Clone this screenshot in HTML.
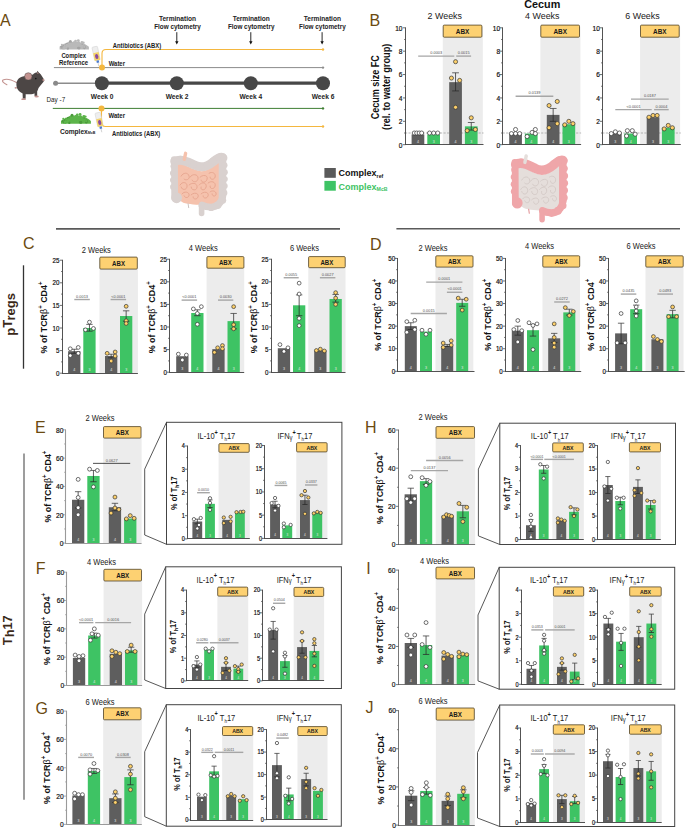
<!DOCTYPE html>
<html><head><meta charset="utf-8"><style>
html,body{margin:0;padding:0;background:#fff;}
svg{display:block;}
text{font-family:"Liberation Sans", sans-serif;}
</style></head><body>
<svg width="685" height="828" viewBox="0 0 685 828">
<rect x="442.8" y="26.8" width="40" height="117.9" fill="#ececec"/>
<line x1="405" y1="133.01" x2="483.5" y2="133.01" stroke="#9a9a9a" stroke-width="0.7" stroke-dasharray="2.2,1.3"/>
<rect x="411.6" y="134.41" width="12.7" height="10.29" fill="#5e5e5e"/>
<rect x="427.3" y="134.41" width="12.7" height="10.29" fill="#3ec364"/>
<rect x="449.2" y="82.16" width="12.7" height="62.54" fill="#5e5e5e"/>
<rect x="464.9" y="126.35" width="12.7" height="18.35" fill="#3ec364"/>
<circle cx="414.26" cy="133.01" r="2.05" fill="#fff" stroke="#333" stroke-width="0.7"/>
<circle cx="416.72" cy="133.01" r="2.05" fill="#fff" stroke="#333" stroke-width="0.7"/>
<circle cx="419.18" cy="133.01" r="2.05" fill="#fff" stroke="#333" stroke-width="0.7"/>
<circle cx="421.64" cy="133.01" r="2.05" fill="#fff" stroke="#333" stroke-width="0.7"/>
<text x="417.95" y="142.5" font-size="3.6" text-anchor="middle" fill="#e8e8e8">4</text>
<circle cx="429.55" cy="133.01" r="2.05" fill="#fff" stroke="#333" stroke-width="0.7"/>
<circle cx="433.65" cy="133.01" r="2.05" fill="#fff" stroke="#333" stroke-width="0.7"/>
<circle cx="437.75" cy="133.01" r="2.05" fill="#fff" stroke="#333" stroke-width="0.7"/>
<text x="433.65" y="142.5" font-size="3.6" text-anchor="middle" fill="#e8e8e8">3</text>
<line x1="455.55" y1="90.93" x2="455.55" y2="72.81" stroke="#2a2a2a" stroke-width="0.75"/>
<line x1="452.15" y1="72.81" x2="458.95" y2="72.81" stroke="#3a3a3a" stroke-width="0.75"/>
<line x1="452.15" y1="90.93" x2="458.95" y2="90.93" stroke="#2a2a2a" stroke-width="0.75"/>
<circle cx="455.55" cy="61.7" r="2.05" fill="#fdd06a" stroke="#333" stroke-width="0.7"/>
<circle cx="451.45" cy="78.07" r="2.05" fill="#fdd06a" stroke="#333" stroke-width="0.7"/>
<circle cx="459.65" cy="80.4" r="2.05" fill="#fdd06a" stroke="#333" stroke-width="0.7"/>
<circle cx="455.55" cy="107.29" r="2.05" fill="#fdd06a" stroke="#333" stroke-width="0.7"/>
<text x="455.55" y="142.5" font-size="3.6" text-anchor="middle" fill="#e8e8e8">4</text>
<line x1="471.25" y1="130.09" x2="471.25" y2="122.49" stroke="#2a2a2a" stroke-width="0.75"/>
<line x1="467.85" y1="122.49" x2="474.65" y2="122.49" stroke="#3a3a3a" stroke-width="0.75"/>
<line x1="467.85" y1="130.09" x2="474.65" y2="130.09" stroke="#2a2a2a" stroke-width="0.75"/>
<circle cx="471.25" cy="117.81" r="2.05" fill="#fdd06a" stroke="#333" stroke-width="0.7"/>
<circle cx="467.15" cy="130.67" r="2.05" fill="#fdd06a" stroke="#333" stroke-width="0.7"/>
<circle cx="475.35" cy="129.5" r="2.05" fill="#fdd06a" stroke="#333" stroke-width="0.7"/>
<text x="471.25" y="142.5" font-size="3.6" text-anchor="middle" fill="#e8e8e8">3</text>
<rect x="443.2" y="25.1" width="38.7" height="12.1" rx="1" fill="#fdd172" stroke="#45391f" stroke-width="0.75"/>
<text transform="translate(462.55 33.9) scale(1 1.1)" font-size="6.4" text-anchor="middle" font-weight="bold" fill="#1a1a1a">ABX</text>
<line x1="405.5" y1="27.4" x2="405.5" y2="145" stroke="#4a4a4a" stroke-width="0.95"/>
<line x1="405" y1="144.5" x2="483.5" y2="144.5" stroke="#4a4a4a" stroke-width="0.95"/>
<line x1="402.9" y1="144.7" x2="405.5" y2="144.7" stroke="#4a4a4a" stroke-width="0.8"/>
<text transform="translate(402.5 147.5) scale(1 1.18)" font-size="6.6" text-anchor="end" fill="#111" stroke="#111" stroke-width="0.18">0</text>
<line x1="404" y1="133.01" x2="405.5" y2="133.01" stroke="#4a4a4a" stroke-width="0.7"/>
<line x1="402.9" y1="121.32" x2="405.5" y2="121.32" stroke="#4a4a4a" stroke-width="0.8"/>
<text transform="translate(402.5 124.12) scale(1 1.18)" font-size="6.6" text-anchor="end" fill="#111" stroke="#111" stroke-width="0.18">2</text>
<line x1="404" y1="109.63" x2="405.5" y2="109.63" stroke="#4a4a4a" stroke-width="0.7"/>
<line x1="402.9" y1="97.94" x2="405.5" y2="97.94" stroke="#4a4a4a" stroke-width="0.8"/>
<text transform="translate(402.5 100.74) scale(1 1.18)" font-size="6.6" text-anchor="end" fill="#111" stroke="#111" stroke-width="0.18">4</text>
<line x1="404" y1="86.25" x2="405.5" y2="86.25" stroke="#4a4a4a" stroke-width="0.7"/>
<line x1="402.9" y1="74.56" x2="405.5" y2="74.56" stroke="#4a4a4a" stroke-width="0.8"/>
<text transform="translate(402.5 77.36) scale(1 1.18)" font-size="6.6" text-anchor="end" fill="#111" stroke="#111" stroke-width="0.18">6</text>
<line x1="404" y1="62.87" x2="405.5" y2="62.87" stroke="#4a4a4a" stroke-width="0.7"/>
<line x1="402.9" y1="51.18" x2="405.5" y2="51.18" stroke="#4a4a4a" stroke-width="0.8"/>
<text transform="translate(402.5 53.98) scale(1 1.18)" font-size="6.6" text-anchor="end" fill="#111" stroke="#111" stroke-width="0.18">8</text>
<line x1="404" y1="39.49" x2="405.5" y2="39.49" stroke="#4a4a4a" stroke-width="0.7"/>
<line x1="402.9" y1="27.8" x2="405.5" y2="27.8" stroke="#4a4a4a" stroke-width="0.8"/>
<text transform="translate(402.5 30.6) scale(1 1.18)" font-size="6.6" text-anchor="end" fill="#111" stroke="#111" stroke-width="0.18">10</text>
<line x1="418.2" y1="56.09" x2="454.3" y2="56.09" stroke="#a6a6a6" stroke-width="1.4"/>
<text x="436.25" y="54.29" font-size="3.9" text-anchor="middle" fill="#505050">0.0003</text>
<line x1="456.2" y1="56.09" x2="471.1" y2="56.09" stroke="#a6a6a6" stroke-width="1.4"/>
<text x="463.65" y="54.29" font-size="3.9" text-anchor="middle" fill="#505050">0.0015</text>
<rect x="540.4" y="26.8" width="40" height="117.9" fill="#ececec"/>
<line x1="502.6" y1="133.01" x2="581.1" y2="133.01" stroke="#9a9a9a" stroke-width="0.7" stroke-dasharray="2.2,1.3"/>
<rect x="509.2" y="133.01" width="12.7" height="11.69" fill="#5e5e5e"/>
<rect x="524.9" y="133.59" width="12.7" height="11.11" fill="#3ec364"/>
<rect x="546.8" y="114.89" width="12.7" height="29.81" fill="#5e5e5e"/>
<rect x="562.5" y="124.24" width="12.7" height="20.46" fill="#3ec364"/>
<circle cx="515.55" cy="129.5" r="2.05" fill="#fff" stroke="#333" stroke-width="0.7"/>
<circle cx="511.45" cy="133.59" r="2.05" fill="#fff" stroke="#333" stroke-width="0.7"/>
<circle cx="515.55" cy="133.59" r="2.05" fill="#fff" stroke="#333" stroke-width="0.7"/>
<circle cx="519.65" cy="133.59" r="2.05" fill="#fff" stroke="#333" stroke-width="0.7"/>
<text x="515.55" y="142.5" font-size="3.6" text-anchor="middle" fill="#e8e8e8">4</text>
<circle cx="535.35" cy="129.5" r="2.05" fill="#fff" stroke="#333" stroke-width="0.7"/>
<circle cx="532.07" cy="132.43" r="2.05" fill="#fff" stroke="#333" stroke-width="0.7"/>
<circle cx="527.15" cy="136.52" r="2.05" fill="#fff" stroke="#333" stroke-width="0.7"/>
<circle cx="535.35" cy="133.59" r="2.05" fill="#fff" stroke="#333" stroke-width="0.7"/>
<text x="531.25" y="142.5" font-size="3.6" text-anchor="middle" fill="#e8e8e8">4</text>
<line x1="553.15" y1="121.32" x2="553.15" y2="108.46" stroke="#2a2a2a" stroke-width="0.75"/>
<line x1="549.75" y1="108.46" x2="556.55" y2="108.46" stroke="#3a3a3a" stroke-width="0.75"/>
<line x1="549.75" y1="121.32" x2="556.55" y2="121.32" stroke="#2a2a2a" stroke-width="0.75"/>
<circle cx="557.25" cy="101.45" r="2.05" fill="#fdd06a" stroke="#333" stroke-width="0.7"/>
<circle cx="549.05" cy="105.54" r="2.05" fill="#fdd06a" stroke="#333" stroke-width="0.7"/>
<circle cx="557.25" cy="123.66" r="2.05" fill="#fdd06a" stroke="#333" stroke-width="0.7"/>
<circle cx="549.05" cy="127.75" r="2.05" fill="#fdd06a" stroke="#333" stroke-width="0.7"/>
<text x="553.15" y="142.5" font-size="3.6" text-anchor="middle" fill="#e8e8e8">4</text>
<circle cx="568.85" cy="121.32" r="2.05" fill="#fdd06a" stroke="#333" stroke-width="0.7"/>
<circle cx="572.95" cy="123.66" r="2.05" fill="#fdd06a" stroke="#333" stroke-width="0.7"/>
<circle cx="564.75" cy="124.83" r="2.05" fill="#fdd06a" stroke="#333" stroke-width="0.7"/>
<text x="568.85" y="142.5" font-size="3.6" text-anchor="middle" fill="#e8e8e8">3</text>
<rect x="540.8" y="25.1" width="38.7" height="12.1" rx="1" fill="#fdd172" stroke="#45391f" stroke-width="0.75"/>
<text transform="translate(560.15 33.9) scale(1 1.1)" font-size="6.4" text-anchor="middle" font-weight="bold" fill="#1a1a1a">ABX</text>
<line x1="502.5" y1="27.4" x2="502.5" y2="145" stroke="#4a4a4a" stroke-width="0.95"/>
<line x1="502" y1="144.5" x2="581.1" y2="144.5" stroke="#4a4a4a" stroke-width="0.95"/>
<line x1="499.9" y1="144.7" x2="502.5" y2="144.7" stroke="#4a4a4a" stroke-width="0.8"/>
<text transform="translate(500.1 147.5) scale(1 1.18)" font-size="6.6" text-anchor="end" fill="#111" stroke="#111" stroke-width="0.18">0</text>
<line x1="501" y1="133.01" x2="502.5" y2="133.01" stroke="#4a4a4a" stroke-width="0.7"/>
<line x1="499.9" y1="121.32" x2="502.5" y2="121.32" stroke="#4a4a4a" stroke-width="0.8"/>
<text transform="translate(500.1 124.12) scale(1 1.18)" font-size="6.6" text-anchor="end" fill="#111" stroke="#111" stroke-width="0.18">2</text>
<line x1="501" y1="109.63" x2="502.5" y2="109.63" stroke="#4a4a4a" stroke-width="0.7"/>
<line x1="499.9" y1="97.94" x2="502.5" y2="97.94" stroke="#4a4a4a" stroke-width="0.8"/>
<text transform="translate(500.1 100.74) scale(1 1.18)" font-size="6.6" text-anchor="end" fill="#111" stroke="#111" stroke-width="0.18">4</text>
<line x1="501" y1="86.25" x2="502.5" y2="86.25" stroke="#4a4a4a" stroke-width="0.7"/>
<line x1="499.9" y1="74.56" x2="502.5" y2="74.56" stroke="#4a4a4a" stroke-width="0.8"/>
<text transform="translate(500.1 77.36) scale(1 1.18)" font-size="6.6" text-anchor="end" fill="#111" stroke="#111" stroke-width="0.18">6</text>
<line x1="501" y1="62.87" x2="502.5" y2="62.87" stroke="#4a4a4a" stroke-width="0.7"/>
<line x1="499.9" y1="51.18" x2="502.5" y2="51.18" stroke="#4a4a4a" stroke-width="0.8"/>
<text transform="translate(500.1 53.98) scale(1 1.18)" font-size="6.6" text-anchor="end" fill="#111" stroke="#111" stroke-width="0.18">8</text>
<line x1="501" y1="39.49" x2="502.5" y2="39.49" stroke="#4a4a4a" stroke-width="0.7"/>
<line x1="499.9" y1="27.8" x2="502.5" y2="27.8" stroke="#4a4a4a" stroke-width="0.8"/>
<text transform="translate(500.1 30.6) scale(1 1.18)" font-size="6.6" text-anchor="end" fill="#111" stroke="#111" stroke-width="0.18">10</text>
<line x1="515.6" y1="96.19" x2="553.3" y2="96.19" stroke="#a6a6a6" stroke-width="1.4"/>
<text x="534.45" y="94.39" font-size="3.9" text-anchor="middle" fill="#505050">0.0139</text>
<rect x="640.1" y="26.8" width="40" height="117.9" fill="#ececec"/>
<line x1="602.3" y1="133.01" x2="680.8" y2="133.01" stroke="#9a9a9a" stroke-width="0.7" stroke-dasharray="2.2,1.3"/>
<rect x="609" y="133.59" width="12.7" height="11.11" fill="#5e5e5e"/>
<rect x="624.3" y="133.59" width="12.7" height="11.11" fill="#3ec364"/>
<rect x="646.7" y="117.23" width="12.7" height="27.47" fill="#5e5e5e"/>
<rect x="661.9" y="127.75" width="12.7" height="16.95" fill="#3ec364"/>
<circle cx="615.35" cy="131.84" r="2.05" fill="#fff" stroke="#333" stroke-width="0.7"/>
<circle cx="611.25" cy="133.59" r="2.05" fill="#fff" stroke="#333" stroke-width="0.7"/>
<circle cx="619.45" cy="133.01" r="2.05" fill="#fff" stroke="#333" stroke-width="0.7"/>
<text x="615.35" y="142.5" font-size="3.6" text-anchor="middle" fill="#e8e8e8">3</text>
<circle cx="627.37" cy="130.67" r="2.05" fill="#fff" stroke="#333" stroke-width="0.7"/>
<circle cx="632.29" cy="130.67" r="2.05" fill="#fff" stroke="#333" stroke-width="0.7"/>
<circle cx="626.55" cy="135.93" r="2.05" fill="#fff" stroke="#333" stroke-width="0.7"/>
<circle cx="635.16" cy="134.18" r="2.05" fill="#fff" stroke="#333" stroke-width="0.7"/>
<text x="630.65" y="142.5" font-size="3.6" text-anchor="middle" fill="#e8e8e8">4</text>
<circle cx="653.05" cy="115.47" r="2.05" fill="#fdd06a" stroke="#333" stroke-width="0.7"/>
<circle cx="657.15" cy="115.47" r="2.05" fill="#fdd06a" stroke="#333" stroke-width="0.7"/>
<circle cx="648.95" cy="117.23" r="2.05" fill="#fdd06a" stroke="#333" stroke-width="0.7"/>
<text x="653.05" y="142.5" font-size="3.6" text-anchor="middle" fill="#e8e8e8">3</text>
<circle cx="668.25" cy="125.41" r="2.05" fill="#fdd06a" stroke="#333" stroke-width="0.7"/>
<circle cx="672.35" cy="127.75" r="2.05" fill="#fdd06a" stroke="#333" stroke-width="0.7"/>
<circle cx="664.15" cy="128.92" r="2.05" fill="#fdd06a" stroke="#333" stroke-width="0.7"/>
<text x="668.25" y="142.5" font-size="3.6" text-anchor="middle" fill="#e8e8e8">3</text>
<rect x="640.5" y="25.1" width="38.7" height="12.1" rx="1" fill="#fdd172" stroke="#45391f" stroke-width="0.75"/>
<text transform="translate(659.85 33.9) scale(1 1.1)" font-size="6.4" text-anchor="middle" font-weight="bold" fill="#1a1a1a">ABX</text>
<line x1="602.5" y1="27.4" x2="602.5" y2="145" stroke="#4a4a4a" stroke-width="0.95"/>
<line x1="602" y1="144.5" x2="680.8" y2="144.5" stroke="#4a4a4a" stroke-width="0.95"/>
<line x1="599.9" y1="144.7" x2="602.5" y2="144.7" stroke="#4a4a4a" stroke-width="0.8"/>
<text transform="translate(599.8 147.5) scale(1 1.18)" font-size="6.6" text-anchor="end" fill="#111" stroke="#111" stroke-width="0.18">0</text>
<line x1="601" y1="133.01" x2="602.5" y2="133.01" stroke="#4a4a4a" stroke-width="0.7"/>
<line x1="599.9" y1="121.32" x2="602.5" y2="121.32" stroke="#4a4a4a" stroke-width="0.8"/>
<text transform="translate(599.8 124.12) scale(1 1.18)" font-size="6.6" text-anchor="end" fill="#111" stroke="#111" stroke-width="0.18">2</text>
<line x1="601" y1="109.63" x2="602.5" y2="109.63" stroke="#4a4a4a" stroke-width="0.7"/>
<line x1="599.9" y1="97.94" x2="602.5" y2="97.94" stroke="#4a4a4a" stroke-width="0.8"/>
<text transform="translate(599.8 100.74) scale(1 1.18)" font-size="6.6" text-anchor="end" fill="#111" stroke="#111" stroke-width="0.18">4</text>
<line x1="601" y1="86.25" x2="602.5" y2="86.25" stroke="#4a4a4a" stroke-width="0.7"/>
<line x1="599.9" y1="74.56" x2="602.5" y2="74.56" stroke="#4a4a4a" stroke-width="0.8"/>
<text transform="translate(599.8 77.36) scale(1 1.18)" font-size="6.6" text-anchor="end" fill="#111" stroke="#111" stroke-width="0.18">6</text>
<line x1="601" y1="62.87" x2="602.5" y2="62.87" stroke="#4a4a4a" stroke-width="0.7"/>
<line x1="599.9" y1="51.18" x2="602.5" y2="51.18" stroke="#4a4a4a" stroke-width="0.8"/>
<text transform="translate(599.8 53.98) scale(1 1.18)" font-size="6.6" text-anchor="end" fill="#111" stroke="#111" stroke-width="0.18">8</text>
<line x1="601" y1="39.49" x2="602.5" y2="39.49" stroke="#4a4a4a" stroke-width="0.7"/>
<line x1="599.9" y1="27.8" x2="602.5" y2="27.8" stroke="#4a4a4a" stroke-width="0.8"/>
<text transform="translate(599.8 30.6) scale(1 1.18)" font-size="6.6" text-anchor="end" fill="#111" stroke="#111" stroke-width="0.18">10</text>
<line x1="615.3" y1="109.63" x2="651.7" y2="109.63" stroke="#a6a6a6" stroke-width="1.4"/>
<text x="633.5" y="107.83" font-size="3.9" text-anchor="middle" fill="#505050">&lt;0.0001</text>
<line x1="654.1" y1="109.63" x2="668.7" y2="109.63" stroke="#a6a6a6" stroke-width="1.4"/>
<text x="661.4" y="107.83" font-size="3.9" text-anchor="middle" fill="#505050">0.0004</text>
<line x1="631" y1="99.11" x2="668.7" y2="99.11" stroke="#a6a6a6" stroke-width="1.4"/>
<text x="649.85" y="97.31" font-size="3.9" text-anchor="middle" fill="#505050">0.0187</text>
<rect x="99.5" y="258.8" width="38.4" height="114.4" fill="#ececec"/>
<rect x="68.1" y="351.19" width="12.3" height="22.01" fill="#5e5e5e"/>
<rect x="83.3" y="328" width="12.3" height="45.2" fill="#3ec364"/>
<rect x="105" y="356.02" width="12.3" height="17.18" fill="#5e5e5e"/>
<rect x="120" y="316.02" width="12.3" height="57.18" fill="#3ec364"/>
<line x1="74.25" y1="353.31" x2="74.25" y2="349.24" stroke="#2a2a2a" stroke-width="0.75"/>
<line x1="71.05" y1="349.24" x2="77.45" y2="349.24" stroke="#3a3a3a" stroke-width="0.75"/>
<line x1="71.05" y1="353.31" x2="77.45" y2="353.31" stroke="#2a2a2a" stroke-width="0.75"/>
<circle cx="70.25" cy="348.79" r="1.9" fill="#fff" stroke="#333" stroke-width="0.7"/>
<circle cx="78.25" cy="347.44" r="1.9" fill="#fff" stroke="#333" stroke-width="0.7"/>
<circle cx="70.25" cy="355.57" r="1.9" fill="#fff" stroke="#333" stroke-width="0.7"/>
<circle cx="78.25" cy="353.31" r="1.9" fill="#fff" stroke="#333" stroke-width="0.7"/>
<text x="74.25" y="371" font-size="3.6" text-anchor="middle" fill="#e8e8e8">4</text>
<line x1="89.45" y1="331.16" x2="89.45" y2="324.38" stroke="#2a2a2a" stroke-width="0.75"/>
<line x1="86.25" y1="324.38" x2="92.65" y2="324.38" stroke="#3a3a3a" stroke-width="0.75"/>
<line x1="86.25" y1="331.16" x2="92.65" y2="331.16" stroke="#2a2a2a" stroke-width="0.75"/>
<circle cx="89.45" cy="322.12" r="1.9" fill="#fff" stroke="#333" stroke-width="0.7"/>
<circle cx="85.45" cy="329.81" r="1.9" fill="#fff" stroke="#333" stroke-width="0.7"/>
<circle cx="93.45" cy="328.45" r="1.9" fill="#fff" stroke="#333" stroke-width="0.7"/>
<text x="89.45" y="371" font-size="3.6" text-anchor="middle" fill="#e8e8e8">3</text>
<line x1="111.15" y1="357.83" x2="111.15" y2="354.22" stroke="#2a2a2a" stroke-width="0.75"/>
<line x1="107.95" y1="354.22" x2="114.35" y2="354.22" stroke="#3a3a3a" stroke-width="0.75"/>
<line x1="107.95" y1="357.83" x2="114.35" y2="357.83" stroke="#2a2a2a" stroke-width="0.75"/>
<circle cx="107.15" cy="353.31" r="1.9" fill="#fdd06a" stroke="#333" stroke-width="0.7"/>
<circle cx="115.15" cy="351.96" r="1.9" fill="#fdd06a" stroke="#333" stroke-width="0.7"/>
<circle cx="115.15" cy="356.02" r="1.9" fill="#fdd06a" stroke="#333" stroke-width="0.7"/>
<circle cx="111.15" cy="361" r="1.9" fill="#fdd06a" stroke="#333" stroke-width="0.7"/>
<text x="111.15" y="371" font-size="3.6" text-anchor="middle" fill="#e8e8e8">4</text>
<line x1="126.15" y1="321.22" x2="126.15" y2="310.82" stroke="#2a2a2a" stroke-width="0.75"/>
<line x1="122.95" y1="310.82" x2="129.35" y2="310.82" stroke="#3a3a3a" stroke-width="0.75"/>
<line x1="122.95" y1="321.22" x2="129.35" y2="321.22" stroke="#2a2a2a" stroke-width="0.75"/>
<circle cx="126.15" cy="306.3" r="1.9" fill="#fdd06a" stroke="#333" stroke-width="0.7"/>
<circle cx="126.15" cy="320.77" r="1.9" fill="#fdd06a" stroke="#333" stroke-width="0.7"/>
<circle cx="126.15" cy="323.48" r="1.9" fill="#fdd06a" stroke="#333" stroke-width="0.7"/>
<text x="126.15" y="371" font-size="3.6" text-anchor="middle" fill="#e8e8e8">3</text>
<rect x="99.8" y="257.1" width="37.5" height="12" rx="1" fill="#fdd172" stroke="#45391f" stroke-width="0.75"/>
<text transform="translate(118.55 265.72) scale(1 1.1)" font-size="6.1" text-anchor="middle" font-weight="bold" fill="#1a1a1a">ABX</text>
<line x1="62.5" y1="259.8" x2="62.5" y2="374" stroke="#4a4a4a" stroke-width="0.95"/>
<line x1="62" y1="373.5" x2="137.9" y2="373.5" stroke="#4a4a4a" stroke-width="0.95"/>
<line x1="59.9" y1="373.2" x2="62.5" y2="373.2" stroke="#4a4a4a" stroke-width="0.8"/>
<text transform="translate(59.5 375.83) scale(1 1.18)" font-size="6.2" text-anchor="end" fill="#111" stroke="#111" stroke-width="0.18">0</text>
<line x1="61" y1="361.9" x2="62.5" y2="361.9" stroke="#4a4a4a" stroke-width="0.7"/>
<line x1="59.9" y1="350.6" x2="62.5" y2="350.6" stroke="#4a4a4a" stroke-width="0.8"/>
<text transform="translate(59.5 353.23) scale(1 1.18)" font-size="6.2" text-anchor="end" fill="#111" stroke="#111" stroke-width="0.18">5</text>
<line x1="61" y1="339.3" x2="62.5" y2="339.3" stroke="#4a4a4a" stroke-width="0.7"/>
<line x1="59.9" y1="328" x2="62.5" y2="328" stroke="#4a4a4a" stroke-width="0.8"/>
<text transform="translate(59.5 330.63) scale(1 1.18)" font-size="6.2" text-anchor="end" fill="#111" stroke="#111" stroke-width="0.18">10</text>
<line x1="61" y1="316.7" x2="62.5" y2="316.7" stroke="#4a4a4a" stroke-width="0.7"/>
<line x1="59.9" y1="305.4" x2="62.5" y2="305.4" stroke="#4a4a4a" stroke-width="0.8"/>
<text transform="translate(59.5 308.03) scale(1 1.18)" font-size="6.2" text-anchor="end" fill="#111" stroke="#111" stroke-width="0.18">15</text>
<line x1="61" y1="294.1" x2="62.5" y2="294.1" stroke="#4a4a4a" stroke-width="0.7"/>
<line x1="59.9" y1="282.8" x2="62.5" y2="282.8" stroke="#4a4a4a" stroke-width="0.8"/>
<text transform="translate(59.5 285.43) scale(1 1.18)" font-size="6.2" text-anchor="end" fill="#111" stroke="#111" stroke-width="0.18">20</text>
<line x1="61" y1="271.5" x2="62.5" y2="271.5" stroke="#4a4a4a" stroke-width="0.7"/>
<line x1="59.9" y1="260.2" x2="62.5" y2="260.2" stroke="#4a4a4a" stroke-width="0.8"/>
<text transform="translate(59.5 262.83) scale(1 1.18)" font-size="6.2" text-anchor="end" fill="#111" stroke="#111" stroke-width="0.18">25</text>
<line x1="74.3" y1="299.52" x2="89.8" y2="299.52" stroke="#a6a6a6" stroke-width="1.4"/>
<text x="82.05" y="297.72" font-size="3.9" text-anchor="middle" fill="#505050">0.0013</text>
<line x1="110.6" y1="299.52" x2="126.1" y2="299.52" stroke="#a6a6a6" stroke-width="1.4"/>
<text x="118.35" y="297.72" font-size="3.9" text-anchor="middle" fill="#505050">&lt;0.0001</text>
<rect x="206.6" y="258.3" width="37.6" height="113.9" fill="#ececec"/>
<rect x="176.2" y="356.24" width="12.3" height="15.96" fill="#5e5e5e"/>
<rect x="191.2" y="312.99" width="12.3" height="59.21" fill="#3ec364"/>
<rect x="212.3" y="349.15" width="12.3" height="23.05" fill="#5e5e5e"/>
<rect x="227.5" y="321.12" width="12.3" height="51.08" fill="#3ec364"/>
<circle cx="178.35" cy="354.12" r="1.9" fill="#fff" stroke="#333" stroke-width="0.7"/>
<circle cx="186.35" cy="355.02" r="1.9" fill="#fff" stroke="#333" stroke-width="0.7"/>
<circle cx="182.35" cy="360" r="1.9" fill="#fff" stroke="#333" stroke-width="0.7"/>
<text x="182.35" y="370" font-size="3.6" text-anchor="middle" fill="#e8e8e8">3</text>
<line x1="197.35" y1="315.7" x2="197.35" y2="309.82" stroke="#2a2a2a" stroke-width="0.75"/>
<line x1="194.15" y1="309.82" x2="200.55" y2="309.82" stroke="#3a3a3a" stroke-width="0.75"/>
<line x1="194.15" y1="315.7" x2="200.55" y2="315.7" stroke="#2a2a2a" stroke-width="0.75"/>
<circle cx="193.35" cy="308.92" r="1.9" fill="#fff" stroke="#333" stroke-width="0.7"/>
<circle cx="201.35" cy="306.66" r="1.9" fill="#fff" stroke="#333" stroke-width="0.7"/>
<circle cx="197.35" cy="313.44" r="1.9" fill="#fff" stroke="#333" stroke-width="0.7"/>
<circle cx="197.35" cy="324.29" r="1.9" fill="#fff" stroke="#333" stroke-width="0.7"/>
<text x="197.35" y="370" font-size="3.6" text-anchor="middle" fill="#e8e8e8">4</text>
<circle cx="214.45" cy="352.31" r="1.9" fill="#fdd06a" stroke="#333" stroke-width="0.7"/>
<circle cx="217.65" cy="347.79" r="1.9" fill="#fdd06a" stroke="#333" stroke-width="0.7"/>
<circle cx="222.45" cy="345.53" r="1.9" fill="#fdd06a" stroke="#333" stroke-width="0.7"/>
<circle cx="222.45" cy="348.7" r="1.9" fill="#fdd06a" stroke="#333" stroke-width="0.7"/>
<text x="218.45" y="370" font-size="3.6" text-anchor="middle" fill="#e8e8e8">4</text>
<line x1="233.65" y1="328.81" x2="233.65" y2="313.44" stroke="#2a2a2a" stroke-width="0.75"/>
<line x1="230.45" y1="313.44" x2="236.85" y2="313.44" stroke="#3a3a3a" stroke-width="0.75"/>
<line x1="230.45" y1="328.81" x2="236.85" y2="328.81" stroke="#2a2a2a" stroke-width="0.75"/>
<circle cx="233.65" cy="306.66" r="1.9" fill="#fdd06a" stroke="#333" stroke-width="0.7"/>
<circle cx="233.65" cy="324.74" r="1.9" fill="#fdd06a" stroke="#333" stroke-width="0.7"/>
<circle cx="233.65" cy="328.81" r="1.9" fill="#fdd06a" stroke="#333" stroke-width="0.7"/>
<text x="233.65" y="370" font-size="3.6" text-anchor="middle" fill="#e8e8e8">3</text>
<rect x="206.9" y="256.6" width="37" height="11.6" rx="1" fill="#fdd172" stroke="#45391f" stroke-width="0.75"/>
<text transform="translate(225.4 265.02) scale(1 1.1)" font-size="6.1" text-anchor="middle" font-weight="bold" fill="#1a1a1a">ABX</text>
<line x1="169.5" y1="258.8" x2="169.5" y2="373" stroke="#4a4a4a" stroke-width="0.95"/>
<line x1="169" y1="372.5" x2="244.2" y2="372.5" stroke="#4a4a4a" stroke-width="0.95"/>
<line x1="166.9" y1="372.2" x2="169.5" y2="372.2" stroke="#4a4a4a" stroke-width="0.8"/>
<text transform="translate(166.9 374.83) scale(1 1.18)" font-size="6.2" text-anchor="end" fill="#111" stroke="#111" stroke-width="0.18">0</text>
<line x1="168" y1="360.9" x2="169.5" y2="360.9" stroke="#4a4a4a" stroke-width="0.7"/>
<line x1="166.9" y1="349.6" x2="169.5" y2="349.6" stroke="#4a4a4a" stroke-width="0.8"/>
<text transform="translate(166.9 352.23) scale(1 1.18)" font-size="6.2" text-anchor="end" fill="#111" stroke="#111" stroke-width="0.18">5</text>
<line x1="168" y1="338.3" x2="169.5" y2="338.3" stroke="#4a4a4a" stroke-width="0.7"/>
<line x1="166.9" y1="327" x2="169.5" y2="327" stroke="#4a4a4a" stroke-width="0.8"/>
<text transform="translate(166.9 329.63) scale(1 1.18)" font-size="6.2" text-anchor="end" fill="#111" stroke="#111" stroke-width="0.18">10</text>
<line x1="168" y1="315.7" x2="169.5" y2="315.7" stroke="#4a4a4a" stroke-width="0.7"/>
<line x1="166.9" y1="304.4" x2="169.5" y2="304.4" stroke="#4a4a4a" stroke-width="0.8"/>
<text transform="translate(166.9 307.03) scale(1 1.18)" font-size="6.2" text-anchor="end" fill="#111" stroke="#111" stroke-width="0.18">15</text>
<line x1="168" y1="293.1" x2="169.5" y2="293.1" stroke="#4a4a4a" stroke-width="0.7"/>
<line x1="166.9" y1="281.8" x2="169.5" y2="281.8" stroke="#4a4a4a" stroke-width="0.8"/>
<text transform="translate(166.9 284.43) scale(1 1.18)" font-size="6.2" text-anchor="end" fill="#111" stroke="#111" stroke-width="0.18">20</text>
<line x1="168" y1="270.5" x2="169.5" y2="270.5" stroke="#4a4a4a" stroke-width="0.7"/>
<line x1="166.9" y1="259.2" x2="169.5" y2="259.2" stroke="#4a4a4a" stroke-width="0.8"/>
<text transform="translate(166.9 261.83) scale(1 1.18)" font-size="6.2" text-anchor="end" fill="#111" stroke="#111" stroke-width="0.18">25</text>
<line x1="181.6" y1="300.11" x2="197.1" y2="300.11" stroke="#a6a6a6" stroke-width="1.4"/>
<text x="189.35" y="298.31" font-size="3.9" text-anchor="middle" fill="#505050">&lt;0.0001</text>
<line x1="218" y1="300.11" x2="233.3" y2="300.11" stroke="#a6a6a6" stroke-width="1.4"/>
<text x="225.65" y="298.31" font-size="3.9" text-anchor="middle" fill="#505050">0.0030</text>
<rect x="308.3" y="258.3" width="37.2" height="113.9" fill="#ececec"/>
<rect x="277.8" y="348.24" width="12.3" height="23.96" fill="#5e5e5e"/>
<rect x="293" y="305.3" width="12.3" height="66.9" fill="#3ec364"/>
<rect x="314.2" y="350.5" width="12.3" height="21.7" fill="#5e5e5e"/>
<rect x="329.5" y="298.98" width="12.3" height="73.22" fill="#3ec364"/>
<circle cx="279.95" cy="344.63" r="1.9" fill="#fff" stroke="#333" stroke-width="0.7"/>
<circle cx="287.95" cy="347.79" r="1.9" fill="#fff" stroke="#333" stroke-width="0.7"/>
<circle cx="283.95" cy="351.41" r="1.9" fill="#fff" stroke="#333" stroke-width="0.7"/>
<text x="283.95" y="370" font-size="3.6" text-anchor="middle" fill="#e8e8e8">3</text>
<line x1="299.15" y1="315.7" x2="299.15" y2="294.91" stroke="#2a2a2a" stroke-width="0.75"/>
<line x1="295.95" y1="294.91" x2="302.35" y2="294.91" stroke="#3a3a3a" stroke-width="0.75"/>
<line x1="295.95" y1="315.7" x2="302.35" y2="315.7" stroke="#2a2a2a" stroke-width="0.75"/>
<circle cx="299.15" cy="283.16" r="1.9" fill="#fff" stroke="#333" stroke-width="0.7"/>
<circle cx="299.15" cy="294" r="1.9" fill="#fff" stroke="#333" stroke-width="0.7"/>
<circle cx="299.15" cy="318.41" r="1.9" fill="#fff" stroke="#333" stroke-width="0.7"/>
<circle cx="299.15" cy="325.64" r="1.9" fill="#fff" stroke="#333" stroke-width="0.7"/>
<text x="299.15" y="370" font-size="3.6" text-anchor="middle" fill="#e8e8e8">4</text>
<circle cx="316.35" cy="350.5" r="1.9" fill="#fdd06a" stroke="#333" stroke-width="0.7"/>
<circle cx="320.35" cy="349.15" r="1.9" fill="#fdd06a" stroke="#333" stroke-width="0.7"/>
<circle cx="324.35" cy="350.96" r="1.9" fill="#fdd06a" stroke="#333" stroke-width="0.7"/>
<text x="320.35" y="370" font-size="3.6" text-anchor="middle" fill="#e8e8e8">3</text>
<line x1="335.65" y1="302.14" x2="335.65" y2="294.46" stroke="#2a2a2a" stroke-width="0.75"/>
<line x1="332.45" y1="294.46" x2="338.85" y2="294.46" stroke="#3a3a3a" stroke-width="0.75"/>
<line x1="332.45" y1="302.14" x2="338.85" y2="302.14" stroke="#2a2a2a" stroke-width="0.75"/>
<circle cx="335.65" cy="292.65" r="1.9" fill="#fdd06a" stroke="#333" stroke-width="0.7"/>
<circle cx="335.65" cy="298.07" r="1.9" fill="#fdd06a" stroke="#333" stroke-width="0.7"/>
<circle cx="335.65" cy="304.4" r="1.9" fill="#fdd06a" stroke="#333" stroke-width="0.7"/>
<text x="335.65" y="370" font-size="3.6" text-anchor="middle" fill="#e8e8e8">3</text>
<rect x="308.6" y="256.6" width="36.6" height="11.1" rx="1" fill="#fdd172" stroke="#45391f" stroke-width="0.75"/>
<text transform="translate(326.9 264.77) scale(1 1.1)" font-size="6.1" text-anchor="middle" font-weight="bold" fill="#1a1a1a">ABX</text>
<line x1="271.5" y1="258.8" x2="271.5" y2="373" stroke="#4a4a4a" stroke-width="0.95"/>
<line x1="271" y1="372.5" x2="345.5" y2="372.5" stroke="#4a4a4a" stroke-width="0.95"/>
<line x1="268.9" y1="372.2" x2="271.5" y2="372.2" stroke="#4a4a4a" stroke-width="0.8"/>
<text transform="translate(268.5 374.83) scale(1 1.18)" font-size="6.2" text-anchor="end" fill="#111" stroke="#111" stroke-width="0.18">0</text>
<line x1="270" y1="360.9" x2="271.5" y2="360.9" stroke="#4a4a4a" stroke-width="0.7"/>
<line x1="268.9" y1="349.6" x2="271.5" y2="349.6" stroke="#4a4a4a" stroke-width="0.8"/>
<text transform="translate(268.5 352.23) scale(1 1.18)" font-size="6.2" text-anchor="end" fill="#111" stroke="#111" stroke-width="0.18">5</text>
<line x1="270" y1="338.3" x2="271.5" y2="338.3" stroke="#4a4a4a" stroke-width="0.7"/>
<line x1="268.9" y1="327" x2="271.5" y2="327" stroke="#4a4a4a" stroke-width="0.8"/>
<text transform="translate(268.5 329.63) scale(1 1.18)" font-size="6.2" text-anchor="end" fill="#111" stroke="#111" stroke-width="0.18">10</text>
<line x1="270" y1="315.7" x2="271.5" y2="315.7" stroke="#4a4a4a" stroke-width="0.7"/>
<line x1="268.9" y1="304.4" x2="271.5" y2="304.4" stroke="#4a4a4a" stroke-width="0.8"/>
<text transform="translate(268.5 307.03) scale(1 1.18)" font-size="6.2" text-anchor="end" fill="#111" stroke="#111" stroke-width="0.18">15</text>
<line x1="270" y1="293.1" x2="271.5" y2="293.1" stroke="#4a4a4a" stroke-width="0.7"/>
<line x1="268.9" y1="281.8" x2="271.5" y2="281.8" stroke="#4a4a4a" stroke-width="0.8"/>
<text transform="translate(268.5 284.43) scale(1 1.18)" font-size="6.2" text-anchor="end" fill="#111" stroke="#111" stroke-width="0.18">20</text>
<line x1="270" y1="270.5" x2="271.5" y2="270.5" stroke="#4a4a4a" stroke-width="0.7"/>
<line x1="268.9" y1="259.2" x2="271.5" y2="259.2" stroke="#4a4a4a" stroke-width="0.8"/>
<text transform="translate(268.5 261.83) scale(1 1.18)" font-size="6.2" text-anchor="end" fill="#111" stroke="#111" stroke-width="0.18">25</text>
<line x1="283.7" y1="277.73" x2="298.7" y2="277.73" stroke="#a6a6a6" stroke-width="1.4"/>
<text x="291.2" y="275.93" font-size="3.9" text-anchor="middle" fill="#505050">0.0055</text>
<line x1="319.9" y1="277.73" x2="335.4" y2="277.73" stroke="#a6a6a6" stroke-width="1.4"/>
<text x="327.65" y="275.93" font-size="3.9" text-anchor="middle" fill="#505050">0.0027</text>
<rect x="435.5" y="257.5" width="37.8" height="113.8" fill="#ececec"/>
<rect x="404.8" y="326.14" width="12" height="45.16" fill="#5e5e5e"/>
<rect x="420" y="331.56" width="12" height="39.74" fill="#3ec364"/>
<rect x="441.2" y="345.78" width="12" height="25.52" fill="#5e5e5e"/>
<rect x="456.2" y="302.88" width="12" height="68.42" fill="#3ec364"/>
<line x1="410.8" y1="329.53" x2="410.8" y2="322.75" stroke="#2a2a2a" stroke-width="0.75"/>
<line x1="407.6" y1="322.75" x2="414" y2="322.75" stroke="#3a3a3a" stroke-width="0.75"/>
<line x1="407.6" y1="329.53" x2="414" y2="329.53" stroke="#2a2a2a" stroke-width="0.75"/>
<circle cx="406.8" cy="321.62" r="1.9" fill="#fff" stroke="#333" stroke-width="0.7"/>
<circle cx="414.8" cy="320.27" r="1.9" fill="#fff" stroke="#333" stroke-width="0.7"/>
<circle cx="414.8" cy="329.53" r="1.9" fill="#fff" stroke="#333" stroke-width="0.7"/>
<circle cx="406.8" cy="332.24" r="1.9" fill="#fff" stroke="#333" stroke-width="0.7"/>
<text x="410.8" y="369.1" font-size="3.6" text-anchor="middle" fill="#e8e8e8">4</text>
<circle cx="422" cy="330.2" r="1.9" fill="#fff" stroke="#333" stroke-width="0.7"/>
<circle cx="430" cy="330.2" r="1.9" fill="#fff" stroke="#333" stroke-width="0.7"/>
<circle cx="426" cy="334.27" r="1.9" fill="#fff" stroke="#333" stroke-width="0.7"/>
<text x="426" y="369.1" font-size="3.6" text-anchor="middle" fill="#e8e8e8">3</text>
<line x1="447.2" y1="346.46" x2="447.2" y2="344.43" stroke="#2a2a2a" stroke-width="0.75"/>
<line x1="444" y1="344.43" x2="450.4" y2="344.43" stroke="#3a3a3a" stroke-width="0.75"/>
<line x1="444" y1="346.46" x2="450.4" y2="346.46" stroke="#2a2a2a" stroke-width="0.75"/>
<circle cx="443.2" cy="343.07" r="1.9" fill="#fdd06a" stroke="#333" stroke-width="0.7"/>
<circle cx="451.2" cy="340.82" r="1.9" fill="#fdd06a" stroke="#333" stroke-width="0.7"/>
<circle cx="451.2" cy="345.11" r="1.9" fill="#fdd06a" stroke="#333" stroke-width="0.7"/>
<circle cx="443.2" cy="347.37" r="1.9" fill="#fdd06a" stroke="#333" stroke-width="0.7"/>
<text x="447.2" y="369.1" font-size="3.6" text-anchor="middle" fill="#e8e8e8">4</text>
<line x1="462.2" y1="306.27" x2="462.2" y2="299.27" stroke="#2a2a2a" stroke-width="0.75"/>
<line x1="459" y1="299.27" x2="465.4" y2="299.27" stroke="#3a3a3a" stroke-width="0.75"/>
<line x1="459" y1="306.27" x2="465.4" y2="306.27" stroke="#2a2a2a" stroke-width="0.75"/>
<circle cx="458.2" cy="298.14" r="1.9" fill="#fdd06a" stroke="#333" stroke-width="0.7"/>
<circle cx="466.2" cy="299.27" r="1.9" fill="#fdd06a" stroke="#333" stroke-width="0.7"/>
<circle cx="462.2" cy="310.11" r="1.9" fill="#fdd06a" stroke="#333" stroke-width="0.7"/>
<text x="462.2" y="369.1" font-size="3.6" text-anchor="middle" fill="#e8e8e8">3</text>
<rect x="435.8" y="255.8" width="37.2" height="11.3" rx="1" fill="#fdd172" stroke="#45391f" stroke-width="0.75"/>
<text transform="translate(454.4 264.07) scale(1 1.1)" font-size="6.1" text-anchor="middle" font-weight="bold" fill="#1a1a1a">ABX</text>
<line x1="397.5" y1="258" x2="397.5" y2="372" stroke="#4a4a4a" stroke-width="0.95"/>
<line x1="397" y1="371.5" x2="474.5" y2="371.5" stroke="#4a4a4a" stroke-width="0.95"/>
<line x1="394.9" y1="371.3" x2="397.5" y2="371.3" stroke="#4a4a4a" stroke-width="0.8"/>
<text transform="translate(395.1 373.93) scale(1 1.18)" font-size="6.2" text-anchor="end" fill="#111" stroke="#111" stroke-width="0.18">0</text>
<line x1="396" y1="360.01" x2="397.5" y2="360.01" stroke="#4a4a4a" stroke-width="0.7"/>
<line x1="394.9" y1="348.72" x2="397.5" y2="348.72" stroke="#4a4a4a" stroke-width="0.8"/>
<text transform="translate(395.1 351.35) scale(1 1.18)" font-size="6.2" text-anchor="end" fill="#111" stroke="#111" stroke-width="0.18">10</text>
<line x1="396" y1="337.43" x2="397.5" y2="337.43" stroke="#4a4a4a" stroke-width="0.7"/>
<line x1="394.9" y1="326.14" x2="397.5" y2="326.14" stroke="#4a4a4a" stroke-width="0.8"/>
<text transform="translate(395.1 328.77) scale(1 1.18)" font-size="6.2" text-anchor="end" fill="#111" stroke="#111" stroke-width="0.18">20</text>
<line x1="396" y1="314.85" x2="397.5" y2="314.85" stroke="#4a4a4a" stroke-width="0.7"/>
<line x1="394.9" y1="303.56" x2="397.5" y2="303.56" stroke="#4a4a4a" stroke-width="0.8"/>
<text transform="translate(395.1 306.19) scale(1 1.18)" font-size="6.2" text-anchor="end" fill="#111" stroke="#111" stroke-width="0.18">30</text>
<line x1="396" y1="292.27" x2="397.5" y2="292.27" stroke="#4a4a4a" stroke-width="0.7"/>
<line x1="394.9" y1="280.98" x2="397.5" y2="280.98" stroke="#4a4a4a" stroke-width="0.8"/>
<text transform="translate(395.1 283.61) scale(1 1.18)" font-size="6.2" text-anchor="end" fill="#111" stroke="#111" stroke-width="0.18">40</text>
<line x1="396" y1="269.69" x2="397.5" y2="269.69" stroke="#4a4a4a" stroke-width="0.7"/>
<line x1="394.9" y1="258.4" x2="397.5" y2="258.4" stroke="#4a4a4a" stroke-width="0.8"/>
<text transform="translate(395.1 261.03) scale(1 1.18)" font-size="6.2" text-anchor="end" fill="#111" stroke="#111" stroke-width="0.18">50</text>
<line x1="426.2" y1="282.11" x2="462.4" y2="282.11" stroke="#a6a6a6" stroke-width="1.4"/>
<text x="444.3" y="280.31" font-size="3.9" text-anchor="middle" fill="#505050">0.0001</text>
<line x1="446.9" y1="292.27" x2="462.4" y2="292.27" stroke="#a6a6a6" stroke-width="1.4"/>
<text x="454.65" y="290.47" font-size="3.9" text-anchor="middle" fill="#505050">&lt;0.0001</text>
<line x1="410.7" y1="313.5" x2="446.9" y2="313.5" stroke="#a6a6a6" stroke-width="1.4"/>
<text x="428.8" y="311.7" font-size="3.9" text-anchor="middle" fill="#505050">0.0015</text>
<rect x="542.5" y="257.5" width="37.5" height="113.8" fill="#ececec"/>
<rect x="511.8" y="330.66" width="12" height="40.64" fill="#5e5e5e"/>
<rect x="527" y="330.2" width="12" height="41.1" fill="#3ec364"/>
<rect x="548.2" y="338.33" width="12" height="32.97" fill="#5e5e5e"/>
<rect x="563.3" y="312.37" width="12" height="58.93" fill="#3ec364"/>
<line x1="517.8" y1="335.17" x2="517.8" y2="326.14" stroke="#2a2a2a" stroke-width="0.75"/>
<line x1="514.6" y1="326.14" x2="521" y2="326.14" stroke="#3a3a3a" stroke-width="0.75"/>
<line x1="514.6" y1="335.17" x2="521" y2="335.17" stroke="#2a2a2a" stroke-width="0.75"/>
<circle cx="517.8" cy="320.5" r="1.9" fill="#fff" stroke="#333" stroke-width="0.7"/>
<circle cx="513.8" cy="329.53" r="1.9" fill="#fff" stroke="#333" stroke-width="0.7"/>
<circle cx="521.8" cy="330.66" r="1.9" fill="#fff" stroke="#333" stroke-width="0.7"/>
<circle cx="517.8" cy="341.95" r="1.9" fill="#fff" stroke="#333" stroke-width="0.7"/>
<text x="517.8" y="369.1" font-size="3.6" text-anchor="middle" fill="#e8e8e8">4</text>
<line x1="533" y1="336.08" x2="533" y2="324.33" stroke="#2a2a2a" stroke-width="0.75"/>
<line x1="529.8" y1="324.33" x2="536.2" y2="324.33" stroke="#3a3a3a" stroke-width="0.75"/>
<line x1="529.8" y1="336.08" x2="536.2" y2="336.08" stroke="#2a2a2a" stroke-width="0.75"/>
<circle cx="529" cy="322.75" r="1.9" fill="#fff" stroke="#333" stroke-width="0.7"/>
<circle cx="533" cy="325.46" r="1.9" fill="#fff" stroke="#333" stroke-width="0.7"/>
<circle cx="537" cy="323.88" r="1.9" fill="#fff" stroke="#333" stroke-width="0.7"/>
<circle cx="533" cy="349.62" r="1.9" fill="#fff" stroke="#333" stroke-width="0.7"/>
<text x="533" y="369.1" font-size="3.6" text-anchor="middle" fill="#e8e8e8">4</text>
<line x1="554.2" y1="342.4" x2="554.2" y2="333.37" stroke="#2a2a2a" stroke-width="0.75"/>
<line x1="551" y1="333.37" x2="557.4" y2="333.37" stroke="#3a3a3a" stroke-width="0.75"/>
<line x1="551" y1="342.4" x2="557.4" y2="342.4" stroke="#2a2a2a" stroke-width="0.75"/>
<circle cx="554.2" cy="323.88" r="1.9" fill="#fdd06a" stroke="#333" stroke-width="0.7"/>
<circle cx="554.2" cy="337.43" r="1.9" fill="#fdd06a" stroke="#333" stroke-width="0.7"/>
<circle cx="554.2" cy="343.07" r="1.9" fill="#fdd06a" stroke="#333" stroke-width="0.7"/>
<circle cx="554.2" cy="347.14" r="1.9" fill="#fdd06a" stroke="#333" stroke-width="0.7"/>
<text x="554.2" y="369.1" font-size="3.6" text-anchor="middle" fill="#e8e8e8">4</text>
<line x1="569.3" y1="315.08" x2="569.3" y2="309.2" stroke="#2a2a2a" stroke-width="0.75"/>
<line x1="566.1" y1="309.2" x2="572.5" y2="309.2" stroke="#3a3a3a" stroke-width="0.75"/>
<line x1="566.1" y1="315.08" x2="572.5" y2="315.08" stroke="#2a2a2a" stroke-width="0.75"/>
<circle cx="565.3" cy="307.62" r="1.9" fill="#fdd06a" stroke="#333" stroke-width="0.7"/>
<circle cx="573.3" cy="311.46" r="1.9" fill="#fdd06a" stroke="#333" stroke-width="0.7"/>
<circle cx="569.3" cy="315.53" r="1.9" fill="#fdd06a" stroke="#333" stroke-width="0.7"/>
<text x="569.3" y="369.1" font-size="3.6" text-anchor="middle" fill="#e8e8e8">3</text>
<rect x="542.8" y="255.8" width="36.9" height="11.3" rx="1" fill="#fdd172" stroke="#45391f" stroke-width="0.75"/>
<text transform="translate(561.25 264.07) scale(1 1.1)" font-size="6.1" text-anchor="middle" font-weight="bold" fill="#1a1a1a">ABX</text>
<line x1="505.5" y1="258" x2="505.5" y2="372" stroke="#4a4a4a" stroke-width="0.95"/>
<line x1="505" y1="371.5" x2="581.2" y2="371.5" stroke="#4a4a4a" stroke-width="0.95"/>
<line x1="502.9" y1="371.3" x2="505.5" y2="371.3" stroke="#4a4a4a" stroke-width="0.8"/>
<text transform="translate(502.8 373.93) scale(1 1.18)" font-size="6.2" text-anchor="end" fill="#111" stroke="#111" stroke-width="0.18">0</text>
<line x1="504" y1="360.01" x2="505.5" y2="360.01" stroke="#4a4a4a" stroke-width="0.7"/>
<line x1="502.9" y1="348.72" x2="505.5" y2="348.72" stroke="#4a4a4a" stroke-width="0.8"/>
<text transform="translate(502.8 351.35) scale(1 1.18)" font-size="6.2" text-anchor="end" fill="#111" stroke="#111" stroke-width="0.18">10</text>
<line x1="504" y1="337.43" x2="505.5" y2="337.43" stroke="#4a4a4a" stroke-width="0.7"/>
<line x1="502.9" y1="326.14" x2="505.5" y2="326.14" stroke="#4a4a4a" stroke-width="0.8"/>
<text transform="translate(502.8 328.77) scale(1 1.18)" font-size="6.2" text-anchor="end" fill="#111" stroke="#111" stroke-width="0.18">20</text>
<line x1="504" y1="314.85" x2="505.5" y2="314.85" stroke="#4a4a4a" stroke-width="0.7"/>
<line x1="502.9" y1="303.56" x2="505.5" y2="303.56" stroke="#4a4a4a" stroke-width="0.8"/>
<text transform="translate(502.8 306.19) scale(1 1.18)" font-size="6.2" text-anchor="end" fill="#111" stroke="#111" stroke-width="0.18">30</text>
<line x1="504" y1="292.27" x2="505.5" y2="292.27" stroke="#4a4a4a" stroke-width="0.7"/>
<line x1="502.9" y1="280.98" x2="505.5" y2="280.98" stroke="#4a4a4a" stroke-width="0.8"/>
<text transform="translate(502.8 283.61) scale(1 1.18)" font-size="6.2" text-anchor="end" fill="#111" stroke="#111" stroke-width="0.18">40</text>
<line x1="504" y1="269.69" x2="505.5" y2="269.69" stroke="#4a4a4a" stroke-width="0.7"/>
<line x1="502.9" y1="258.4" x2="505.5" y2="258.4" stroke="#4a4a4a" stroke-width="0.8"/>
<text transform="translate(502.8 261.03) scale(1 1.18)" font-size="6.2" text-anchor="end" fill="#111" stroke="#111" stroke-width="0.18">50</text>
<line x1="554.2" y1="301.98" x2="569.7" y2="301.98" stroke="#a6a6a6" stroke-width="1.4"/>
<text x="561.95" y="300.18" font-size="3.9" text-anchor="middle" fill="#505050">0.0272</text>
<rect x="645.5" y="257.5" width="38" height="113.8" fill="#ececec"/>
<rect x="615.1" y="333.37" width="12" height="37.93" fill="#5e5e5e"/>
<rect x="630.2" y="309.2" width="12" height="62.1" fill="#3ec364"/>
<rect x="651.4" y="339.24" width="12" height="32.06" fill="#5e5e5e"/>
<rect x="666.6" y="314.17" width="12" height="57.13" fill="#3ec364"/>
<line x1="621.1" y1="343.75" x2="621.1" y2="323.2" stroke="#2a2a2a" stroke-width="0.75"/>
<line x1="617.9" y1="323.2" x2="624.3" y2="323.2" stroke="#3a3a3a" stroke-width="0.75"/>
<line x1="617.9" y1="343.75" x2="624.3" y2="343.75" stroke="#2a2a2a" stroke-width="0.75"/>
<circle cx="621.1" cy="313.5" r="1.9" fill="#fff" stroke="#333" stroke-width="0.7"/>
<circle cx="617.1" cy="342.85" r="1.9" fill="#fff" stroke="#333" stroke-width="0.7"/>
<circle cx="625.1" cy="342.85" r="1.9" fill="#fff" stroke="#333" stroke-width="0.7"/>
<text x="621.1" y="369.1" font-size="3.6" text-anchor="middle" fill="#e8e8e8">3</text>
<line x1="636.2" y1="313.72" x2="636.2" y2="305.14" stroke="#2a2a2a" stroke-width="0.75"/>
<line x1="633" y1="305.14" x2="639.4" y2="305.14" stroke="#3a3a3a" stroke-width="0.75"/>
<line x1="633" y1="313.72" x2="639.4" y2="313.72" stroke="#2a2a2a" stroke-width="0.75"/>
<circle cx="636.2" cy="300.85" r="1.9" fill="#fff" stroke="#333" stroke-width="0.7"/>
<circle cx="636.2" cy="306.95" r="1.9" fill="#fff" stroke="#333" stroke-width="0.7"/>
<circle cx="636.2" cy="311.01" r="1.9" fill="#fff" stroke="#333" stroke-width="0.7"/>
<circle cx="636.2" cy="315.98" r="1.9" fill="#fff" stroke="#333" stroke-width="0.7"/>
<text x="636.2" y="369.1" font-size="3.6" text-anchor="middle" fill="#e8e8e8">4</text>
<circle cx="653.4" cy="336.53" r="1.9" fill="#fdd06a" stroke="#333" stroke-width="0.7"/>
<circle cx="657.4" cy="339.46" r="1.9" fill="#fdd06a" stroke="#333" stroke-width="0.7"/>
<circle cx="661.4" cy="341.49" r="1.9" fill="#fdd06a" stroke="#333" stroke-width="0.7"/>
<text x="657.4" y="369.1" font-size="3.6" text-anchor="middle" fill="#e8e8e8">3</text>
<line x1="672.6" y1="317.79" x2="672.6" y2="310.33" stroke="#2a2a2a" stroke-width="0.75"/>
<line x1="669.4" y1="310.33" x2="675.8" y2="310.33" stroke="#3a3a3a" stroke-width="0.75"/>
<line x1="669.4" y1="317.79" x2="675.8" y2="317.79" stroke="#2a2a2a" stroke-width="0.75"/>
<circle cx="672.6" cy="306.95" r="1.9" fill="#fdd06a" stroke="#333" stroke-width="0.7"/>
<circle cx="668.6" cy="316.66" r="1.9" fill="#fdd06a" stroke="#333" stroke-width="0.7"/>
<circle cx="676.6" cy="316.66" r="1.9" fill="#fdd06a" stroke="#333" stroke-width="0.7"/>
<text x="672.6" y="369.1" font-size="3.6" text-anchor="middle" fill="#e8e8e8">3</text>
<rect x="645.8" y="255.8" width="37.4" height="11.3" rx="1" fill="#fdd172" stroke="#45391f" stroke-width="0.75"/>
<text transform="translate(664.5 264.07) scale(1 1.1)" font-size="6.1" text-anchor="middle" font-weight="bold" fill="#1a1a1a">ABX</text>
<line x1="608.5" y1="258" x2="608.5" y2="372" stroke="#4a4a4a" stroke-width="0.95"/>
<line x1="608" y1="371.5" x2="684.7" y2="371.5" stroke="#4a4a4a" stroke-width="0.95"/>
<line x1="605.9" y1="371.3" x2="608.5" y2="371.3" stroke="#4a4a4a" stroke-width="0.8"/>
<text transform="translate(606 373.93) scale(1 1.18)" font-size="6.2" text-anchor="end" fill="#111" stroke="#111" stroke-width="0.18">0</text>
<line x1="607" y1="360.01" x2="608.5" y2="360.01" stroke="#4a4a4a" stroke-width="0.7"/>
<line x1="605.9" y1="348.72" x2="608.5" y2="348.72" stroke="#4a4a4a" stroke-width="0.8"/>
<text transform="translate(606 351.35) scale(1 1.18)" font-size="6.2" text-anchor="end" fill="#111" stroke="#111" stroke-width="0.18">10</text>
<line x1="607" y1="337.43" x2="608.5" y2="337.43" stroke="#4a4a4a" stroke-width="0.7"/>
<line x1="605.9" y1="326.14" x2="608.5" y2="326.14" stroke="#4a4a4a" stroke-width="0.8"/>
<text transform="translate(606 328.77) scale(1 1.18)" font-size="6.2" text-anchor="end" fill="#111" stroke="#111" stroke-width="0.18">20</text>
<line x1="607" y1="314.85" x2="608.5" y2="314.85" stroke="#4a4a4a" stroke-width="0.7"/>
<line x1="605.9" y1="303.56" x2="608.5" y2="303.56" stroke="#4a4a4a" stroke-width="0.8"/>
<text transform="translate(606 306.19) scale(1 1.18)" font-size="6.2" text-anchor="end" fill="#111" stroke="#111" stroke-width="0.18">30</text>
<line x1="607" y1="292.27" x2="608.5" y2="292.27" stroke="#4a4a4a" stroke-width="0.7"/>
<line x1="605.9" y1="280.98" x2="608.5" y2="280.98" stroke="#4a4a4a" stroke-width="0.8"/>
<text transform="translate(606 283.61) scale(1 1.18)" font-size="6.2" text-anchor="end" fill="#111" stroke="#111" stroke-width="0.18">40</text>
<line x1="607" y1="269.69" x2="608.5" y2="269.69" stroke="#4a4a4a" stroke-width="0.7"/>
<line x1="605.9" y1="258.4" x2="608.5" y2="258.4" stroke="#4a4a4a" stroke-width="0.8"/>
<text transform="translate(606 261.03) scale(1 1.18)" font-size="6.2" text-anchor="end" fill="#111" stroke="#111" stroke-width="0.18">50</text>
<line x1="620.8" y1="294.08" x2="636.3" y2="294.08" stroke="#a6a6a6" stroke-width="1.4"/>
<text x="628.55" y="292.28" font-size="3.9" text-anchor="middle" fill="#505050">0.0435</text>
<line x1="657.4" y1="294.08" x2="673" y2="294.08" stroke="#a6a6a6" stroke-width="1.4"/>
<text x="665.2" y="292.28" font-size="3.9" text-anchor="middle" fill="#505050">0.0493</text>
<rect x="103.2" y="428.3" width="38.4" height="114.8" fill="#ececec"/>
<rect x="72" y="499.76" width="12.3" height="43.34" fill="#5e5e5e"/>
<rect x="87.3" y="475.97" width="12.3" height="67.13" fill="#3ec364"/>
<rect x="108.8" y="507.27" width="12.3" height="35.83" fill="#5e5e5e"/>
<rect x="124.1" y="518.6" width="12.3" height="24.5" fill="#3ec364"/>
<line x1="78.15" y1="507.98" x2="78.15" y2="491.69" stroke="#2a2a2a" stroke-width="0.75"/>
<line x1="74.95" y1="491.69" x2="81.35" y2="491.69" stroke="#3a3a3a" stroke-width="0.75"/>
<line x1="74.95" y1="507.98" x2="81.35" y2="507.98" stroke="#2a2a2a" stroke-width="0.75"/>
<circle cx="78.15" cy="479.37" r="1.95" fill="#fff" stroke="#333" stroke-width="0.7"/>
<circle cx="78.15" cy="497.5" r="1.95" fill="#fff" stroke="#333" stroke-width="0.7"/>
<circle cx="78.15" cy="507.69" r="1.95" fill="#fff" stroke="#333" stroke-width="0.7"/>
<circle cx="78.15" cy="514.77" r="1.95" fill="#fff" stroke="#333" stroke-width="0.7"/>
<text x="78.15" y="540.9" font-size="3.6" text-anchor="middle" fill="#e8e8e8">4</text>
<line x1="93.45" y1="481.78" x2="93.45" y2="470.45" stroke="#2a2a2a" stroke-width="0.75"/>
<line x1="90.25" y1="470.45" x2="96.65" y2="470.45" stroke="#3a3a3a" stroke-width="0.75"/>
<line x1="90.25" y1="481.78" x2="96.65" y2="481.78" stroke="#2a2a2a" stroke-width="0.75"/>
<circle cx="89.55" cy="469.17" r="1.95" fill="#fff" stroke="#333" stroke-width="0.7"/>
<circle cx="97.35" cy="470.45" r="1.95" fill="#fff" stroke="#333" stroke-width="0.7"/>
<circle cx="93.45" cy="486.87" r="1.95" fill="#fff" stroke="#333" stroke-width="0.7"/>
<text x="93.45" y="540.9" font-size="3.6" text-anchor="middle" fill="#e8e8e8">3</text>
<line x1="114.95" y1="510.81" x2="114.95" y2="503.3" stroke="#2a2a2a" stroke-width="0.75"/>
<line x1="111.75" y1="503.3" x2="118.15" y2="503.3" stroke="#3a3a3a" stroke-width="0.75"/>
<line x1="111.75" y1="510.81" x2="118.15" y2="510.81" stroke="#2a2a2a" stroke-width="0.75"/>
<circle cx="114.95" cy="497.07" r="1.95" fill="#fdd06a" stroke="#333" stroke-width="0.7"/>
<circle cx="114.95" cy="507.98" r="1.95" fill="#fdd06a" stroke="#333" stroke-width="0.7"/>
<circle cx="118.85" cy="509.53" r="1.95" fill="#fdd06a" stroke="#333" stroke-width="0.7"/>
<circle cx="111.05" cy="513.08" r="1.95" fill="#fdd06a" stroke="#333" stroke-width="0.7"/>
<text x="114.95" y="540.9" font-size="3.6" text-anchor="middle" fill="#e8e8e8">4</text>
<circle cx="130.25" cy="515.62" r="1.95" fill="#fdd06a" stroke="#333" stroke-width="0.7"/>
<circle cx="134.15" cy="518.32" r="1.95" fill="#fdd06a" stroke="#333" stroke-width="0.7"/>
<circle cx="126.35" cy="518.88" r="1.95" fill="#fdd06a" stroke="#333" stroke-width="0.7"/>
<text x="130.25" y="540.9" font-size="3.6" text-anchor="middle" fill="#e8e8e8">3</text>
<rect x="103.5" y="426.6" width="37.5" height="11.5" rx="1" fill="#fdd172" stroke="#45391f" stroke-width="0.75"/>
<text transform="translate(122.25 435.02) scale(1 1.1)" font-size="6.2" text-anchor="middle" font-weight="bold" fill="#1a1a1a">ABX</text>
<line x1="65.5" y1="429.4" x2="65.5" y2="544" stroke="#9a9a9a" stroke-width="1.1"/>
<line x1="65" y1="543.5" x2="141.6" y2="543.5" stroke="#9a9a9a" stroke-width="1.1"/>
<line x1="62.9" y1="543.1" x2="65.5" y2="543.1" stroke="#9a9a9a" stroke-width="0.8"/>
<text transform="translate(63.4 545.95) scale(1 1.18)" font-size="6.7" text-anchor="end" fill="#111" stroke="#111" stroke-width="0.18">0</text>
<line x1="64" y1="528.94" x2="65.5" y2="528.94" stroke="#9a9a9a" stroke-width="0.7"/>
<line x1="62.9" y1="514.77" x2="65.5" y2="514.77" stroke="#9a9a9a" stroke-width="0.8"/>
<text transform="translate(63.4 517.62) scale(1 1.18)" font-size="6.7" text-anchor="end" fill="#111" stroke="#111" stroke-width="0.18">20</text>
<line x1="64" y1="500.61" x2="65.5" y2="500.61" stroke="#9a9a9a" stroke-width="0.7"/>
<line x1="62.9" y1="486.45" x2="65.5" y2="486.45" stroke="#9a9a9a" stroke-width="0.8"/>
<text transform="translate(63.4 489.3) scale(1 1.18)" font-size="6.7" text-anchor="end" fill="#111" stroke="#111" stroke-width="0.18">40</text>
<line x1="64" y1="472.29" x2="65.5" y2="472.29" stroke="#9a9a9a" stroke-width="0.7"/>
<line x1="62.9" y1="458.12" x2="65.5" y2="458.12" stroke="#9a9a9a" stroke-width="0.8"/>
<text transform="translate(63.4 460.97) scale(1 1.18)" font-size="6.7" text-anchor="end" fill="#111" stroke="#111" stroke-width="0.18">60</text>
<line x1="64" y1="443.96" x2="65.5" y2="443.96" stroke="#9a9a9a" stroke-width="0.7"/>
<line x1="62.9" y1="429.8" x2="65.5" y2="429.8" stroke="#9a9a9a" stroke-width="0.8"/>
<text transform="translate(63.4 432.65) scale(1 1.18)" font-size="6.7" text-anchor="end" fill="#111" stroke="#111" stroke-width="0.18">80</text>
<line x1="93" y1="463.37" x2="130.2" y2="463.37" stroke="#222" stroke-width="0.8"/>
<text x="111.6" y="461.57" font-size="3.9" text-anchor="middle" fill="#505050">0.0627</text>
<rect x="103.6" y="571" width="38.5" height="114.5" fill="#ececec"/>
<rect x="72.9" y="657.88" width="12.3" height="27.62" fill="#5e5e5e"/>
<rect x="88.2" y="635.51" width="12.3" height="49.99" fill="#3ec364"/>
<rect x="109.7" y="653.78" width="12.3" height="31.72" fill="#5e5e5e"/>
<rect x="125" y="650.38" width="12.3" height="35.12" fill="#3ec364"/>
<circle cx="75.15" cy="655.05" r="1.95" fill="#fff" stroke="#333" stroke-width="0.7"/>
<circle cx="82.95" cy="655.76" r="1.95" fill="#fff" stroke="#333" stroke-width="0.7"/>
<circle cx="79.05" cy="656.47" r="1.95" fill="#fff" stroke="#333" stroke-width="0.7"/>
<circle cx="79.05" cy="660.72" r="1.95" fill="#fff" stroke="#333" stroke-width="0.7"/>
<text x="79.05" y="683.3" font-size="3.6" text-anchor="middle" fill="#e8e8e8">3</text>
<line x1="94.35" y1="638.06" x2="94.35" y2="633.1" stroke="#2a2a2a" stroke-width="0.75"/>
<line x1="91.15" y1="633.1" x2="97.55" y2="633.1" stroke="#3a3a3a" stroke-width="0.75"/>
<line x1="91.15" y1="638.06" x2="97.55" y2="638.06" stroke="#2a2a2a" stroke-width="0.75"/>
<circle cx="94.35" cy="628.85" r="1.95" fill="#fff" stroke="#333" stroke-width="0.7"/>
<circle cx="92.01" cy="633.81" r="1.95" fill="#fff" stroke="#333" stroke-width="0.7"/>
<circle cx="98.25" cy="635.22" r="1.95" fill="#fff" stroke="#333" stroke-width="0.7"/>
<circle cx="90.45" cy="640.18" r="1.95" fill="#fff" stroke="#333" stroke-width="0.7"/>
<text x="94.35" y="683.3" font-size="3.6" text-anchor="middle" fill="#e8e8e8">4</text>
<circle cx="111.95" cy="650.8" r="1.95" fill="#fdd06a" stroke="#333" stroke-width="0.7"/>
<circle cx="115.85" cy="652.22" r="1.95" fill="#fdd06a" stroke="#333" stroke-width="0.7"/>
<circle cx="119.75" cy="653.63" r="1.95" fill="#fdd06a" stroke="#333" stroke-width="0.7"/>
<circle cx="111.95" cy="656.47" r="1.95" fill="#fdd06a" stroke="#333" stroke-width="0.7"/>
<text x="115.85" y="683.3" font-size="3.6" text-anchor="middle" fill="#e8e8e8">4</text>
<line x1="131.15" y1="652.22" x2="131.15" y2="647.26" stroke="#2a2a2a" stroke-width="0.75"/>
<line x1="127.95" y1="647.26" x2="134.35" y2="647.26" stroke="#3a3a3a" stroke-width="0.75"/>
<line x1="127.95" y1="652.22" x2="134.35" y2="652.22" stroke="#2a2a2a" stroke-width="0.75"/>
<circle cx="131.15" cy="645.14" r="1.95" fill="#fdd06a" stroke="#333" stroke-width="0.7"/>
<circle cx="127.25" cy="651.51" r="1.95" fill="#fdd06a" stroke="#333" stroke-width="0.7"/>
<circle cx="135.05" cy="651.51" r="1.95" fill="#fdd06a" stroke="#333" stroke-width="0.7"/>
<text x="131.15" y="683.3" font-size="3.6" text-anchor="middle" fill="#e8e8e8">3</text>
<rect x="103.9" y="569.3" width="37.6" height="11.7" rx="1" fill="#fdd172" stroke="#45391f" stroke-width="0.75"/>
<text transform="translate(122.7 577.82) scale(1 1.1)" font-size="6.2" text-anchor="middle" font-weight="bold" fill="#1a1a1a">ABX</text>
<line x1="66.5" y1="571.8" x2="66.5" y2="686" stroke="#9a9a9a" stroke-width="1.1"/>
<line x1="66" y1="685.5" x2="142.1" y2="685.5" stroke="#9a9a9a" stroke-width="1.1"/>
<line x1="63.9" y1="685.5" x2="66.5" y2="685.5" stroke="#9a9a9a" stroke-width="0.8"/>
<text transform="translate(64.3 688.35) scale(1 1.18)" font-size="6.7" text-anchor="end" fill="#111" stroke="#111" stroke-width="0.18">0</text>
<line x1="65" y1="671.34" x2="66.5" y2="671.34" stroke="#9a9a9a" stroke-width="0.7"/>
<line x1="63.9" y1="657.17" x2="66.5" y2="657.17" stroke="#9a9a9a" stroke-width="0.8"/>
<text transform="translate(64.3 660.02) scale(1 1.18)" font-size="6.7" text-anchor="end" fill="#111" stroke="#111" stroke-width="0.18">20</text>
<line x1="65" y1="643.01" x2="66.5" y2="643.01" stroke="#9a9a9a" stroke-width="0.7"/>
<line x1="63.9" y1="628.85" x2="66.5" y2="628.85" stroke="#9a9a9a" stroke-width="0.8"/>
<text transform="translate(64.3 631.7) scale(1 1.18)" font-size="6.7" text-anchor="end" fill="#111" stroke="#111" stroke-width="0.18">40</text>
<line x1="65" y1="614.69" x2="66.5" y2="614.69" stroke="#9a9a9a" stroke-width="0.7"/>
<line x1="63.9" y1="600.53" x2="66.5" y2="600.53" stroke="#9a9a9a" stroke-width="0.8"/>
<text transform="translate(64.3 603.37) scale(1 1.18)" font-size="6.7" text-anchor="end" fill="#111" stroke="#111" stroke-width="0.18">60</text>
<line x1="65" y1="586.36" x2="66.5" y2="586.36" stroke="#9a9a9a" stroke-width="0.7"/>
<line x1="63.9" y1="572.2" x2="66.5" y2="572.2" stroke="#9a9a9a" stroke-width="0.8"/>
<text transform="translate(64.3 575.05) scale(1 1.18)" font-size="6.7" text-anchor="end" fill="#111" stroke="#111" stroke-width="0.18">80</text>
<line x1="79" y1="622.62" x2="93.4" y2="622.62" stroke="#a6a6a6" stroke-width="1.4"/>
<text x="86.2" y="620.82" font-size="3.9" text-anchor="middle" fill="#505050">&lt;0.0001</text>
<line x1="95.2" y1="622.62" x2="131.1" y2="622.62" stroke="#a6a6a6" stroke-width="1.4"/>
<text x="113.15" y="620.82" font-size="3.9" text-anchor="middle" fill="#505050">0.0016</text>
<rect x="103.2" y="709.5" width="38.6" height="114.9" fill="#ececec"/>
<rect x="72.4" y="795.51" width="12.3" height="28.89" fill="#5e5e5e"/>
<rect x="87.8" y="771.01" width="12.3" height="53.39" fill="#3ec364"/>
<rect x="109.2" y="798.2" width="12.3" height="26.2" fill="#5e5e5e"/>
<rect x="124.3" y="777.1" width="12.3" height="47.3" fill="#3ec364"/>
<circle cx="74.65" cy="793.24" r="1.95" fill="#fff" stroke="#333" stroke-width="0.7"/>
<circle cx="82.45" cy="794.66" r="1.95" fill="#fff" stroke="#333" stroke-width="0.7"/>
<circle cx="78.55" cy="794.66" r="1.95" fill="#fff" stroke="#333" stroke-width="0.7"/>
<circle cx="74.65" cy="798.91" r="1.95" fill="#fff" stroke="#333" stroke-width="0.7"/>
<text x="78.55" y="822.2" font-size="3.6" text-anchor="middle" fill="#e8e8e8">3</text>
<line x1="93.95" y1="773.41" x2="93.95" y2="768.46" stroke="#2a2a2a" stroke-width="0.75"/>
<line x1="90.75" y1="768.46" x2="97.15" y2="768.46" stroke="#3a3a3a" stroke-width="0.75"/>
<line x1="90.75" y1="773.41" x2="97.15" y2="773.41" stroke="#2a2a2a" stroke-width="0.75"/>
<circle cx="93.95" cy="763.5" r="1.95" fill="#fff" stroke="#333" stroke-width="0.7"/>
<circle cx="90.05" cy="769.87" r="1.95" fill="#fff" stroke="#333" stroke-width="0.7"/>
<circle cx="97.85" cy="770.58" r="1.95" fill="#fff" stroke="#333" stroke-width="0.7"/>
<circle cx="90.05" cy="774.12" r="1.95" fill="#fff" stroke="#333" stroke-width="0.7"/>
<text x="93.95" y="822.2" font-size="3.6" text-anchor="middle" fill="#e8e8e8">4</text>
<line x1="115.35" y1="802.45" x2="115.35" y2="793.95" stroke="#2a2a2a" stroke-width="0.75"/>
<line x1="112.15" y1="793.95" x2="118.55" y2="793.95" stroke="#3a3a3a" stroke-width="0.75"/>
<line x1="112.15" y1="802.45" x2="118.55" y2="802.45" stroke="#2a2a2a" stroke-width="0.75"/>
<circle cx="115.35" cy="791.83" r="1.95" fill="#fdd06a" stroke="#333" stroke-width="0.7"/>
<circle cx="115.35" cy="798.2" r="1.95" fill="#fdd06a" stroke="#333" stroke-width="0.7"/>
<circle cx="115.35" cy="802.45" r="1.95" fill="#fdd06a" stroke="#333" stroke-width="0.7"/>
<text x="115.35" y="822.2" font-size="3.6" text-anchor="middle" fill="#e8e8e8">3</text>
<line x1="130.45" y1="784.75" x2="130.45" y2="769.87" stroke="#2a2a2a" stroke-width="0.75"/>
<line x1="127.25" y1="769.87" x2="133.65" y2="769.87" stroke="#3a3a3a" stroke-width="0.75"/>
<line x1="127.25" y1="784.75" x2="133.65" y2="784.75" stroke="#2a2a2a" stroke-width="0.75"/>
<circle cx="130.45" cy="766.33" r="1.95" fill="#fdd06a" stroke="#333" stroke-width="0.7"/>
<circle cx="130.45" cy="774.12" r="1.95" fill="#fdd06a" stroke="#333" stroke-width="0.7"/>
<circle cx="130.45" cy="789.7" r="1.95" fill="#fdd06a" stroke="#333" stroke-width="0.7"/>
<text x="130.45" y="822.2" font-size="3.6" text-anchor="middle" fill="#e8e8e8">3</text>
<rect x="103.5" y="707.8" width="37.5" height="12" rx="1" fill="#fdd172" stroke="#45391f" stroke-width="0.75"/>
<text transform="translate(122.25 716.47) scale(1 1.1)" font-size="6.2" text-anchor="middle" font-weight="bold" fill="#1a1a1a">ABX</text>
<line x1="66.5" y1="710.7" x2="66.5" y2="825" stroke="#9a9a9a" stroke-width="1.1"/>
<line x1="66" y1="824.5" x2="141.8" y2="824.5" stroke="#9a9a9a" stroke-width="1.1"/>
<line x1="63.9" y1="824.4" x2="66.5" y2="824.4" stroke="#9a9a9a" stroke-width="0.8"/>
<text transform="translate(63.8 827.25) scale(1 1.18)" font-size="6.7" text-anchor="end" fill="#111" stroke="#111" stroke-width="0.18">0</text>
<line x1="65" y1="810.24" x2="66.5" y2="810.24" stroke="#9a9a9a" stroke-width="0.7"/>
<line x1="63.9" y1="796.08" x2="66.5" y2="796.08" stroke="#9a9a9a" stroke-width="0.8"/>
<text transform="translate(63.8 798.92) scale(1 1.18)" font-size="6.7" text-anchor="end" fill="#111" stroke="#111" stroke-width="0.18">20</text>
<line x1="65" y1="781.91" x2="66.5" y2="781.91" stroke="#9a9a9a" stroke-width="0.7"/>
<line x1="63.9" y1="767.75" x2="66.5" y2="767.75" stroke="#9a9a9a" stroke-width="0.8"/>
<text transform="translate(63.8 770.6) scale(1 1.18)" font-size="6.7" text-anchor="end" fill="#111" stroke="#111" stroke-width="0.18">40</text>
<line x1="65" y1="753.59" x2="66.5" y2="753.59" stroke="#9a9a9a" stroke-width="0.7"/>
<line x1="63.9" y1="739.42" x2="66.5" y2="739.42" stroke="#9a9a9a" stroke-width="0.8"/>
<text transform="translate(63.8 742.27) scale(1 1.18)" font-size="6.7" text-anchor="end" fill="#111" stroke="#111" stroke-width="0.18">60</text>
<line x1="65" y1="725.26" x2="66.5" y2="725.26" stroke="#9a9a9a" stroke-width="0.7"/>
<line x1="63.9" y1="711.1" x2="66.5" y2="711.1" stroke="#9a9a9a" stroke-width="0.8"/>
<text transform="translate(63.8 713.95) scale(1 1.18)" font-size="6.7" text-anchor="end" fill="#111" stroke="#111" stroke-width="0.18">80</text>
<line x1="78.2" y1="757.41" x2="94" y2="757.41" stroke="#a6a6a6" stroke-width="1.4"/>
<text x="86.1" y="755.61" font-size="3.9" text-anchor="middle" fill="#505050">0.0070</text>
<line x1="115.3" y1="757.41" x2="130.7" y2="757.41" stroke="#a6a6a6" stroke-width="1.4"/>
<text x="123" y="755.61" font-size="3.9" text-anchor="middle" fill="#505050">0.0308</text>
<rect x="435.7" y="428.3" width="39.4" height="116.2" fill="#ececec"/>
<rect x="404.6" y="494.31" width="12.3" height="50.19" fill="#5e5e5e"/>
<rect x="419.9" y="481.14" width="12.3" height="63.36" fill="#3ec364"/>
<rect x="441.5" y="515.68" width="12.3" height="28.82" fill="#5e5e5e"/>
<rect x="456.7" y="511.3" width="12.3" height="33.2" fill="#3ec364"/>
<line x1="410.75" y1="500.61" x2="410.75" y2="488.2" stroke="#2a2a2a" stroke-width="0.75"/>
<line x1="407.55" y1="488.2" x2="413.95" y2="488.2" stroke="#3a3a3a" stroke-width="0.75"/>
<line x1="407.55" y1="500.61" x2="413.95" y2="500.61" stroke="#2a2a2a" stroke-width="0.75"/>
<circle cx="410.75" cy="476.75" r="1.95" fill="#fff" stroke="#333" stroke-width="0.7"/>
<circle cx="406.85" cy="498.7" r="1.95" fill="#fff" stroke="#333" stroke-width="0.7"/>
<circle cx="414.65" cy="498.7" r="1.95" fill="#fff" stroke="#333" stroke-width="0.7"/>
<circle cx="410.75" cy="502.52" r="1.95" fill="#fff" stroke="#333" stroke-width="0.7"/>
<text x="410.75" y="542.3" font-size="3.6" text-anchor="middle" fill="#e8e8e8">4</text>
<line x1="426.05" y1="484.39" x2="426.05" y2="478.66" stroke="#2a2a2a" stroke-width="0.75"/>
<line x1="422.85" y1="478.66" x2="429.25" y2="478.66" stroke="#3a3a3a" stroke-width="0.75"/>
<line x1="422.85" y1="484.39" x2="429.25" y2="484.39" stroke="#2a2a2a" stroke-width="0.75"/>
<circle cx="422.15" cy="477.71" r="1.95" fill="#fff" stroke="#333" stroke-width="0.7"/>
<circle cx="429.95" cy="481.52" r="1.95" fill="#fff" stroke="#333" stroke-width="0.7"/>
<circle cx="426.05" cy="485.34" r="1.95" fill="#fff" stroke="#333" stroke-width="0.7"/>
<text x="426.05" y="542.3" font-size="3.6" text-anchor="middle" fill="#e8e8e8">3</text>
<circle cx="443.75" cy="517.02" r="1.95" fill="#fdd06a" stroke="#333" stroke-width="0.7"/>
<circle cx="446.48" cy="514.73" r="1.95" fill="#fdd06a" stroke="#333" stroke-width="0.7"/>
<circle cx="449.21" cy="515.49" r="1.95" fill="#fdd06a" stroke="#333" stroke-width="0.7"/>
<circle cx="451.55" cy="516.26" r="1.95" fill="#fdd06a" stroke="#333" stroke-width="0.7"/>
<text x="447.65" y="542.3" font-size="3.6" text-anchor="middle" fill="#e8e8e8">4</text>
<line x1="462.85" y1="517.78" x2="462.85" y2="505.38" stroke="#2a2a2a" stroke-width="0.75"/>
<line x1="459.65" y1="505.38" x2="466.05" y2="505.38" stroke="#3a3a3a" stroke-width="0.75"/>
<line x1="459.65" y1="517.78" x2="466.05" y2="517.78" stroke="#2a2a2a" stroke-width="0.75"/>
<circle cx="458.95" cy="503.47" r="1.95" fill="#fdd06a" stroke="#333" stroke-width="0.7"/>
<circle cx="466.75" cy="507.29" r="1.95" fill="#fdd06a" stroke="#333" stroke-width="0.7"/>
<circle cx="462.85" cy="521.6" r="1.95" fill="#fdd06a" stroke="#333" stroke-width="0.7"/>
<text x="462.85" y="542.3" font-size="3.6" text-anchor="middle" fill="#e8e8e8">3</text>
<rect x="436" y="426.6" width="38.5" height="11.7" rx="1" fill="#fdd172" stroke="#45391f" stroke-width="0.75"/>
<text transform="translate(455.25 435.12) scale(1 1.1)" font-size="6.2" text-anchor="middle" font-weight="bold" fill="#1a1a1a">ABX</text>
<line x1="398.5" y1="429.6" x2="398.5" y2="545" stroke="#555" stroke-width="0.8"/>
<line x1="398" y1="544.5" x2="475.1" y2="544.5" stroke="#555" stroke-width="0.8"/>
<line x1="395.9" y1="544.5" x2="398.5" y2="544.5" stroke="#555" stroke-width="0.8"/>
<text transform="translate(395.5 547.35) scale(1 1.18)" font-size="6.7" text-anchor="end" fill="#111" stroke="#111" stroke-width="0.18">0</text>
<line x1="397" y1="525.42" x2="398.5" y2="525.42" stroke="#555" stroke-width="0.7"/>
<line x1="395.9" y1="506.33" x2="398.5" y2="506.33" stroke="#555" stroke-width="0.8"/>
<text transform="translate(395.5 509.18) scale(1 1.18)" font-size="6.7" text-anchor="end" fill="#111" stroke="#111" stroke-width="0.18">20</text>
<line x1="397" y1="487.25" x2="398.5" y2="487.25" stroke="#555" stroke-width="0.7"/>
<line x1="395.9" y1="468.17" x2="398.5" y2="468.17" stroke="#555" stroke-width="0.8"/>
<text transform="translate(395.5 471.01) scale(1 1.18)" font-size="6.7" text-anchor="end" fill="#111" stroke="#111" stroke-width="0.18">40</text>
<line x1="397" y1="449.08" x2="398.5" y2="449.08" stroke="#555" stroke-width="0.7"/>
<line x1="395.9" y1="430" x2="398.5" y2="430" stroke="#555" stroke-width="0.8"/>
<text transform="translate(395.5 432.85) scale(1 1.18)" font-size="6.7" text-anchor="end" fill="#111" stroke="#111" stroke-width="0.18">60</text>
<line x1="410.8" y1="470.65" x2="448" y2="470.65" stroke="#a6a6a6" stroke-width="1.4"/>
<text x="429.4" y="468.85" font-size="3.9" text-anchor="middle" fill="#505050">0.0137</text>
<line x1="426.1" y1="460.53" x2="463.2" y2="460.53" stroke="#a6a6a6" stroke-width="1.4"/>
<text x="444.65" y="458.73" font-size="3.9" text-anchor="middle" fill="#505050">0.0056</text>
<rect x="435.7" y="568.9" width="39.4" height="115.7" fill="#ececec"/>
<rect x="404.7" y="643" width="12.3" height="41.6" fill="#5e5e5e"/>
<rect x="419.9" y="645.1" width="12.3" height="39.5" fill="#3ec364"/>
<rect x="441.5" y="655.59" width="12.3" height="29.01" fill="#5e5e5e"/>
<rect x="456.7" y="654.83" width="12.3" height="29.77" fill="#3ec364"/>
<line x1="410.85" y1="647.39" x2="410.85" y2="638.42" stroke="#2a2a2a" stroke-width="0.75"/>
<line x1="407.65" y1="638.42" x2="414.05" y2="638.42" stroke="#3a3a3a" stroke-width="0.75"/>
<line x1="407.65" y1="647.39" x2="414.05" y2="647.39" stroke="#2a2a2a" stroke-width="0.75"/>
<circle cx="406.95" cy="634.98" r="1.95" fill="#fff" stroke="#333" stroke-width="0.7"/>
<circle cx="414.75" cy="634.98" r="1.95" fill="#fff" stroke="#333" stroke-width="0.7"/>
<circle cx="410.85" cy="647.39" r="1.95" fill="#fff" stroke="#333" stroke-width="0.7"/>
<circle cx="410.85" cy="655.02" r="1.95" fill="#fff" stroke="#333" stroke-width="0.7"/>
<text x="410.85" y="682.4" font-size="3.6" text-anchor="middle" fill="#e8e8e8">4</text>
<line x1="426.05" y1="654.45" x2="426.05" y2="635.94" stroke="#2a2a2a" stroke-width="0.75"/>
<line x1="422.85" y1="635.94" x2="429.25" y2="635.94" stroke="#3a3a3a" stroke-width="0.75"/>
<line x1="422.85" y1="654.45" x2="429.25" y2="654.45" stroke="#2a2a2a" stroke-width="0.75"/>
<circle cx="426.05" cy="622.58" r="1.95" fill="#fff" stroke="#333" stroke-width="0.7"/>
<circle cx="422.15" cy="644.52" r="1.95" fill="#fff" stroke="#333" stroke-width="0.7"/>
<circle cx="429.95" cy="647.39" r="1.95" fill="#fff" stroke="#333" stroke-width="0.7"/>
<circle cx="426.05" cy="666.47" r="1.95" fill="#fff" stroke="#333" stroke-width="0.7"/>
<text x="426.05" y="682.4" font-size="3.6" text-anchor="middle" fill="#e8e8e8">4</text>
<circle cx="443.75" cy="652.54" r="1.95" fill="#fdd06a" stroke="#333" stroke-width="0.7"/>
<circle cx="447.65" cy="654.45" r="1.95" fill="#fdd06a" stroke="#333" stroke-width="0.7"/>
<circle cx="451.55" cy="656.36" r="1.95" fill="#fdd06a" stroke="#333" stroke-width="0.7"/>
<circle cx="443.75" cy="659.03" r="1.95" fill="#fdd06a" stroke="#333" stroke-width="0.7"/>
<text x="447.65" y="682.4" font-size="3.6" text-anchor="middle" fill="#e8e8e8">4</text>
<circle cx="458.95" cy="652.16" r="1.95" fill="#fdd06a" stroke="#333" stroke-width="0.7"/>
<circle cx="462.85" cy="654.07" r="1.95" fill="#fdd06a" stroke="#333" stroke-width="0.7"/>
<circle cx="466.75" cy="654.64" r="1.95" fill="#fdd06a" stroke="#333" stroke-width="0.7"/>
<circle cx="458.95" cy="656.74" r="1.95" fill="#fdd06a" stroke="#333" stroke-width="0.7"/>
<text x="462.85" y="682.4" font-size="3.6" text-anchor="middle" fill="#e8e8e8">3</text>
<rect x="436" y="567.2" width="38.5" height="11.7" rx="1" fill="#fdd172" stroke="#45391f" stroke-width="0.75"/>
<text transform="translate(455.25 575.72) scale(1 1.1)" font-size="6.2" text-anchor="middle" font-weight="bold" fill="#1a1a1a">ABX</text>
<line x1="398.5" y1="569.7" x2="398.5" y2="685" stroke="#555" stroke-width="0.8"/>
<line x1="398" y1="684.5" x2="475.1" y2="684.5" stroke="#555" stroke-width="0.8"/>
<line x1="395.9" y1="684.6" x2="398.5" y2="684.6" stroke="#555" stroke-width="0.8"/>
<text transform="translate(395.5 687.45) scale(1 1.18)" font-size="6.7" text-anchor="end" fill="#111" stroke="#111" stroke-width="0.18">0</text>
<line x1="397" y1="665.52" x2="398.5" y2="665.52" stroke="#555" stroke-width="0.7"/>
<line x1="395.9" y1="646.43" x2="398.5" y2="646.43" stroke="#555" stroke-width="0.8"/>
<text transform="translate(395.5 649.28) scale(1 1.18)" font-size="6.7" text-anchor="end" fill="#111" stroke="#111" stroke-width="0.18">20</text>
<line x1="397" y1="627.35" x2="398.5" y2="627.35" stroke="#555" stroke-width="0.7"/>
<line x1="395.9" y1="608.27" x2="398.5" y2="608.27" stroke="#555" stroke-width="0.8"/>
<text transform="translate(395.5 611.11) scale(1 1.18)" font-size="6.7" text-anchor="end" fill="#111" stroke="#111" stroke-width="0.18">40</text>
<line x1="397" y1="589.18" x2="398.5" y2="589.18" stroke="#555" stroke-width="0.7"/>
<line x1="395.9" y1="570.1" x2="398.5" y2="570.1" stroke="#555" stroke-width="0.8"/>
<text transform="translate(395.5 572.95) scale(1 1.18)" font-size="6.7" text-anchor="end" fill="#111" stroke="#111" stroke-width="0.18">60</text>
<rect x="435.9" y="709.7" width="38.9" height="115.4" fill="#ececec"/>
<rect x="405" y="795.71" width="12.3" height="29.39" fill="#5e5e5e"/>
<rect x="420.2" y="790.94" width="12.3" height="34.16" fill="#3ec364"/>
<rect x="441.6" y="800.86" width="12.3" height="24.24" fill="#5e5e5e"/>
<rect x="457.2" y="793.8" width="12.3" height="31.3" fill="#3ec364"/>
<line x1="411.15" y1="800.67" x2="411.15" y2="790.75" stroke="#2a2a2a" stroke-width="0.75"/>
<line x1="407.95" y1="790.75" x2="414.35" y2="790.75" stroke="#3a3a3a" stroke-width="0.75"/>
<line x1="407.95" y1="800.67" x2="414.35" y2="800.67" stroke="#2a2a2a" stroke-width="0.75"/>
<circle cx="411.15" cy="788.46" r="1.95" fill="#fff" stroke="#333" stroke-width="0.7"/>
<circle cx="411.15" cy="792.28" r="1.95" fill="#fff" stroke="#333" stroke-width="0.7"/>
<circle cx="411.15" cy="805.06" r="1.95" fill="#fff" stroke="#333" stroke-width="0.7"/>
<text x="411.15" y="822.9" font-size="3.6" text-anchor="middle" fill="#e8e8e8">3</text>
<line x1="426.35" y1="794.19" x2="426.35" y2="787.51" stroke="#2a2a2a" stroke-width="0.75"/>
<line x1="423.15" y1="787.51" x2="429.55" y2="787.51" stroke="#3a3a3a" stroke-width="0.75"/>
<line x1="423.15" y1="794.19" x2="429.55" y2="794.19" stroke="#2a2a2a" stroke-width="0.75"/>
<circle cx="426.35" cy="782.74" r="1.95" fill="#fff" stroke="#333" stroke-width="0.7"/>
<circle cx="426.35" cy="787.32" r="1.95" fill="#fff" stroke="#333" stroke-width="0.7"/>
<circle cx="422.45" cy="794.57" r="1.95" fill="#fff" stroke="#333" stroke-width="0.7"/>
<circle cx="430.25" cy="795.33" r="1.95" fill="#fff" stroke="#333" stroke-width="0.7"/>
<text x="426.35" y="822.9" font-size="3.6" text-anchor="middle" fill="#e8e8e8">4</text>
<line x1="447.75" y1="805.44" x2="447.75" y2="796.09" stroke="#2a2a2a" stroke-width="0.75"/>
<line x1="444.55" y1="796.09" x2="450.95" y2="796.09" stroke="#3a3a3a" stroke-width="0.75"/>
<line x1="444.55" y1="805.44" x2="450.95" y2="805.44" stroke="#2a2a2a" stroke-width="0.75"/>
<circle cx="447.75" cy="794.19" r="1.95" fill="#fdd06a" stroke="#333" stroke-width="0.7"/>
<circle cx="447.75" cy="798.76" r="1.95" fill="#fdd06a" stroke="#333" stroke-width="0.7"/>
<circle cx="447.75" cy="807.54" r="1.95" fill="#fdd06a" stroke="#333" stroke-width="0.7"/>
<text x="447.75" y="822.9" font-size="3.6" text-anchor="middle" fill="#e8e8e8">3</text>
<line x1="463.35" y1="797.81" x2="463.35" y2="789.8" stroke="#2a2a2a" stroke-width="0.75"/>
<line x1="460.15" y1="789.8" x2="466.55" y2="789.8" stroke="#3a3a3a" stroke-width="0.75"/>
<line x1="460.15" y1="797.81" x2="466.55" y2="797.81" stroke="#2a2a2a" stroke-width="0.75"/>
<circle cx="463.35" cy="787.7" r="1.95" fill="#fdd06a" stroke="#333" stroke-width="0.7"/>
<circle cx="463.35" cy="791.7" r="1.95" fill="#fdd06a" stroke="#333" stroke-width="0.7"/>
<circle cx="463.35" cy="798.76" r="1.95" fill="#fdd06a" stroke="#333" stroke-width="0.7"/>
<text x="463.35" y="822.9" font-size="3.6" text-anchor="middle" fill="#e8e8e8">3</text>
<rect x="436.2" y="708" width="38.1" height="12.1" rx="1" fill="#fdd172" stroke="#45391f" stroke-width="0.75"/>
<text transform="translate(455.25 716.72) scale(1 1.1)" font-size="6.2" text-anchor="middle" font-weight="bold" fill="#1a1a1a">ABX</text>
<line x1="398.5" y1="710.2" x2="398.5" y2="826" stroke="#555" stroke-width="0.8"/>
<line x1="398" y1="825.5" x2="474.8" y2="825.5" stroke="#555" stroke-width="0.8"/>
<line x1="395.9" y1="825.1" x2="398.5" y2="825.1" stroke="#555" stroke-width="0.8"/>
<text transform="translate(396 827.95) scale(1 1.18)" font-size="6.7" text-anchor="end" fill="#111" stroke="#111" stroke-width="0.18">0</text>
<line x1="397" y1="806.02" x2="398.5" y2="806.02" stroke="#555" stroke-width="0.7"/>
<line x1="395.9" y1="786.93" x2="398.5" y2="786.93" stroke="#555" stroke-width="0.8"/>
<text transform="translate(396 789.78) scale(1 1.18)" font-size="6.7" text-anchor="end" fill="#111" stroke="#111" stroke-width="0.18">20</text>
<line x1="397" y1="767.85" x2="398.5" y2="767.85" stroke="#555" stroke-width="0.7"/>
<line x1="395.9" y1="748.77" x2="398.5" y2="748.77" stroke="#555" stroke-width="0.8"/>
<text transform="translate(396 751.61) scale(1 1.18)" font-size="6.7" text-anchor="end" fill="#111" stroke="#111" stroke-width="0.18">40</text>
<line x1="397" y1="729.68" x2="398.5" y2="729.68" stroke="#555" stroke-width="0.7"/>
<line x1="395.9" y1="710.6" x2="398.5" y2="710.6" stroke="#555" stroke-width="0.8"/>
<text transform="translate(396 713.45) scale(1 1.18)" font-size="6.7" text-anchor="end" fill="#111" stroke="#111" stroke-width="0.18">60</text>
<rect x="218.6" y="445.3" width="31.2" height="93.6" fill="#ececec"/>
<rect x="192.4" y="521.48" width="9.8" height="17.42" fill="#5e5e5e"/>
<rect x="205.1" y="503.83" width="9.8" height="35.07" fill="#3ec364"/>
<rect x="222.3" y="519.86" width="9.8" height="19.04" fill="#5e5e5e"/>
<rect x="235" y="512.19" width="9.8" height="26.71" fill="#3ec364"/>
<line x1="197.3" y1="523.8" x2="197.3" y2="519.16" stroke="#2a2a2a" stroke-width="0.75"/>
<line x1="194.7" y1="519.16" x2="199.9" y2="519.16" stroke="#3a3a3a" stroke-width="0.75"/>
<line x1="194.7" y1="523.8" x2="199.9" y2="523.8" stroke="#2a2a2a" stroke-width="0.75"/>
<circle cx="193.9" cy="519.16" r="1.65" fill="#fff" stroke="#333" stroke-width="0.7"/>
<circle cx="200.7" cy="518" r="1.65" fill="#fff" stroke="#333" stroke-width="0.7"/>
<circle cx="199" cy="524.97" r="1.65" fill="#fff" stroke="#333" stroke-width="0.7"/>
<circle cx="197.3" cy="528.45" r="1.65" fill="#fff" stroke="#333" stroke-width="0.7"/>
<text x="197.3" y="536.7" font-size="3" text-anchor="middle" fill="#e8e8e8">4</text>
<line x1="210" y1="507.55" x2="210" y2="499.88" stroke="#2a2a2a" stroke-width="0.75"/>
<line x1="207.4" y1="499.88" x2="212.6" y2="499.88" stroke="#3a3a3a" stroke-width="0.75"/>
<line x1="207.4" y1="507.55" x2="212.6" y2="507.55" stroke="#2a2a2a" stroke-width="0.75"/>
<circle cx="210" cy="498.26" r="1.65" fill="#fff" stroke="#333" stroke-width="0.7"/>
<circle cx="210" cy="502.9" r="1.65" fill="#fff" stroke="#333" stroke-width="0.7"/>
<circle cx="210" cy="509.87" r="1.65" fill="#fff" stroke="#333" stroke-width="0.7"/>
<text x="210" y="536.7" font-size="3" text-anchor="middle" fill="#e8e8e8">3</text>
<circle cx="223.8" cy="517.53" r="1.65" fill="#fdd06a" stroke="#333" stroke-width="0.7"/>
<circle cx="230.6" cy="516.84" r="1.65" fill="#fdd06a" stroke="#333" stroke-width="0.7"/>
<circle cx="230.6" cy="521.48" r="1.65" fill="#fdd06a" stroke="#333" stroke-width="0.7"/>
<circle cx="223.8" cy="523.11" r="1.65" fill="#fdd06a" stroke="#333" stroke-width="0.7"/>
<text x="227.2" y="536.7" font-size="3" text-anchor="middle" fill="#e8e8e8">4</text>
<circle cx="236.5" cy="512.19" r="1.65" fill="#fdd06a" stroke="#333" stroke-width="0.7"/>
<circle cx="240.58" cy="511.96" r="1.65" fill="#fdd06a" stroke="#333" stroke-width="0.7"/>
<circle cx="243.3" cy="511.73" r="1.65" fill="#fdd06a" stroke="#333" stroke-width="0.7"/>
<text x="239.9" y="536.7" font-size="3" text-anchor="middle" fill="#e8e8e8">3</text>
<rect x="218.9" y="443.6" width="30.3" height="8.7" rx="1" fill="#fdd172" stroke="#45391f" stroke-width="0.75"/>
<text transform="translate(234.05 450.19) scale(1 1.1)" font-size="5.2" text-anchor="middle" font-weight="bold" fill="#1a1a1a">ABX</text>
<line x1="187.5" y1="445.6" x2="187.5" y2="539" stroke="#4a4a4a" stroke-width="0.95"/>
<line x1="187" y1="538.5" x2="249.8" y2="538.5" stroke="#4a4a4a" stroke-width="0.95"/>
<line x1="184.9" y1="538.9" x2="187.5" y2="538.9" stroke="#4a4a4a" stroke-width="0.8"/>
<text transform="translate(184.8 541.28) scale(1 1.18)" font-size="5.6" text-anchor="end" fill="#111" stroke="#111" stroke-width="0.18">0</text>
<line x1="186" y1="527.29" x2="187.5" y2="527.29" stroke="#4a4a4a" stroke-width="0.7"/>
<line x1="184.9" y1="515.67" x2="187.5" y2="515.67" stroke="#4a4a4a" stroke-width="0.8"/>
<text transform="translate(184.8 518.05) scale(1 1.18)" font-size="5.6" text-anchor="end" fill="#111" stroke="#111" stroke-width="0.18">1</text>
<line x1="186" y1="504.06" x2="187.5" y2="504.06" stroke="#4a4a4a" stroke-width="0.7"/>
<line x1="184.9" y1="492.45" x2="187.5" y2="492.45" stroke="#4a4a4a" stroke-width="0.8"/>
<text transform="translate(184.8 494.83) scale(1 1.18)" font-size="5.6" text-anchor="end" fill="#111" stroke="#111" stroke-width="0.18">2</text>
<line x1="186" y1="480.84" x2="187.5" y2="480.84" stroke="#4a4a4a" stroke-width="0.7"/>
<line x1="184.9" y1="469.23" x2="187.5" y2="469.23" stroke="#4a4a4a" stroke-width="0.8"/>
<text transform="translate(184.8 471.6) scale(1 1.18)" font-size="5.6" text-anchor="end" fill="#111" stroke="#111" stroke-width="0.18">3</text>
<line x1="186" y1="457.61" x2="187.5" y2="457.61" stroke="#4a4a4a" stroke-width="0.7"/>
<line x1="184.9" y1="446" x2="187.5" y2="446" stroke="#4a4a4a" stroke-width="0.8"/>
<text transform="translate(184.8 448.38) scale(1 1.18)" font-size="5.6" text-anchor="end" fill="#111" stroke="#111" stroke-width="0.18">4</text>
<line x1="197.1" y1="492.68" x2="209.8" y2="492.68" stroke="#a6a6a6" stroke-width="1.4"/>
<text x="203.45" y="490.88" font-size="3.6" text-anchor="middle" fill="#505050">0.0010</text>
<rect x="296.3" y="444.4" width="31.1" height="94" fill="#ececec"/>
<rect x="270.1" y="504.49" width="9.9" height="33.91" fill="#5e5e5e"/>
<rect x="282.3" y="525.39" width="9.9" height="13.01" fill="#3ec364"/>
<rect x="300" y="500.08" width="9.9" height="38.32" fill="#5e5e5e"/>
<rect x="312.3" y="512.62" width="9.9" height="25.78" fill="#3ec364"/>
<line x1="275.05" y1="507.74" x2="275.05" y2="501.24" stroke="#2a2a2a" stroke-width="0.75"/>
<line x1="272.45" y1="501.24" x2="277.65" y2="501.24" stroke="#3a3a3a" stroke-width="0.75"/>
<line x1="272.45" y1="507.74" x2="277.65" y2="507.74" stroke="#2a2a2a" stroke-width="0.75"/>
<circle cx="275.05" cy="497.99" r="1.65" fill="#fff" stroke="#333" stroke-width="0.7"/>
<circle cx="271.65" cy="503.1" r="1.65" fill="#fff" stroke="#333" stroke-width="0.7"/>
<circle cx="278.45" cy="505.88" r="1.65" fill="#fff" stroke="#333" stroke-width="0.7"/>
<circle cx="275.05" cy="510.53" r="1.65" fill="#fff" stroke="#333" stroke-width="0.7"/>
<text x="275.05" y="536.2" font-size="3" text-anchor="middle" fill="#e8e8e8">4</text>
<circle cx="283.85" cy="523.54" r="1.65" fill="#fff" stroke="#333" stroke-width="0.7"/>
<circle cx="290.65" cy="524.93" r="1.65" fill="#fff" stroke="#333" stroke-width="0.7"/>
<circle cx="283.85" cy="527.25" r="1.65" fill="#fff" stroke="#333" stroke-width="0.7"/>
<text x="287.25" y="536.2" font-size="3" text-anchor="middle" fill="#e8e8e8">3</text>
<line x1="304.95" y1="504.49" x2="304.95" y2="495.2" stroke="#2a2a2a" stroke-width="0.75"/>
<line x1="302.35" y1="495.2" x2="307.55" y2="495.2" stroke="#3a3a3a" stroke-width="0.75"/>
<line x1="302.35" y1="504.49" x2="307.55" y2="504.49" stroke="#2a2a2a" stroke-width="0.75"/>
<circle cx="304.95" cy="491.02" r="1.65" fill="#fdd06a" stroke="#333" stroke-width="0.7"/>
<circle cx="301.55" cy="495.2" r="1.65" fill="#fdd06a" stroke="#333" stroke-width="0.7"/>
<circle cx="308.35" cy="497.52" r="1.65" fill="#fdd06a" stroke="#333" stroke-width="0.7"/>
<circle cx="304.95" cy="513.78" r="1.65" fill="#fdd06a" stroke="#333" stroke-width="0.7"/>
<text x="304.95" y="536.2" font-size="3" text-anchor="middle" fill="#e8e8e8">4</text>
<circle cx="313.85" cy="513.32" r="1.65" fill="#fdd06a" stroke="#333" stroke-width="0.7"/>
<circle cx="317.25" cy="511.92" r="1.65" fill="#fdd06a" stroke="#333" stroke-width="0.7"/>
<circle cx="320.65" cy="512.85" r="1.65" fill="#fdd06a" stroke="#333" stroke-width="0.7"/>
<text x="317.25" y="536.2" font-size="3" text-anchor="middle" fill="#e8e8e8">3</text>
<rect x="296.6" y="442.7" width="30.5" height="9.2" rx="1" fill="#fdd172" stroke="#45391f" stroke-width="0.75"/>
<text transform="translate(311.85 449.54) scale(1 1.1)" font-size="5.2" text-anchor="middle" font-weight="bold" fill="#1a1a1a">ABX</text>
<line x1="264.5" y1="445.1" x2="264.5" y2="539" stroke="#4a4a4a" stroke-width="0.95"/>
<line x1="264" y1="538.5" x2="327.4" y2="538.5" stroke="#4a4a4a" stroke-width="0.95"/>
<line x1="261.9" y1="538.4" x2="264.5" y2="538.4" stroke="#4a4a4a" stroke-width="0.8"/>
<text transform="translate(262 540.78) scale(1 1.18)" font-size="5.6" text-anchor="end" fill="#111" stroke="#111" stroke-width="0.18">0</text>
<line x1="263" y1="526.79" x2="264.5" y2="526.79" stroke="#4a4a4a" stroke-width="0.7"/>
<line x1="261.9" y1="515.17" x2="264.5" y2="515.17" stroke="#4a4a4a" stroke-width="0.8"/>
<text transform="translate(262 517.55) scale(1 1.18)" font-size="5.6" text-anchor="end" fill="#111" stroke="#111" stroke-width="0.18">5</text>
<line x1="263" y1="503.56" x2="264.5" y2="503.56" stroke="#4a4a4a" stroke-width="0.7"/>
<line x1="261.9" y1="491.95" x2="264.5" y2="491.95" stroke="#4a4a4a" stroke-width="0.8"/>
<text transform="translate(262 494.33) scale(1 1.18)" font-size="5.6" text-anchor="end" fill="#111" stroke="#111" stroke-width="0.18">10</text>
<line x1="263" y1="480.34" x2="264.5" y2="480.34" stroke="#4a4a4a" stroke-width="0.7"/>
<line x1="261.9" y1="468.73" x2="264.5" y2="468.73" stroke="#4a4a4a" stroke-width="0.8"/>
<text transform="translate(262 471.1) scale(1 1.18)" font-size="5.6" text-anchor="end" fill="#111" stroke="#111" stroke-width="0.18">15</text>
<line x1="263" y1="457.11" x2="264.5" y2="457.11" stroke="#4a4a4a" stroke-width="0.7"/>
<line x1="261.9" y1="445.5" x2="264.5" y2="445.5" stroke="#4a4a4a" stroke-width="0.8"/>
<text transform="translate(262 447.88) scale(1 1.18)" font-size="5.6" text-anchor="end" fill="#111" stroke="#111" stroke-width="0.18">20</text>
<line x1="274.6" y1="485.45" x2="287.3" y2="485.45" stroke="#a6a6a6" stroke-width="1.4"/>
<text x="280.95" y="483.65" font-size="3.6" text-anchor="middle" fill="#505050">0.0065</text>
<line x1="305" y1="484.98" x2="317.4" y2="484.98" stroke="#a6a6a6" stroke-width="1.4"/>
<text x="311.2" y="483.18" font-size="3.6" text-anchor="middle" fill="#505050">0.0337</text>
<rect x="217.4" y="588.8" width="30.8" height="92.1" fill="#ececec"/>
<rect x="192" y="664.56" width="9.8" height="16.34" fill="#5e5e5e"/>
<rect x="204.2" y="649.57" width="9.8" height="31.33" fill="#3ec364"/>
<rect x="221.1" y="666.83" width="9.8" height="14.07" fill="#5e5e5e"/>
<rect x="233.4" y="668.64" width="9.8" height="12.26" fill="#3ec364"/>
<line x1="196.9" y1="667.28" x2="196.9" y2="660.92" stroke="#2a2a2a" stroke-width="0.75"/>
<line x1="194.3" y1="660.92" x2="199.5" y2="660.92" stroke="#3a3a3a" stroke-width="0.75"/>
<line x1="194.3" y1="667.28" x2="199.5" y2="667.28" stroke="#2a2a2a" stroke-width="0.75"/>
<circle cx="196.9" cy="657.06" r="1.65" fill="#fff" stroke="#333" stroke-width="0.7"/>
<circle cx="200.3" cy="664.56" r="1.65" fill="#fff" stroke="#333" stroke-width="0.7"/>
<circle cx="193.5" cy="666.14" r="1.65" fill="#fff" stroke="#333" stroke-width="0.7"/>
<circle cx="196.9" cy="669.55" r="1.65" fill="#fff" stroke="#333" stroke-width="0.7"/>
<text x="196.9" y="678.7" font-size="3" text-anchor="middle" fill="#e8e8e8">4</text>
<circle cx="205.7" cy="648.67" r="1.65" fill="#fff" stroke="#333" stroke-width="0.7"/>
<circle cx="212.5" cy="648.67" r="1.65" fill="#fff" stroke="#333" stroke-width="0.7"/>
<circle cx="209.1" cy="651.39" r="1.65" fill="#fff" stroke="#333" stroke-width="0.7"/>
<text x="209.1" y="678.7" font-size="3" text-anchor="middle" fill="#e8e8e8">3</text>
<line x1="226" y1="670.68" x2="226" y2="662.74" stroke="#2a2a2a" stroke-width="0.75"/>
<line x1="223.4" y1="662.74" x2="228.6" y2="662.74" stroke="#3a3a3a" stroke-width="0.75"/>
<line x1="223.4" y1="670.68" x2="228.6" y2="670.68" stroke="#2a2a2a" stroke-width="0.75"/>
<circle cx="226" cy="658.2" r="1.65" fill="#fdd06a" stroke="#333" stroke-width="0.7"/>
<circle cx="226" cy="662.74" r="1.65" fill="#fdd06a" stroke="#333" stroke-width="0.7"/>
<circle cx="229.4" cy="670.68" r="1.65" fill="#fdd06a" stroke="#333" stroke-width="0.7"/>
<circle cx="222.6" cy="672.95" r="1.65" fill="#fdd06a" stroke="#333" stroke-width="0.7"/>
<text x="226" y="678.7" font-size="3" text-anchor="middle" fill="#e8e8e8">4</text>
<line x1="238.3" y1="671.82" x2="238.3" y2="666.14" stroke="#2a2a2a" stroke-width="0.75"/>
<line x1="235.7" y1="666.14" x2="240.9" y2="666.14" stroke="#3a3a3a" stroke-width="0.75"/>
<line x1="235.7" y1="671.82" x2="240.9" y2="671.82" stroke="#2a2a2a" stroke-width="0.75"/>
<circle cx="241.7" cy="664.56" r="1.65" fill="#fdd06a" stroke="#333" stroke-width="0.7"/>
<circle cx="234.9" cy="666.14" r="1.65" fill="#fdd06a" stroke="#333" stroke-width="0.7"/>
<circle cx="238.3" cy="669.1" r="1.65" fill="#fdd06a" stroke="#333" stroke-width="0.7"/>
<circle cx="238.3" cy="671.82" r="1.65" fill="#fdd06a" stroke="#333" stroke-width="0.7"/>
<text x="238.3" y="678.7" font-size="3" text-anchor="middle" fill="#e8e8e8">4</text>
<rect x="217.7" y="587.1" width="30" height="9" rx="1" fill="#fdd172" stroke="#45391f" stroke-width="0.75"/>
<text transform="translate(232.7 593.84) scale(1 1.1)" font-size="5.2" text-anchor="middle" font-weight="bold" fill="#1a1a1a">ABX</text>
<line x1="186.5" y1="589.7" x2="186.5" y2="681" stroke="#4a4a4a" stroke-width="0.95"/>
<line x1="186" y1="680.5" x2="248.2" y2="680.5" stroke="#4a4a4a" stroke-width="0.95"/>
<line x1="183.9" y1="680.9" x2="186.5" y2="680.9" stroke="#4a4a4a" stroke-width="0.8"/>
<text transform="translate(184 683.28) scale(1 1.18)" font-size="5.6" text-anchor="end" fill="#111" stroke="#111" stroke-width="0.18">0</text>
<line x1="185" y1="669.55" x2="186.5" y2="669.55" stroke="#4a4a4a" stroke-width="0.7"/>
<line x1="183.9" y1="658.2" x2="186.5" y2="658.2" stroke="#4a4a4a" stroke-width="0.8"/>
<text transform="translate(184 660.58) scale(1 1.18)" font-size="5.6" text-anchor="end" fill="#111" stroke="#111" stroke-width="0.18">1</text>
<line x1="185" y1="646.85" x2="186.5" y2="646.85" stroke="#4a4a4a" stroke-width="0.7"/>
<line x1="183.9" y1="635.5" x2="186.5" y2="635.5" stroke="#4a4a4a" stroke-width="0.8"/>
<text transform="translate(184 637.88) scale(1 1.18)" font-size="5.6" text-anchor="end" fill="#111" stroke="#111" stroke-width="0.18">2</text>
<line x1="185" y1="624.15" x2="186.5" y2="624.15" stroke="#4a4a4a" stroke-width="0.7"/>
<line x1="183.9" y1="612.8" x2="186.5" y2="612.8" stroke="#4a4a4a" stroke-width="0.8"/>
<text transform="translate(184 615.18) scale(1 1.18)" font-size="5.6" text-anchor="end" fill="#111" stroke="#111" stroke-width="0.18">3</text>
<line x1="185" y1="601.45" x2="186.5" y2="601.45" stroke="#4a4a4a" stroke-width="0.7"/>
<line x1="183.9" y1="590.1" x2="186.5" y2="590.1" stroke="#4a4a4a" stroke-width="0.8"/>
<text transform="translate(184 592.48) scale(1 1.18)" font-size="5.6" text-anchor="end" fill="#111" stroke="#111" stroke-width="0.18">4</text>
<line x1="196.1" y1="642.76" x2="208.4" y2="642.76" stroke="#a6a6a6" stroke-width="1.4"/>
<text x="202.25" y="640.96" font-size="3.6" text-anchor="middle" fill="#505050">0.0280</text>
<line x1="209.8" y1="642.76" x2="238.5" y2="642.76" stroke="#a6a6a6" stroke-width="1.4"/>
<text x="224.15" y="640.96" font-size="3.6" text-anchor="middle" fill="#505050">0.0037</text>
<rect x="293.7" y="589.1" width="30.4" height="91.8" fill="#ececec"/>
<rect x="268.2" y="630.05" width="9.9" height="50.85" fill="#5e5e5e"/>
<rect x="280" y="661.11" width="9.9" height="19.79" fill="#3ec364"/>
<rect x="297.1" y="647.08" width="9.9" height="33.82" fill="#5e5e5e"/>
<rect x="309.4" y="650.94" width="9.9" height="29.96" fill="#3ec364"/>
<line x1="273.15" y1="639.13" x2="273.15" y2="621.43" stroke="#2a2a2a" stroke-width="0.75"/>
<line x1="270.55" y1="621.43" x2="275.75" y2="621.43" stroke="#3a3a3a" stroke-width="0.75"/>
<line x1="270.55" y1="639.13" x2="275.75" y2="639.13" stroke="#2a2a2a" stroke-width="0.75"/>
<circle cx="273.15" cy="608.26" r="1.65" fill="#fff" stroke="#333" stroke-width="0.7"/>
<circle cx="269.75" cy="629.6" r="1.65" fill="#fff" stroke="#333" stroke-width="0.7"/>
<circle cx="276.55" cy="629.6" r="1.65" fill="#fff" stroke="#333" stroke-width="0.7"/>
<circle cx="273.15" cy="651.39" r="1.65" fill="#fff" stroke="#333" stroke-width="0.7"/>
<text x="273.15" y="678.7" font-size="3" text-anchor="middle" fill="#e8e8e8">4</text>
<line x1="284.95" y1="667.28" x2="284.95" y2="655.48" stroke="#2a2a2a" stroke-width="0.75"/>
<line x1="282.35" y1="655.48" x2="287.55" y2="655.48" stroke="#3a3a3a" stroke-width="0.75"/>
<line x1="282.35" y1="667.28" x2="287.55" y2="667.28" stroke="#2a2a2a" stroke-width="0.75"/>
<circle cx="284.95" cy="652.75" r="1.65" fill="#fff" stroke="#333" stroke-width="0.7"/>
<circle cx="284.95" cy="656.38" r="1.65" fill="#fff" stroke="#333" stroke-width="0.7"/>
<circle cx="284.95" cy="673.64" r="1.65" fill="#fff" stroke="#333" stroke-width="0.7"/>
<text x="284.95" y="678.7" font-size="3" text-anchor="middle" fill="#e8e8e8">3</text>
<line x1="302.05" y1="653.21" x2="302.05" y2="640.95" stroke="#2a2a2a" stroke-width="0.75"/>
<line x1="299.45" y1="640.95" x2="304.65" y2="640.95" stroke="#3a3a3a" stroke-width="0.75"/>
<line x1="299.45" y1="653.21" x2="304.65" y2="653.21" stroke="#2a2a2a" stroke-width="0.75"/>
<circle cx="302.05" cy="632.32" r="1.65" fill="#fdd06a" stroke="#333" stroke-width="0.7"/>
<circle cx="302.05" cy="640.95" r="1.65" fill="#fdd06a" stroke="#333" stroke-width="0.7"/>
<circle cx="298.65" cy="657.29" r="1.65" fill="#fdd06a" stroke="#333" stroke-width="0.7"/>
<circle cx="305.45" cy="657.29" r="1.65" fill="#fdd06a" stroke="#333" stroke-width="0.7"/>
<text x="302.05" y="678.7" font-size="3" text-anchor="middle" fill="#e8e8e8">4</text>
<line x1="314.35" y1="656.84" x2="314.35" y2="645.49" stroke="#2a2a2a" stroke-width="0.75"/>
<line x1="311.75" y1="645.49" x2="316.95" y2="645.49" stroke="#3a3a3a" stroke-width="0.75"/>
<line x1="311.75" y1="656.84" x2="316.95" y2="656.84" stroke="#2a2a2a" stroke-width="0.75"/>
<circle cx="314.35" cy="639.13" r="1.65" fill="#fdd06a" stroke="#333" stroke-width="0.7"/>
<circle cx="314.35" cy="643.22" r="1.65" fill="#fdd06a" stroke="#333" stroke-width="0.7"/>
<circle cx="314.35" cy="653.66" r="1.65" fill="#fdd06a" stroke="#333" stroke-width="0.7"/>
<circle cx="314.35" cy="665.92" r="1.65" fill="#fdd06a" stroke="#333" stroke-width="0.7"/>
<text x="314.35" y="678.7" font-size="3" text-anchor="middle" fill="#e8e8e8">4</text>
<rect x="294" y="587.4" width="29.7" height="9" rx="1" fill="#fdd172" stroke="#45391f" stroke-width="0.75"/>
<text transform="translate(308.85 594.14) scale(1 1.1)" font-size="5.2" text-anchor="middle" font-weight="bold" fill="#1a1a1a">ABX</text>
<line x1="262.5" y1="589.7" x2="262.5" y2="681" stroke="#4a4a4a" stroke-width="0.95"/>
<line x1="262" y1="680.5" x2="324.1" y2="680.5" stroke="#4a4a4a" stroke-width="0.95"/>
<line x1="259.9" y1="680.9" x2="262.5" y2="680.9" stroke="#4a4a4a" stroke-width="0.8"/>
<text transform="translate(260 683.28) scale(1 1.18)" font-size="5.6" text-anchor="end" fill="#111" stroke="#111" stroke-width="0.18">0</text>
<line x1="261" y1="669.55" x2="262.5" y2="669.55" stroke="#4a4a4a" stroke-width="0.7"/>
<line x1="259.9" y1="658.2" x2="262.5" y2="658.2" stroke="#4a4a4a" stroke-width="0.8"/>
<text transform="translate(260 660.58) scale(1 1.18)" font-size="5.6" text-anchor="end" fill="#111" stroke="#111" stroke-width="0.18">5</text>
<line x1="261" y1="646.85" x2="262.5" y2="646.85" stroke="#4a4a4a" stroke-width="0.7"/>
<line x1="259.9" y1="635.5" x2="262.5" y2="635.5" stroke="#4a4a4a" stroke-width="0.8"/>
<text transform="translate(260 637.88) scale(1 1.18)" font-size="5.6" text-anchor="end" fill="#111" stroke="#111" stroke-width="0.18">10</text>
<line x1="261" y1="624.15" x2="262.5" y2="624.15" stroke="#4a4a4a" stroke-width="0.7"/>
<line x1="259.9" y1="612.8" x2="262.5" y2="612.8" stroke="#4a4a4a" stroke-width="0.8"/>
<text transform="translate(260 615.18) scale(1 1.18)" font-size="5.6" text-anchor="end" fill="#111" stroke="#111" stroke-width="0.18">15</text>
<line x1="261" y1="601.45" x2="262.5" y2="601.45" stroke="#4a4a4a" stroke-width="0.7"/>
<line x1="259.9" y1="590.1" x2="262.5" y2="590.1" stroke="#4a4a4a" stroke-width="0.8"/>
<text transform="translate(260 592.48) scale(1 1.18)" font-size="5.6" text-anchor="end" fill="#111" stroke="#111" stroke-width="0.18">20</text>
<line x1="273" y1="603.27" x2="285.3" y2="603.27" stroke="#a6a6a6" stroke-width="1.4"/>
<text x="279.15" y="601.47" font-size="3.6" text-anchor="middle" fill="#505050">0.0504</text>
<rect x="222.2" y="728.3" width="31" height="91.7" fill="#ececec"/>
<rect x="197" y="796.7" width="9.8" height="23.3" fill="#5e5e5e"/>
<rect x="209.2" y="771.36" width="9.8" height="48.64" fill="#3ec364"/>
<rect x="226.3" y="795.79" width="9.8" height="24.21" fill="#5e5e5e"/>
<rect x="238.3" y="799.18" width="9.8" height="20.82" fill="#3ec364"/>
<circle cx="198.5" cy="794.66" r="1.65" fill="#fff" stroke="#333" stroke-width="0.7"/>
<circle cx="205.3" cy="795.11" r="1.65" fill="#fff" stroke="#333" stroke-width="0.7"/>
<circle cx="201.9" cy="800.09" r="1.65" fill="#fff" stroke="#333" stroke-width="0.7"/>
<text x="201.9" y="817.8" font-size="3" text-anchor="middle" fill="#e8e8e8">3</text>
<line x1="214.1" y1="777.01" x2="214.1" y2="766.15" stroke="#2a2a2a" stroke-width="0.75"/>
<line x1="211.5" y1="766.15" x2="216.7" y2="766.15" stroke="#3a3a3a" stroke-width="0.75"/>
<line x1="211.5" y1="777.01" x2="216.7" y2="777.01" stroke="#2a2a2a" stroke-width="0.75"/>
<circle cx="214.1" cy="756.2" r="1.65" fill="#fff" stroke="#333" stroke-width="0.7"/>
<circle cx="210.7" cy="775.2" r="1.65" fill="#fff" stroke="#333" stroke-width="0.7"/>
<circle cx="217.5" cy="775.88" r="1.65" fill="#fff" stroke="#333" stroke-width="0.7"/>
<circle cx="214.1" cy="776.56" r="1.65" fill="#fff" stroke="#333" stroke-width="0.7"/>
<text x="214.1" y="817.8" font-size="3" text-anchor="middle" fill="#e8e8e8">4</text>
<circle cx="231.2" cy="793.98" r="1.65" fill="#fdd06a" stroke="#333" stroke-width="0.7"/>
<circle cx="227.8" cy="796.24" r="1.65" fill="#fdd06a" stroke="#333" stroke-width="0.7"/>
<circle cx="234.6" cy="796.24" r="1.65" fill="#fdd06a" stroke="#333" stroke-width="0.7"/>
<text x="231.2" y="817.8" font-size="3" text-anchor="middle" fill="#e8e8e8">3</text>
<circle cx="243.2" cy="796.24" r="1.65" fill="#fdd06a" stroke="#333" stroke-width="0.7"/>
<circle cx="246.6" cy="800.09" r="1.65" fill="#fdd06a" stroke="#333" stroke-width="0.7"/>
<circle cx="239.8" cy="800.77" r="1.65" fill="#fdd06a" stroke="#333" stroke-width="0.7"/>
<text x="243.2" y="817.8" font-size="3" text-anchor="middle" fill="#e8e8e8">3</text>
<rect x="222.5" y="726.6" width="30.2" height="8.9" rx="1" fill="#fdd172" stroke="#45391f" stroke-width="0.75"/>
<text transform="translate(237.6 733.29) scale(1 1.1)" font-size="5.2" text-anchor="middle" font-weight="bold" fill="#1a1a1a">ABX</text>
<line x1="190.5" y1="729.1" x2="190.5" y2="821" stroke="#4a4a4a" stroke-width="0.95"/>
<line x1="190" y1="820.5" x2="253.2" y2="820.5" stroke="#4a4a4a" stroke-width="0.95"/>
<line x1="187.9" y1="820" x2="190.5" y2="820" stroke="#4a4a4a" stroke-width="0.8"/>
<text transform="translate(188.3 822.38) scale(1 1.18)" font-size="5.6" text-anchor="end" fill="#111" stroke="#111" stroke-width="0.18">0</text>
<line x1="189" y1="808.69" x2="190.5" y2="808.69" stroke="#4a4a4a" stroke-width="0.7"/>
<line x1="187.9" y1="797.38" x2="190.5" y2="797.38" stroke="#4a4a4a" stroke-width="0.8"/>
<text transform="translate(188.3 799.75) scale(1 1.18)" font-size="5.6" text-anchor="end" fill="#111" stroke="#111" stroke-width="0.18">1</text>
<line x1="189" y1="786.06" x2="190.5" y2="786.06" stroke="#4a4a4a" stroke-width="0.7"/>
<line x1="187.9" y1="774.75" x2="190.5" y2="774.75" stroke="#4a4a4a" stroke-width="0.8"/>
<text transform="translate(188.3 777.13) scale(1 1.18)" font-size="5.6" text-anchor="end" fill="#111" stroke="#111" stroke-width="0.18">2</text>
<line x1="189" y1="763.44" x2="190.5" y2="763.44" stroke="#4a4a4a" stroke-width="0.7"/>
<line x1="187.9" y1="752.12" x2="190.5" y2="752.12" stroke="#4a4a4a" stroke-width="0.8"/>
<text transform="translate(188.3 754.5) scale(1 1.18)" font-size="5.6" text-anchor="end" fill="#111" stroke="#111" stroke-width="0.18">3</text>
<line x1="189" y1="740.81" x2="190.5" y2="740.81" stroke="#4a4a4a" stroke-width="0.7"/>
<line x1="187.9" y1="729.5" x2="190.5" y2="729.5" stroke="#4a4a4a" stroke-width="0.8"/>
<text transform="translate(188.3 731.88) scale(1 1.18)" font-size="5.6" text-anchor="end" fill="#111" stroke="#111" stroke-width="0.18">4</text>
<line x1="201.3" y1="752.35" x2="213.3" y2="752.35" stroke="#a6a6a6" stroke-width="1.4"/>
<text x="207.3" y="750.55" font-size="3.6" text-anchor="middle" fill="#505050">0.0322</text>
<line x1="214.7" y1="752.35" x2="243.3" y2="752.35" stroke="#a6a6a6" stroke-width="1.4"/>
<text x="229" y="750.55" font-size="3.6" text-anchor="middle" fill="#505050">0.0011</text>
<rect x="297.5" y="728.3" width="30" height="91.4" fill="#ececec"/>
<rect x="272" y="765.13" width="9.9" height="54.57" fill="#5e5e5e"/>
<rect x="283.8" y="794.44" width="9.9" height="25.26" fill="#3ec364"/>
<rect x="301.2" y="779.11" width="9.9" height="40.59" fill="#5e5e5e"/>
<rect x="313" y="790.84" width="9.9" height="28.86" fill="#3ec364"/>
<line x1="276.95" y1="776.86" x2="276.95" y2="753.4" stroke="#2a2a2a" stroke-width="0.75"/>
<line x1="274.35" y1="753.4" x2="279.55" y2="753.4" stroke="#3a3a3a" stroke-width="0.75"/>
<line x1="274.35" y1="776.86" x2="279.55" y2="776.86" stroke="#2a2a2a" stroke-width="0.75"/>
<circle cx="276.95" cy="743.03" r="1.65" fill="#fff" stroke="#333" stroke-width="0.7"/>
<circle cx="276.95" cy="773.25" r="1.65" fill="#fff" stroke="#333" stroke-width="0.7"/>
<circle cx="276.95" cy="778.21" r="1.65" fill="#fff" stroke="#333" stroke-width="0.7"/>
<text x="276.95" y="817.5" font-size="3" text-anchor="middle" fill="#e8e8e8">3</text>
<line x1="288.75" y1="800.76" x2="288.75" y2="788.13" stroke="#2a2a2a" stroke-width="0.75"/>
<line x1="286.15" y1="788.13" x2="291.35" y2="788.13" stroke="#3a3a3a" stroke-width="0.75"/>
<line x1="286.15" y1="800.76" x2="291.35" y2="800.76" stroke="#2a2a2a" stroke-width="0.75"/>
<circle cx="288.75" cy="777.31" r="1.65" fill="#fff" stroke="#333" stroke-width="0.7"/>
<circle cx="285.35" cy="795.8" r="1.65" fill="#fff" stroke="#333" stroke-width="0.7"/>
<circle cx="292.15" cy="798.95" r="1.65" fill="#fff" stroke="#333" stroke-width="0.7"/>
<circle cx="288.75" cy="803.46" r="1.65" fill="#fff" stroke="#333" stroke-width="0.7"/>
<text x="288.75" y="817.5" font-size="3" text-anchor="middle" fill="#e8e8e8">4</text>
<line x1="306.15" y1="785.88" x2="306.15" y2="773.25" stroke="#2a2a2a" stroke-width="0.75"/>
<line x1="303.55" y1="773.25" x2="308.75" y2="773.25" stroke="#3a3a3a" stroke-width="0.75"/>
<line x1="303.55" y1="785.88" x2="308.75" y2="785.88" stroke="#2a2a2a" stroke-width="0.75"/>
<circle cx="306.15" cy="767.84" r="1.65" fill="#fdd06a" stroke="#333" stroke-width="0.7"/>
<circle cx="306.15" cy="781.82" r="1.65" fill="#fdd06a" stroke="#333" stroke-width="0.7"/>
<circle cx="306.15" cy="788.13" r="1.65" fill="#fdd06a" stroke="#333" stroke-width="0.7"/>
<text x="306.15" y="817.5" font-size="3" text-anchor="middle" fill="#e8e8e8">3</text>
<circle cx="314.55" cy="788.13" r="1.65" fill="#fdd06a" stroke="#333" stroke-width="0.7"/>
<circle cx="321.35" cy="789.93" r="1.65" fill="#fdd06a" stroke="#333" stroke-width="0.7"/>
<circle cx="317.95" cy="795.8" r="1.65" fill="#fdd06a" stroke="#333" stroke-width="0.7"/>
<text x="317.95" y="817.5" font-size="3" text-anchor="middle" fill="#e8e8e8">3</text>
<rect x="297.8" y="726.6" width="29.4" height="8.9" rx="1" fill="#fdd172" stroke="#45391f" stroke-width="0.75"/>
<text transform="translate(312.5 733.29) scale(1 1.1)" font-size="5.2" text-anchor="middle" font-weight="bold" fill="#1a1a1a">ABX</text>
<line x1="266.5" y1="729.1" x2="266.5" y2="820" stroke="#4a4a4a" stroke-width="0.95"/>
<line x1="266" y1="819.5" x2="327.5" y2="819.5" stroke="#4a4a4a" stroke-width="0.95"/>
<line x1="263.9" y1="819.7" x2="266.5" y2="819.7" stroke="#4a4a4a" stroke-width="0.8"/>
<text transform="translate(263.8 822.08) scale(1 1.18)" font-size="5.6" text-anchor="end" fill="#111" stroke="#111" stroke-width="0.18">0</text>
<line x1="265" y1="808.43" x2="266.5" y2="808.43" stroke="#4a4a4a" stroke-width="0.7"/>
<line x1="263.9" y1="797.15" x2="266.5" y2="797.15" stroke="#4a4a4a" stroke-width="0.8"/>
<text transform="translate(263.8 799.53) scale(1 1.18)" font-size="5.6" text-anchor="end" fill="#111" stroke="#111" stroke-width="0.18">5</text>
<line x1="265" y1="785.88" x2="266.5" y2="785.88" stroke="#4a4a4a" stroke-width="0.7"/>
<line x1="263.9" y1="774.6" x2="266.5" y2="774.6" stroke="#4a4a4a" stroke-width="0.8"/>
<text transform="translate(263.8 776.98) scale(1 1.18)" font-size="5.6" text-anchor="end" fill="#111" stroke="#111" stroke-width="0.18">10</text>
<line x1="265" y1="763.33" x2="266.5" y2="763.33" stroke="#4a4a4a" stroke-width="0.7"/>
<line x1="263.9" y1="752.05" x2="266.5" y2="752.05" stroke="#4a4a4a" stroke-width="0.8"/>
<text transform="translate(263.8 754.43) scale(1 1.18)" font-size="5.6" text-anchor="end" fill="#111" stroke="#111" stroke-width="0.18">15</text>
<line x1="265" y1="740.77" x2="266.5" y2="740.77" stroke="#4a4a4a" stroke-width="0.7"/>
<line x1="263.9" y1="729.5" x2="266.5" y2="729.5" stroke="#4a4a4a" stroke-width="0.8"/>
<text transform="translate(263.8 731.88) scale(1 1.18)" font-size="5.6" text-anchor="end" fill="#111" stroke="#111" stroke-width="0.18">20</text>
<line x1="276.3" y1="738.07" x2="288.8" y2="738.07" stroke="#a6a6a6" stroke-width="1.4"/>
<text x="282.55" y="736.27" font-size="3.6" text-anchor="middle" fill="#505050">0.0482</text>
<rect x="552.4" y="444.6" width="31.4" height="95" fill="#ececec"/>
<rect x="526" y="525.25" width="9.8" height="14.35" fill="#5e5e5e"/>
<rect x="538.8" y="469.5" width="9.8" height="70.1" fill="#3ec364"/>
<rect x="556.4" y="520.31" width="9.8" height="19.29" fill="#5e5e5e"/>
<rect x="569.1" y="511.84" width="9.8" height="27.76" fill="#3ec364"/>
<line x1="530.9" y1="531.37" x2="530.9" y2="519.6" stroke="#2a2a2a" stroke-width="0.75"/>
<line x1="528.3" y1="519.6" x2="533.5" y2="519.6" stroke="#3a3a3a" stroke-width="0.75"/>
<line x1="528.3" y1="531.37" x2="533.5" y2="531.37" stroke="#2a2a2a" stroke-width="0.75"/>
<circle cx="530.9" cy="514.9" r="1.65" fill="#fff" stroke="#333" stroke-width="0.7"/>
<circle cx="530.9" cy="520.78" r="1.65" fill="#fff" stroke="#333" stroke-width="0.7"/>
<circle cx="530.9" cy="526.66" r="1.65" fill="#fff" stroke="#333" stroke-width="0.7"/>
<circle cx="530.9" cy="537.25" r="1.65" fill="#fff" stroke="#333" stroke-width="0.7"/>
<text x="530.9" y="537.4" font-size="3" text-anchor="middle" fill="#e8e8e8">4</text>
<line x1="543.7" y1="473.26" x2="543.7" y2="465.5" stroke="#2a2a2a" stroke-width="0.75"/>
<line x1="541.1" y1="465.5" x2="546.3" y2="465.5" stroke="#3a3a3a" stroke-width="0.75"/>
<line x1="541.1" y1="473.26" x2="546.3" y2="473.26" stroke="#2a2a2a" stroke-width="0.75"/>
<circle cx="540.3" cy="464.32" r="1.65" fill="#fff" stroke="#333" stroke-width="0.7"/>
<circle cx="547.1" cy="466.67" r="1.65" fill="#fff" stroke="#333" stroke-width="0.7"/>
<circle cx="543.7" cy="478.44" r="1.65" fill="#fff" stroke="#333" stroke-width="0.7"/>
<text x="543.7" y="537.4" font-size="3" text-anchor="middle" fill="#e8e8e8">3</text>
<circle cx="557.9" cy="518.43" r="1.65" fill="#fdd06a" stroke="#333" stroke-width="0.7"/>
<circle cx="561.3" cy="519.6" r="1.65" fill="#fdd06a" stroke="#333" stroke-width="0.7"/>
<circle cx="564.7" cy="520.78" r="1.65" fill="#fdd06a" stroke="#333" stroke-width="0.7"/>
<circle cx="557.9" cy="522.66" r="1.65" fill="#fdd06a" stroke="#333" stroke-width="0.7"/>
<text x="561.3" y="537.4" font-size="3" text-anchor="middle" fill="#e8e8e8">4</text>
<line x1="574" y1="514.9" x2="574" y2="507.84" stroke="#2a2a2a" stroke-width="0.75"/>
<line x1="571.4" y1="507.84" x2="576.6" y2="507.84" stroke="#3a3a3a" stroke-width="0.75"/>
<line x1="571.4" y1="514.9" x2="576.6" y2="514.9" stroke="#2a2a2a" stroke-width="0.75"/>
<circle cx="570.6" cy="507.14" r="1.65" fill="#fdd06a" stroke="#333" stroke-width="0.7"/>
<circle cx="577.4" cy="509.49" r="1.65" fill="#fdd06a" stroke="#333" stroke-width="0.7"/>
<circle cx="574" cy="516.08" r="1.65" fill="#fdd06a" stroke="#333" stroke-width="0.7"/>
<text x="574" y="537.4" font-size="3" text-anchor="middle" fill="#e8e8e8">3</text>
<rect x="552.7" y="442.9" width="30.6" height="9" rx="1" fill="#fdd172" stroke="#45391f" stroke-width="0.75"/>
<text transform="translate(568 449.64) scale(1 1.1)" font-size="5.2" text-anchor="middle" font-weight="bold" fill="#1a1a1a">ABX</text>
<line x1="520.5" y1="445.1" x2="520.5" y2="540" stroke="#4a4a4a" stroke-width="0.95"/>
<line x1="520" y1="539.5" x2="583.8" y2="539.5" stroke="#4a4a4a" stroke-width="0.95"/>
<line x1="517.9" y1="539.6" x2="520.5" y2="539.6" stroke="#4a4a4a" stroke-width="0.8"/>
<text transform="translate(518.1 541.98) scale(1 1.18)" font-size="5.6" text-anchor="end" fill="#111" stroke="#111" stroke-width="0.18">0</text>
<line x1="519" y1="527.84" x2="520.5" y2="527.84" stroke="#4a4a4a" stroke-width="0.7"/>
<line x1="517.9" y1="516.08" x2="520.5" y2="516.08" stroke="#4a4a4a" stroke-width="0.8"/>
<text transform="translate(518.1 518.45) scale(1 1.18)" font-size="5.6" text-anchor="end" fill="#111" stroke="#111" stroke-width="0.18">1</text>
<line x1="519" y1="504.31" x2="520.5" y2="504.31" stroke="#4a4a4a" stroke-width="0.7"/>
<line x1="517.9" y1="492.55" x2="520.5" y2="492.55" stroke="#4a4a4a" stroke-width="0.8"/>
<text transform="translate(518.1 494.93) scale(1 1.18)" font-size="5.6" text-anchor="end" fill="#111" stroke="#111" stroke-width="0.18">2</text>
<line x1="519" y1="480.79" x2="520.5" y2="480.79" stroke="#4a4a4a" stroke-width="0.7"/>
<line x1="517.9" y1="469.02" x2="520.5" y2="469.02" stroke="#4a4a4a" stroke-width="0.8"/>
<text transform="translate(518.1 471.4) scale(1 1.18)" font-size="5.6" text-anchor="end" fill="#111" stroke="#111" stroke-width="0.18">3</text>
<line x1="519" y1="457.26" x2="520.5" y2="457.26" stroke="#4a4a4a" stroke-width="0.7"/>
<line x1="517.9" y1="445.5" x2="520.5" y2="445.5" stroke="#4a4a4a" stroke-width="0.8"/>
<text transform="translate(518.1 447.88) scale(1 1.18)" font-size="5.6" text-anchor="end" fill="#111" stroke="#111" stroke-width="0.18">4</text>
<line x1="530.8" y1="459.38" x2="543.1" y2="459.38" stroke="#a6a6a6" stroke-width="1.4"/>
<text x="536.95" y="457.58" font-size="3.6" text-anchor="middle" fill="#505050">&lt;0.0001</text>
<line x1="544.3" y1="459.38" x2="573.9" y2="459.38" stroke="#a6a6a6" stroke-width="1.4"/>
<text x="559.1" y="457.58" font-size="3.6" text-anchor="middle" fill="#505050">&lt;0.0001</text>
<rect x="629.1" y="444.4" width="31.7" height="95.2" fill="#ececec"/>
<rect x="602.9" y="485.02" width="9.9" height="54.58" fill="#5e5e5e"/>
<rect x="615.3" y="501.02" width="9.9" height="38.58" fill="#3ec364"/>
<rect x="633" y="486.9" width="9.9" height="52.7" fill="#5e5e5e"/>
<rect x="645.7" y="505.02" width="9.9" height="34.58" fill="#3ec364"/>
<line x1="607.85" y1="493.49" x2="607.85" y2="476.55" stroke="#2a2a2a" stroke-width="0.75"/>
<line x1="605.25" y1="476.55" x2="610.45" y2="476.55" stroke="#3a3a3a" stroke-width="0.75"/>
<line x1="605.25" y1="493.49" x2="610.45" y2="493.49" stroke="#2a2a2a" stroke-width="0.75"/>
<circle cx="607.85" cy="461.97" r="1.65" fill="#fff" stroke="#333" stroke-width="0.7"/>
<circle cx="604.45" cy="486.43" r="1.65" fill="#fff" stroke="#333" stroke-width="0.7"/>
<circle cx="611.25" cy="488.79" r="1.65" fill="#fff" stroke="#333" stroke-width="0.7"/>
<circle cx="607.85" cy="500.55" r="1.65" fill="#fff" stroke="#333" stroke-width="0.7"/>
<text x="607.85" y="537.4" font-size="3" text-anchor="middle" fill="#e8e8e8">4</text>
<line x1="620.25" y1="504.78" x2="620.25" y2="497.25" stroke="#2a2a2a" stroke-width="0.75"/>
<line x1="617.65" y1="497.25" x2="622.85" y2="497.25" stroke="#3a3a3a" stroke-width="0.75"/>
<line x1="617.65" y1="504.78" x2="622.85" y2="504.78" stroke="#2a2a2a" stroke-width="0.75"/>
<circle cx="616.85" cy="497.73" r="1.65" fill="#fff" stroke="#333" stroke-width="0.7"/>
<circle cx="623.65" cy="497.73" r="1.65" fill="#fff" stroke="#333" stroke-width="0.7"/>
<circle cx="620.25" cy="508.55" r="1.65" fill="#fff" stroke="#333" stroke-width="0.7"/>
<text x="620.25" y="537.4" font-size="3" text-anchor="middle" fill="#e8e8e8">3</text>
<line x1="637.95" y1="493.49" x2="637.95" y2="479.85" stroke="#2a2a2a" stroke-width="0.75"/>
<line x1="635.35" y1="479.85" x2="640.55" y2="479.85" stroke="#3a3a3a" stroke-width="0.75"/>
<line x1="635.35" y1="493.49" x2="640.55" y2="493.49" stroke="#2a2a2a" stroke-width="0.75"/>
<circle cx="637.95" cy="468.08" r="1.65" fill="#fdd06a" stroke="#333" stroke-width="0.7"/>
<circle cx="634.55" cy="490.2" r="1.65" fill="#fdd06a" stroke="#333" stroke-width="0.7"/>
<circle cx="641.35" cy="493.02" r="1.65" fill="#fdd06a" stroke="#333" stroke-width="0.7"/>
<circle cx="634.55" cy="495.84" r="1.65" fill="#fdd06a" stroke="#333" stroke-width="0.7"/>
<text x="637.95" y="537.4" font-size="3" text-anchor="middle" fill="#e8e8e8">4</text>
<line x1="650.65" y1="509.02" x2="650.65" y2="500.55" stroke="#2a2a2a" stroke-width="0.75"/>
<line x1="648.05" y1="500.55" x2="653.25" y2="500.55" stroke="#3a3a3a" stroke-width="0.75"/>
<line x1="648.05" y1="509.02" x2="653.25" y2="509.02" stroke="#2a2a2a" stroke-width="0.75"/>
<circle cx="647.25" cy="500.55" r="1.65" fill="#fdd06a" stroke="#333" stroke-width="0.7"/>
<circle cx="654.05" cy="501.49" r="1.65" fill="#fdd06a" stroke="#333" stroke-width="0.7"/>
<circle cx="650.65" cy="511.37" r="1.65" fill="#fdd06a" stroke="#333" stroke-width="0.7"/>
<text x="650.65" y="537.4" font-size="3" text-anchor="middle" fill="#e8e8e8">3</text>
<rect x="629.4" y="442.7" width="31.1" height="9.2" rx="1" fill="#fdd172" stroke="#45391f" stroke-width="0.75"/>
<text transform="translate(644.95 449.54) scale(1 1.1)" font-size="5.2" text-anchor="middle" font-weight="bold" fill="#1a1a1a">ABX</text>
<line x1="597.5" y1="445.1" x2="597.5" y2="540" stroke="#4a4a4a" stroke-width="0.95"/>
<line x1="597" y1="539.5" x2="660.8" y2="539.5" stroke="#4a4a4a" stroke-width="0.95"/>
<line x1="594.9" y1="539.6" x2="597.5" y2="539.6" stroke="#4a4a4a" stroke-width="0.8"/>
<text transform="translate(595 541.98) scale(1 1.18)" font-size="5.6" text-anchor="end" fill="#111" stroke="#111" stroke-width="0.18">0</text>
<line x1="596" y1="527.84" x2="597.5" y2="527.84" stroke="#4a4a4a" stroke-width="0.7"/>
<line x1="594.9" y1="516.08" x2="597.5" y2="516.08" stroke="#4a4a4a" stroke-width="0.8"/>
<text transform="translate(595 518.45) scale(1 1.18)" font-size="5.6" text-anchor="end" fill="#111" stroke="#111" stroke-width="0.18">5</text>
<line x1="596" y1="504.31" x2="597.5" y2="504.31" stroke="#4a4a4a" stroke-width="0.7"/>
<line x1="594.9" y1="492.55" x2="597.5" y2="492.55" stroke="#4a4a4a" stroke-width="0.8"/>
<text transform="translate(595 494.93) scale(1 1.18)" font-size="5.6" text-anchor="end" fill="#111" stroke="#111" stroke-width="0.18">10</text>
<line x1="596" y1="480.79" x2="597.5" y2="480.79" stroke="#4a4a4a" stroke-width="0.7"/>
<line x1="594.9" y1="469.02" x2="597.5" y2="469.02" stroke="#4a4a4a" stroke-width="0.8"/>
<text transform="translate(595 471.4) scale(1 1.18)" font-size="5.6" text-anchor="end" fill="#111" stroke="#111" stroke-width="0.18">15</text>
<line x1="596" y1="457.26" x2="597.5" y2="457.26" stroke="#4a4a4a" stroke-width="0.7"/>
<line x1="594.9" y1="445.5" x2="597.5" y2="445.5" stroke="#4a4a4a" stroke-width="0.8"/>
<text transform="translate(595 447.88) scale(1 1.18)" font-size="5.6" text-anchor="end" fill="#111" stroke="#111" stroke-width="0.18">20</text>
<rect x="553.1" y="588.6" width="31.1" height="95.7" fill="#ececec"/>
<rect x="526.5" y="668.76" width="9.8" height="15.54" fill="#5e5e5e"/>
<rect x="539.2" y="645.44" width="9.8" height="38.86" fill="#3ec364"/>
<rect x="557" y="666.87" width="9.8" height="17.43" fill="#5e5e5e"/>
<rect x="569.8" y="671.58" width="9.8" height="12.72" fill="#3ec364"/>
<line x1="531.4" y1="671.35" x2="531.4" y2="665.46" stroke="#2a2a2a" stroke-width="0.75"/>
<line x1="528.8" y1="665.46" x2="534" y2="665.46" stroke="#3a3a3a" stroke-width="0.75"/>
<line x1="528.8" y1="671.35" x2="534" y2="671.35" stroke="#2a2a2a" stroke-width="0.75"/>
<circle cx="528" cy="663.11" r="1.65" fill="#fff" stroke="#333" stroke-width="0.7"/>
<circle cx="534.8" cy="663.11" r="1.65" fill="#fff" stroke="#333" stroke-width="0.7"/>
<circle cx="531.4" cy="670.64" r="1.65" fill="#fff" stroke="#333" stroke-width="0.7"/>
<circle cx="531.4" cy="676.76" r="1.65" fill="#fff" stroke="#333" stroke-width="0.7"/>
<text x="531.4" y="682.1" font-size="3" text-anchor="middle" fill="#e8e8e8">4</text>
<line x1="544.1" y1="650.86" x2="544.1" y2="638.38" stroke="#2a2a2a" stroke-width="0.75"/>
<line x1="541.5" y1="638.38" x2="546.7" y2="638.38" stroke="#3a3a3a" stroke-width="0.75"/>
<line x1="541.5" y1="650.86" x2="546.7" y2="650.86" stroke="#2a2a2a" stroke-width="0.75"/>
<circle cx="544.1" cy="634.85" r="1.65" fill="#fff" stroke="#333" stroke-width="0.7"/>
<circle cx="544.1" cy="640.73" r="1.65" fill="#fff" stroke="#333" stroke-width="0.7"/>
<circle cx="544.1" cy="650.15" r="1.65" fill="#fff" stroke="#333" stroke-width="0.7"/>
<circle cx="544.1" cy="653.68" r="1.65" fill="#fff" stroke="#333" stroke-width="0.7"/>
<text x="544.1" y="682.1" font-size="3" text-anchor="middle" fill="#e8e8e8">4</text>
<line x1="561.9" y1="670.17" x2="561.9" y2="663.11" stroke="#2a2a2a" stroke-width="0.75"/>
<line x1="559.3" y1="663.11" x2="564.5" y2="663.11" stroke="#3a3a3a" stroke-width="0.75"/>
<line x1="559.3" y1="670.17" x2="564.5" y2="670.17" stroke="#2a2a2a" stroke-width="0.75"/>
<circle cx="561.9" cy="658.39" r="1.65" fill="#fdd06a" stroke="#333" stroke-width="0.7"/>
<circle cx="561.9" cy="663.11" r="1.65" fill="#fdd06a" stroke="#333" stroke-width="0.7"/>
<circle cx="565.3" cy="671.35" r="1.65" fill="#fdd06a" stroke="#333" stroke-width="0.7"/>
<circle cx="558.5" cy="674.17" r="1.65" fill="#fdd06a" stroke="#333" stroke-width="0.7"/>
<text x="561.9" y="682.1" font-size="3" text-anchor="middle" fill="#e8e8e8">4</text>
<line x1="574.7" y1="679.59" x2="574.7" y2="663.11" stroke="#2a2a2a" stroke-width="0.75"/>
<line x1="572.1" y1="663.11" x2="577.3" y2="663.11" stroke="#3a3a3a" stroke-width="0.75"/>
<line x1="572.1" y1="679.59" x2="577.3" y2="679.59" stroke="#2a2a2a" stroke-width="0.75"/>
<circle cx="574.7" cy="654.86" r="1.65" fill="#fdd06a" stroke="#333" stroke-width="0.7"/>
<circle cx="578.1" cy="678.41" r="1.65" fill="#fdd06a" stroke="#333" stroke-width="0.7"/>
<circle cx="571.3" cy="681.47" r="1.65" fill="#fdd06a" stroke="#333" stroke-width="0.7"/>
<text x="574.7" y="682.1" font-size="3" text-anchor="middle" fill="#e8e8e8">3</text>
<rect x="553.4" y="586.9" width="30.3" height="9.2" rx="1" fill="#fdd172" stroke="#45391f" stroke-width="0.75"/>
<text transform="translate(568.55 593.74) scale(1 1.1)" font-size="5.2" text-anchor="middle" font-weight="bold" fill="#1a1a1a">ABX</text>
<line x1="521.5" y1="589.7" x2="521.5" y2="685" stroke="#4a4a4a" stroke-width="0.95"/>
<line x1="521" y1="684.5" x2="584.2" y2="684.5" stroke="#4a4a4a" stroke-width="0.95"/>
<line x1="518.9" y1="684.3" x2="521.5" y2="684.3" stroke="#4a4a4a" stroke-width="0.8"/>
<text transform="translate(518.6 686.68) scale(1 1.18)" font-size="5.6" text-anchor="end" fill="#111" stroke="#111" stroke-width="0.18">0</text>
<line x1="520" y1="672.52" x2="521.5" y2="672.52" stroke="#4a4a4a" stroke-width="0.7"/>
<line x1="518.9" y1="660.75" x2="521.5" y2="660.75" stroke="#4a4a4a" stroke-width="0.8"/>
<text transform="translate(518.6 663.13) scale(1 1.18)" font-size="5.6" text-anchor="end" fill="#111" stroke="#111" stroke-width="0.18">1</text>
<line x1="520" y1="648.98" x2="521.5" y2="648.98" stroke="#4a4a4a" stroke-width="0.7"/>
<line x1="518.9" y1="637.2" x2="521.5" y2="637.2" stroke="#4a4a4a" stroke-width="0.8"/>
<text transform="translate(518.6 639.58) scale(1 1.18)" font-size="5.6" text-anchor="end" fill="#111" stroke="#111" stroke-width="0.18">2</text>
<line x1="520" y1="625.42" x2="521.5" y2="625.42" stroke="#4a4a4a" stroke-width="0.7"/>
<line x1="518.9" y1="613.65" x2="521.5" y2="613.65" stroke="#4a4a4a" stroke-width="0.8"/>
<text transform="translate(518.6 616.03) scale(1 1.18)" font-size="5.6" text-anchor="end" fill="#111" stroke="#111" stroke-width="0.18">3</text>
<line x1="520" y1="601.88" x2="521.5" y2="601.88" stroke="#4a4a4a" stroke-width="0.7"/>
<line x1="518.9" y1="590.1" x2="521.5" y2="590.1" stroke="#4a4a4a" stroke-width="0.8"/>
<text transform="translate(518.6 592.48) scale(1 1.18)" font-size="5.6" text-anchor="end" fill="#111" stroke="#111" stroke-width="0.18">4</text>
<line x1="531.3" y1="629.9" x2="543.4" y2="629.9" stroke="#a6a6a6" stroke-width="1.4"/>
<text x="537.35" y="628.1" font-size="3.6" text-anchor="middle" fill="#505050">0.0353</text>
<line x1="545.1" y1="629.9" x2="574.7" y2="629.9" stroke="#a6a6a6" stroke-width="1.4"/>
<text x="559.9" y="628.1" font-size="3.6" text-anchor="middle" fill="#505050">0.0001</text>
<rect x="629.4" y="588.6" width="32.3" height="95.7" fill="#ececec"/>
<rect x="603.4" y="623.54" width="9.9" height="60.76" fill="#5e5e5e"/>
<rect x="616.1" y="641.67" width="9.9" height="42.63" fill="#3ec364"/>
<rect x="633.8" y="637.2" width="9.9" height="47.1" fill="#5e5e5e"/>
<rect x="646.4" y="623.54" width="9.9" height="60.76" fill="#3ec364"/>
<line x1="608.35" y1="628.72" x2="608.35" y2="618.36" stroke="#2a2a2a" stroke-width="0.75"/>
<line x1="605.75" y1="618.36" x2="610.95" y2="618.36" stroke="#3a3a3a" stroke-width="0.75"/>
<line x1="605.75" y1="628.72" x2="610.95" y2="628.72" stroke="#2a2a2a" stroke-width="0.75"/>
<circle cx="611.75" cy="612.71" r="1.65" fill="#fff" stroke="#333" stroke-width="0.7"/>
<circle cx="604.95" cy="616.95" r="1.65" fill="#fff" stroke="#333" stroke-width="0.7"/>
<circle cx="608.35" cy="629.66" r="1.65" fill="#fff" stroke="#333" stroke-width="0.7"/>
<circle cx="608.35" cy="634.37" r="1.65" fill="#fff" stroke="#333" stroke-width="0.7"/>
<text x="608.35" y="682.1" font-size="3" text-anchor="middle" fill="#e8e8e8">4</text>
<line x1="621.05" y1="650.39" x2="621.05" y2="633.43" stroke="#2a2a2a" stroke-width="0.75"/>
<line x1="618.45" y1="633.43" x2="623.65" y2="633.43" stroke="#3a3a3a" stroke-width="0.75"/>
<line x1="618.45" y1="650.39" x2="623.65" y2="650.39" stroke="#2a2a2a" stroke-width="0.75"/>
<circle cx="617.65" cy="628.72" r="1.65" fill="#fff" stroke="#333" stroke-width="0.7"/>
<circle cx="624.45" cy="628.72" r="1.65" fill="#fff" stroke="#333" stroke-width="0.7"/>
<circle cx="621.05" cy="642.85" r="1.65" fill="#fff" stroke="#333" stroke-width="0.7"/>
<circle cx="621.05" cy="665.93" r="1.65" fill="#fff" stroke="#333" stroke-width="0.7"/>
<text x="621.05" y="682.1" font-size="3" text-anchor="middle" fill="#e8e8e8">4</text>
<line x1="638.75" y1="647.09" x2="638.75" y2="626.37" stroke="#2a2a2a" stroke-width="0.75"/>
<line x1="636.15" y1="626.37" x2="641.35" y2="626.37" stroke="#3a3a3a" stroke-width="0.75"/>
<line x1="636.15" y1="647.09" x2="641.35" y2="647.09" stroke="#2a2a2a" stroke-width="0.75"/>
<circle cx="638.75" cy="611.3" r="1.65" fill="#fdd06a" stroke="#333" stroke-width="0.7"/>
<circle cx="638.75" cy="632.02" r="1.65" fill="#fdd06a" stroke="#333" stroke-width="0.7"/>
<circle cx="638.75" cy="646.62" r="1.65" fill="#fdd06a" stroke="#333" stroke-width="0.7"/>
<circle cx="638.75" cy="660.28" r="1.65" fill="#fdd06a" stroke="#333" stroke-width="0.7"/>
<text x="638.75" y="682.1" font-size="3" text-anchor="middle" fill="#e8e8e8">4</text>
<line x1="651.35" y1="632.49" x2="651.35" y2="614.12" stroke="#2a2a2a" stroke-width="0.75"/>
<line x1="648.75" y1="614.12" x2="653.95" y2="614.12" stroke="#3a3a3a" stroke-width="0.75"/>
<line x1="648.75" y1="632.49" x2="653.95" y2="632.49" stroke="#2a2a2a" stroke-width="0.75"/>
<circle cx="651.35" cy="605.17" r="1.65" fill="#fdd06a" stroke="#333" stroke-width="0.7"/>
<circle cx="651.35" cy="629.19" r="1.65" fill="#fdd06a" stroke="#333" stroke-width="0.7"/>
<circle cx="651.35" cy="636.73" r="1.65" fill="#fdd06a" stroke="#333" stroke-width="0.7"/>
<text x="651.35" y="682.1" font-size="3" text-anchor="middle" fill="#e8e8e8">3</text>
<rect x="629.7" y="586.9" width="31.5" height="9.2" rx="1" fill="#fdd172" stroke="#45391f" stroke-width="0.75"/>
<text transform="translate(645.45 593.74) scale(1 1.1)" font-size="5.2" text-anchor="middle" font-weight="bold" fill="#1a1a1a">ABX</text>
<line x1="597.5" y1="589.7" x2="597.5" y2="685" stroke="#4a4a4a" stroke-width="0.95"/>
<line x1="597" y1="684.5" x2="661.7" y2="684.5" stroke="#4a4a4a" stroke-width="0.95"/>
<line x1="594.9" y1="684.3" x2="597.5" y2="684.3" stroke="#4a4a4a" stroke-width="0.8"/>
<text transform="translate(595.3 686.68) scale(1 1.18)" font-size="5.6" text-anchor="end" fill="#111" stroke="#111" stroke-width="0.18">0</text>
<line x1="596" y1="672.52" x2="597.5" y2="672.52" stroke="#4a4a4a" stroke-width="0.7"/>
<line x1="594.9" y1="660.75" x2="597.5" y2="660.75" stroke="#4a4a4a" stroke-width="0.8"/>
<text transform="translate(595.3 663.13) scale(1 1.18)" font-size="5.6" text-anchor="end" fill="#111" stroke="#111" stroke-width="0.18">5</text>
<line x1="596" y1="648.98" x2="597.5" y2="648.98" stroke="#4a4a4a" stroke-width="0.7"/>
<line x1="594.9" y1="637.2" x2="597.5" y2="637.2" stroke="#4a4a4a" stroke-width="0.8"/>
<text transform="translate(595.3 639.58) scale(1 1.18)" font-size="5.6" text-anchor="end" fill="#111" stroke="#111" stroke-width="0.18">10</text>
<line x1="596" y1="625.42" x2="597.5" y2="625.42" stroke="#4a4a4a" stroke-width="0.7"/>
<line x1="594.9" y1="613.65" x2="597.5" y2="613.65" stroke="#4a4a4a" stroke-width="0.8"/>
<text transform="translate(595.3 616.03) scale(1 1.18)" font-size="5.6" text-anchor="end" fill="#111" stroke="#111" stroke-width="0.18">15</text>
<line x1="596" y1="601.88" x2="597.5" y2="601.88" stroke="#4a4a4a" stroke-width="0.7"/>
<line x1="594.9" y1="590.1" x2="597.5" y2="590.1" stroke="#4a4a4a" stroke-width="0.8"/>
<text transform="translate(595.3 592.48) scale(1 1.18)" font-size="5.6" text-anchor="end" fill="#111" stroke="#111" stroke-width="0.18">20</text>
<rect x="553" y="726.5" width="32" height="96" fill="#ececec"/>
<rect x="526.3" y="802.89" width="9.8" height="19.61" fill="#5e5e5e"/>
<rect x="539.2" y="769.11" width="9.8" height="53.39" fill="#3ec364"/>
<rect x="557" y="799.11" width="9.8" height="23.39" fill="#5e5e5e"/>
<rect x="569.8" y="801.24" width="9.8" height="21.26" fill="#3ec364"/>
<circle cx="531.2" cy="800.06" r="1.65" fill="#fff" stroke="#333" stroke-width="0.7"/>
<circle cx="534.6" cy="803.6" r="1.65" fill="#fff" stroke="#333" stroke-width="0.7"/>
<circle cx="527.8" cy="804.07" r="1.65" fill="#fff" stroke="#333" stroke-width="0.7"/>
<circle cx="531.2" cy="805.49" r="1.65" fill="#fff" stroke="#333" stroke-width="0.7"/>
<text x="531.2" y="820.3" font-size="3" text-anchor="middle" fill="#e8e8e8">4</text>
<line x1="544.1" y1="773.36" x2="544.1" y2="764.62" stroke="#2a2a2a" stroke-width="0.75"/>
<line x1="541.5" y1="764.62" x2="546.7" y2="764.62" stroke="#3a3a3a" stroke-width="0.75"/>
<line x1="541.5" y1="773.36" x2="546.7" y2="773.36" stroke="#2a2a2a" stroke-width="0.75"/>
<circle cx="544.1" cy="759.18" r="1.65" fill="#fff" stroke="#333" stroke-width="0.7"/>
<circle cx="544.1" cy="765.8" r="1.65" fill="#fff" stroke="#333" stroke-width="0.7"/>
<circle cx="540.7" cy="774.07" r="1.65" fill="#fff" stroke="#333" stroke-width="0.7"/>
<circle cx="547.5" cy="775.25" r="1.65" fill="#fff" stroke="#333" stroke-width="0.7"/>
<text x="544.1" y="820.3" font-size="3" text-anchor="middle" fill="#e8e8e8">4</text>
<line x1="561.9" y1="803.6" x2="561.9" y2="795.33" stroke="#2a2a2a" stroke-width="0.75"/>
<line x1="559.3" y1="795.33" x2="564.5" y2="795.33" stroke="#3a3a3a" stroke-width="0.75"/>
<line x1="559.3" y1="803.6" x2="564.5" y2="803.6" stroke="#2a2a2a" stroke-width="0.75"/>
<circle cx="558.5" cy="795.33" r="1.65" fill="#fdd06a" stroke="#333" stroke-width="0.7"/>
<circle cx="565.3" cy="795.33" r="1.65" fill="#fdd06a" stroke="#333" stroke-width="0.7"/>
<circle cx="561.9" cy="807.14" r="1.65" fill="#fdd06a" stroke="#333" stroke-width="0.7"/>
<text x="561.9" y="820.3" font-size="3" text-anchor="middle" fill="#e8e8e8">3</text>
<line x1="574.7" y1="803.6" x2="574.7" y2="796.51" stroke="#2a2a2a" stroke-width="0.75"/>
<line x1="572.1" y1="796.51" x2="577.3" y2="796.51" stroke="#3a3a3a" stroke-width="0.75"/>
<line x1="572.1" y1="803.6" x2="577.3" y2="803.6" stroke="#2a2a2a" stroke-width="0.75"/>
<circle cx="574.7" cy="795.8" r="1.65" fill="#fdd06a" stroke="#333" stroke-width="0.7"/>
<circle cx="578.1" cy="802.89" r="1.65" fill="#fdd06a" stroke="#333" stroke-width="0.7"/>
<circle cx="571.3" cy="804.07" r="1.65" fill="#fdd06a" stroke="#333" stroke-width="0.7"/>
<text x="574.7" y="820.3" font-size="3" text-anchor="middle" fill="#e8e8e8">3</text>
<rect x="553.3" y="724.8" width="31.2" height="9.4" rx="1" fill="#fdd172" stroke="#45391f" stroke-width="0.75"/>
<text transform="translate(568.9 731.74) scale(1 1.1)" font-size="5.2" text-anchor="middle" font-weight="bold" fill="#1a1a1a">ABX</text>
<line x1="520.5" y1="727.6" x2="520.5" y2="823" stroke="#4a4a4a" stroke-width="0.95"/>
<line x1="520" y1="822.5" x2="585" y2="822.5" stroke="#4a4a4a" stroke-width="0.95"/>
<line x1="517.9" y1="822.5" x2="520.5" y2="822.5" stroke="#4a4a4a" stroke-width="0.8"/>
<text transform="translate(518.3 824.88) scale(1 1.18)" font-size="5.6" text-anchor="end" fill="#111" stroke="#111" stroke-width="0.18">0</text>
<line x1="519" y1="810.69" x2="520.5" y2="810.69" stroke="#4a4a4a" stroke-width="0.7"/>
<line x1="517.9" y1="798.88" x2="520.5" y2="798.88" stroke="#4a4a4a" stroke-width="0.8"/>
<text transform="translate(518.3 801.25) scale(1 1.18)" font-size="5.6" text-anchor="end" fill="#111" stroke="#111" stroke-width="0.18">1</text>
<line x1="519" y1="787.06" x2="520.5" y2="787.06" stroke="#4a4a4a" stroke-width="0.7"/>
<line x1="517.9" y1="775.25" x2="520.5" y2="775.25" stroke="#4a4a4a" stroke-width="0.8"/>
<text transform="translate(518.3 777.63) scale(1 1.18)" font-size="5.6" text-anchor="end" fill="#111" stroke="#111" stroke-width="0.18">2</text>
<line x1="519" y1="763.44" x2="520.5" y2="763.44" stroke="#4a4a4a" stroke-width="0.7"/>
<line x1="517.9" y1="751.62" x2="520.5" y2="751.62" stroke="#4a4a4a" stroke-width="0.8"/>
<text transform="translate(518.3 754) scale(1 1.18)" font-size="5.6" text-anchor="end" fill="#111" stroke="#111" stroke-width="0.18">3</text>
<line x1="519" y1="739.81" x2="520.5" y2="739.81" stroke="#4a4a4a" stroke-width="0.7"/>
<line x1="517.9" y1="728" x2="520.5" y2="728" stroke="#4a4a4a" stroke-width="0.8"/>
<text transform="translate(518.3 730.38) scale(1 1.18)" font-size="5.6" text-anchor="end" fill="#111" stroke="#111" stroke-width="0.18">4</text>
<line x1="530.8" y1="753.99" x2="543.8" y2="753.99" stroke="#a6a6a6" stroke-width="1.4"/>
<text x="537.3" y="752.19" font-size="3.6" text-anchor="middle" fill="#505050">0.0003</text>
<line x1="545" y1="753.99" x2="574.7" y2="753.99" stroke="#a6a6a6" stroke-width="1.4"/>
<text x="559.85" y="752.19" font-size="3.6" text-anchor="middle" fill="#505050">0.0094</text>
<rect x="629.2" y="726.5" width="32.5" height="95.7" fill="#ececec"/>
<rect x="603" y="761.21" width="9.9" height="60.99" fill="#5e5e5e"/>
<rect x="615.6" y="776.98" width="9.9" height="45.22" fill="#3ec364"/>
<rect x="633.4" y="768.03" width="9.9" height="54.17" fill="#5e5e5e"/>
<rect x="646.2" y="771.33" width="9.9" height="50.87" fill="#3ec364"/>
<line x1="607.95" y1="768.03" x2="607.95" y2="754.38" stroke="#2a2a2a" stroke-width="0.75"/>
<line x1="605.35" y1="754.38" x2="610.55" y2="754.38" stroke="#3a3a3a" stroke-width="0.75"/>
<line x1="605.35" y1="768.03" x2="610.55" y2="768.03" stroke="#2a2a2a" stroke-width="0.75"/>
<circle cx="607.95" cy="750.61" r="1.65" fill="#fff" stroke="#333" stroke-width="0.7"/>
<circle cx="607.95" cy="755.32" r="1.65" fill="#fff" stroke="#333" stroke-width="0.7"/>
<circle cx="607.95" cy="776.04" r="1.65" fill="#fff" stroke="#333" stroke-width="0.7"/>
<text x="607.95" y="820" font-size="3" text-anchor="middle" fill="#e8e8e8">3</text>
<line x1="620.55" y1="784.52" x2="620.55" y2="768.51" stroke="#2a2a2a" stroke-width="0.75"/>
<line x1="617.95" y1="768.51" x2="623.15" y2="768.51" stroke="#3a3a3a" stroke-width="0.75"/>
<line x1="617.95" y1="784.52" x2="623.15" y2="784.52" stroke="#2a2a2a" stroke-width="0.75"/>
<circle cx="617.15" cy="764.74" r="1.65" fill="#fff" stroke="#333" stroke-width="0.7"/>
<circle cx="623.95" cy="764.27" r="1.65" fill="#fff" stroke="#333" stroke-width="0.7"/>
<circle cx="620.55" cy="776.98" r="1.65" fill="#fff" stroke="#333" stroke-width="0.7"/>
<circle cx="620.55" cy="799.12" r="1.65" fill="#fff" stroke="#333" stroke-width="0.7"/>
<text x="620.55" y="820" font-size="3" text-anchor="middle" fill="#e8e8e8">4</text>
<line x1="638.35" y1="776.04" x2="638.35" y2="760.5" stroke="#2a2a2a" stroke-width="0.75"/>
<line x1="635.75" y1="760.5" x2="640.95" y2="760.5" stroke="#3a3a3a" stroke-width="0.75"/>
<line x1="635.75" y1="776.04" x2="640.95" y2="776.04" stroke="#2a2a2a" stroke-width="0.75"/>
<circle cx="638.35" cy="752.96" r="1.65" fill="#fdd06a" stroke="#333" stroke-width="0.7"/>
<circle cx="638.35" cy="773.69" r="1.65" fill="#fdd06a" stroke="#333" stroke-width="0.7"/>
<circle cx="638.35" cy="778.4" r="1.65" fill="#fdd06a" stroke="#333" stroke-width="0.7"/>
<text x="638.35" y="820" font-size="3" text-anchor="middle" fill="#e8e8e8">3</text>
<line x1="651.15" y1="780.28" x2="651.15" y2="761.44" stroke="#2a2a2a" stroke-width="0.75"/>
<line x1="648.55" y1="761.44" x2="653.75" y2="761.44" stroke="#3a3a3a" stroke-width="0.75"/>
<line x1="648.55" y1="780.28" x2="653.75" y2="780.28" stroke="#2a2a2a" stroke-width="0.75"/>
<circle cx="651.15" cy="754.38" r="1.65" fill="#fdd06a" stroke="#333" stroke-width="0.7"/>
<circle cx="651.15" cy="771.33" r="1.65" fill="#fdd06a" stroke="#333" stroke-width="0.7"/>
<circle cx="651.15" cy="787.35" r="1.65" fill="#fdd06a" stroke="#333" stroke-width="0.7"/>
<text x="651.15" y="820" font-size="3" text-anchor="middle" fill="#e8e8e8">3</text>
<rect x="629.5" y="724.8" width="31.7" height="9.4" rx="1" fill="#fdd172" stroke="#45391f" stroke-width="0.75"/>
<text transform="translate(645.35 731.74) scale(1 1.1)" font-size="5.2" text-anchor="middle" font-weight="bold" fill="#1a1a1a">ABX</text>
<line x1="597.5" y1="727.6" x2="597.5" y2="823" stroke="#4a4a4a" stroke-width="0.95"/>
<line x1="597" y1="822.5" x2="661.7" y2="822.5" stroke="#4a4a4a" stroke-width="0.95"/>
<line x1="594.9" y1="822.2" x2="597.5" y2="822.2" stroke="#4a4a4a" stroke-width="0.8"/>
<text transform="translate(595 824.58) scale(1 1.18)" font-size="5.6" text-anchor="end" fill="#111" stroke="#111" stroke-width="0.18">0</text>
<line x1="596" y1="810.43" x2="597.5" y2="810.43" stroke="#4a4a4a" stroke-width="0.7"/>
<line x1="594.9" y1="798.65" x2="597.5" y2="798.65" stroke="#4a4a4a" stroke-width="0.8"/>
<text transform="translate(595 801.03) scale(1 1.18)" font-size="5.6" text-anchor="end" fill="#111" stroke="#111" stroke-width="0.18">5</text>
<line x1="596" y1="786.88" x2="597.5" y2="786.88" stroke="#4a4a4a" stroke-width="0.7"/>
<line x1="594.9" y1="775.1" x2="597.5" y2="775.1" stroke="#4a4a4a" stroke-width="0.8"/>
<text transform="translate(595 777.48) scale(1 1.18)" font-size="5.6" text-anchor="end" fill="#111" stroke="#111" stroke-width="0.18">10</text>
<line x1="596" y1="763.33" x2="597.5" y2="763.33" stroke="#4a4a4a" stroke-width="0.7"/>
<line x1="594.9" y1="751.55" x2="597.5" y2="751.55" stroke="#4a4a4a" stroke-width="0.8"/>
<text transform="translate(595 753.93) scale(1 1.18)" font-size="5.6" text-anchor="end" fill="#111" stroke="#111" stroke-width="0.18">15</text>
<line x1="596" y1="739.77" x2="597.5" y2="739.77" stroke="#4a4a4a" stroke-width="0.7"/>
<line x1="594.9" y1="728" x2="597.5" y2="728" stroke="#4a4a4a" stroke-width="0.8"/>
<text transform="translate(595 730.38) scale(1 1.18)" font-size="5.6" text-anchor="end" fill="#111" stroke="#111" stroke-width="0.18">20</text>
<text x="0" y="26" font-size="16" text-anchor="start" fill="#6b4a10">A</text>
<text x="369.6" y="26.2" font-size="16" text-anchor="start" fill="#6b4a10">B</text>
<text x="22.9" y="249" font-size="16" text-anchor="start" fill="#6b4a10">C</text>
<text x="370" y="250" font-size="16" text-anchor="start" fill="#6b4a10">D</text>
<text x="34.9" y="432.5" font-size="16" text-anchor="start" fill="#6b4a10">E</text>
<text x="35.8" y="574.2" font-size="16" text-anchor="start" fill="#6b4a10">F</text>
<text x="35.6" y="713.5" font-size="16" text-anchor="start" fill="#6b4a10">G</text>
<text x="365" y="432.5" font-size="16" text-anchor="start" fill="#6b4a10">H</text>
<text x="366.3" y="573.5" font-size="16" text-anchor="start" fill="#6b4a10">I</text>
<text x="365.6" y="712.8" font-size="16" text-anchor="start" fill="#6b4a10">J</text>
<line x1="56" y1="228.9" x2="340" y2="228.9" stroke="#5a5a5a" stroke-width="1.6"/>
<line x1="396.4" y1="228.8" x2="680" y2="228.8" stroke="#5a5a5a" stroke-width="1.6"/>
<line x1="23.5" y1="265.3" x2="23.5" y2="368.7" stroke="#333333" stroke-width="1.3"/>
<line x1="24" y1="453.5" x2="24" y2="799.7" stroke="#5c5c5c" stroke-width="1.2"/>
<text transform="translate(15.0 314.3) rotate(-90)" font-size="13" font-weight="bold" fill="#3a2818" text-anchor="middle">p<tspan dy="-3">T</tspan><tspan dy="3">regs</tspan></text>
<text transform="translate(11.8 630.2) rotate(-90)" font-size="12.8" font-weight="bold" fill="#3a2818" text-anchor="middle">T<tspan dy="2.4">h</tspan><tspan dy="-2.4">17</tspan></text>
<text x="542.3" y="8.2" font-size="10.8" text-anchor="middle" font-weight="bold" fill="#111">Cecum</text>
<text transform="translate(444.8 18.6) scale(1 1.1)" font-size="8.9" text-anchor="middle" fill="#1a1a1a">2 Weeks</text>
<text transform="translate(542.3 18.6) scale(1 1.1)" font-size="8.9" text-anchor="middle" fill="#1a1a1a">4 Weeks</text>
<text transform="translate(642.5 18.6) scale(1 1.1)" font-size="8.9" text-anchor="middle" fill="#1a1a1a">6 Weeks</text>
<text transform="translate(96.3 252.7) scale(1 1.14)" font-size="7.5" text-anchor="middle" fill="#1a1a1a">2 Weeks</text>
<text transform="translate(203.3 250.6) scale(1 1.14)" font-size="7.5" text-anchor="middle" fill="#1a1a1a">4 Weeks</text>
<text transform="translate(304.4 251.4) scale(1 1.14)" font-size="7.5" text-anchor="middle" fill="#1a1a1a">6 Weeks</text>
<text transform="translate(433 251.1) scale(1 1.14)" font-size="7.5" text-anchor="middle" fill="#1a1a1a">2 Weeks</text>
<text transform="translate(539.5 249.3) scale(1 1.14)" font-size="7.5" text-anchor="middle" fill="#1a1a1a">4 Weeks</text>
<text transform="translate(641.1 249) scale(1 1.14)" font-size="7.5" text-anchor="middle" fill="#1a1a1a">6 Weeks</text>
<text transform="translate(100 420.5) scale(1 1.14)" font-size="7.5" text-anchor="middle" fill="#1a1a1a">2 Weeks</text>
<text transform="translate(101.5 564.6) scale(1 1.14)" font-size="7.5" text-anchor="middle" fill="#1a1a1a">4 Weeks</text>
<text transform="translate(100.1 704.9) scale(1 1.14)" font-size="7.5" text-anchor="middle" fill="#1a1a1a">6 Weeks</text>
<text transform="translate(433.1 419.6) scale(1 1.14)" font-size="7.5" text-anchor="middle" fill="#1a1a1a">2 Weeks</text>
<text transform="translate(434.5 563.8) scale(1 1.14)" font-size="7.5" text-anchor="middle" fill="#1a1a1a">4 Weeks</text>
<text transform="translate(433.1 704.2) scale(1 1.14)" font-size="7.5" text-anchor="middle" fill="#1a1a1a">6 Weeks</text>
<text transform="translate(379.2 87.2) rotate(-90) scale(1 1.12)" font-size="9" font-weight="bold" fill="#111" text-anchor="middle">Cecum size FC</text>
<text transform="translate(389.8 86.8) rotate(-90) scale(1 1.1)" font-size="9.2" font-weight="bold" fill="#111" text-anchor="middle">(rel. to water group)</text>
<text transform="translate(47.16 317.5) rotate(-90) scale(1 1.12)" font-size="8.9" font-weight="bold" fill="#111" text-anchor="middle">% of TCR<tspan font-weight="normal">&#946;</tspan><tspan dy="-3.6" font-size="6.05">+</tspan><tspan dy="3.6"> CD4</tspan><tspan dy="-3.6" font-size="6.05">+</tspan></text>
<text transform="translate(154.96 317.3) rotate(-90) scale(1 1.12)" font-size="8.9" font-weight="bold" fill="#111" text-anchor="middle">% of TCR<tspan font-weight="normal">&#946;</tspan><tspan dy="-3.6" font-size="6.05">+</tspan><tspan dy="3.6"> CD4</tspan><tspan dy="-3.6" font-size="6.05">+</tspan></text>
<text transform="translate(256.76 317.3) rotate(-90) scale(1 1.12)" font-size="8.9" font-weight="bold" fill="#111" text-anchor="middle">% of TCR<tspan font-weight="normal">&#946;</tspan><tspan dy="-3.6" font-size="6.05">+</tspan><tspan dy="3.6"> CD4</tspan><tspan dy="-3.6" font-size="6.05">+</tspan></text>
<text transform="translate(381.36 314.8) rotate(-90) scale(1 1.12)" font-size="8.9" font-weight="bold" fill="#111" text-anchor="middle">% of TCR<tspan font-weight="normal">&#946;</tspan><tspan dy="-3.6" font-size="6.05">+</tspan><tspan dy="3.6"> CD4</tspan><tspan dy="-3.6" font-size="6.05">+</tspan></text>
<text transform="translate(490.86 314.8) rotate(-90) scale(1 1.12)" font-size="8.9" font-weight="bold" fill="#111" text-anchor="middle">% of TCR<tspan font-weight="normal">&#946;</tspan><tspan dy="-3.6" font-size="6.05">+</tspan><tspan dy="3.6"> CD4</tspan><tspan dy="-3.6" font-size="6.05">+</tspan></text>
<text transform="translate(594.16 314.8) rotate(-90) scale(1 1.12)" font-size="8.9" font-weight="bold" fill="#111" text-anchor="middle">% of TCR<tspan font-weight="normal">&#946;</tspan><tspan dy="-3.6" font-size="6.05">+</tspan><tspan dy="3.6"> CD4</tspan><tspan dy="-3.6" font-size="6.05">+</tspan></text>
<text transform="translate(50.86 486.6) rotate(-90) scale(1 1.12)" font-size="8.9" font-weight="bold" fill="#111" text-anchor="middle">% of TCR<tspan font-weight="normal">&#946;</tspan><tspan dy="-3.6" font-size="6.05">+</tspan><tspan dy="3.6"> CD4</tspan><tspan dy="-3.6" font-size="6.05">+</tspan></text>
<text transform="translate(50.16 629) rotate(-90) scale(1 1.12)" font-size="8.9" font-weight="bold" fill="#111" text-anchor="middle">% of TCR<tspan font-weight="normal">&#946;</tspan><tspan dy="-3.6" font-size="6.05">+</tspan><tspan dy="3.6"> CD4</tspan><tspan dy="-3.6" font-size="6.05">+</tspan></text>
<text transform="translate(49.86 768) rotate(-90) scale(1 1.12)" font-size="8.9" font-weight="bold" fill="#111" text-anchor="middle">% of TCR<tspan font-weight="normal">&#946;</tspan><tspan dy="-3.6" font-size="6.05">+</tspan><tspan dy="3.6"> CD4</tspan><tspan dy="-3.6" font-size="6.05">+</tspan></text>
<text transform="translate(383.16 488) rotate(-90) scale(1 1.12)" font-size="8.9" font-weight="bold" fill="#111" text-anchor="middle">% of TCR<tspan font-weight="normal">&#946;</tspan><tspan dy="-3.6" font-size="6.05">+</tspan><tspan dy="3.6"> CD4</tspan><tspan dy="-3.6" font-size="6.05">+</tspan></text>
<text transform="translate(383.16 628) rotate(-90) scale(1 1.12)" font-size="8.9" font-weight="bold" fill="#111" text-anchor="middle">% of TCR<tspan font-weight="normal">&#946;</tspan><tspan dy="-3.6" font-size="6.05">+</tspan><tspan dy="3.6"> CD4</tspan><tspan dy="-3.6" font-size="6.05">+</tspan></text>
<text transform="translate(383.56 768.5) rotate(-90) scale(1 1.12)" font-size="8.9" font-weight="bold" fill="#111" text-anchor="middle">% of TCR<tspan font-weight="normal">&#946;</tspan><tspan dy="-3.6" font-size="6.05">+</tspan><tspan dy="3.6"> CD4</tspan><tspan dy="-3.6" font-size="6.05">+</tspan></text>
<rect x="166.5" y="422.3" width="175.4" height="122" fill="none" stroke="#444" stroke-width="1"/>
<polyline points="166.5,422.3 144.7,469.1 144.7,535 166.5,544.3" fill="none" stroke="#444" stroke-width="0.9"/>
<text transform="translate(197.5 439) scale(1 1.17)" font-size="7.5" fill="#1a1a1a">IL-10<tspan dy="-3.6" font-size="5.6" font-weight="bold">+</tspan><tspan dy="3.6"> T</tspan><tspan dy="1.9" font-size="4.6">h</tspan><tspan dy="-1.9">17</tspan></text>
<text transform="translate(277.5 439) scale(1 1.17)" font-size="7.5" fill="#1a1a1a">IFN<tspan font-size="6" dy="0.6">&#947;</tspan><tspan dy="-4.2" font-size="5.6" font-weight="bold">+</tspan><tspan dy="3.6" dx="1.0">T</tspan><tspan dy="1.9" font-size="4.6">h</tspan><tspan dy="-1.9">17</tspan></text>
<text transform="translate(177.2 493.2) rotate(-90) scale(1 1.1)" font-size="7.4" font-weight="bold" fill="#111" text-anchor="middle">% of T<tspan dy="1.6" font-size="5">h</tspan><tspan dy="-1.6">17</tspan></text>
<rect x="165.7" y="566.8" width="175.7" height="121.7" fill="none" stroke="#444" stroke-width="1"/>
<polyline points="165.7,566.8 144.7,614.1 144.7,680 165.7,688.5" fill="none" stroke="#444" stroke-width="0.9"/>
<text transform="translate(196.6 582.6) scale(1 1.17)" font-size="7.5" fill="#1a1a1a">IL-10<tspan dy="-3.6" font-size="5.6" font-weight="bold">+</tspan><tspan dy="3.6"> T</tspan><tspan dy="1.9" font-size="4.6">h</tspan><tspan dy="-1.9">17</tspan></text>
<text transform="translate(276.7 582.6) scale(1 1.17)" font-size="7.5" fill="#1a1a1a">IFN<tspan font-size="6" dy="0.6">&#947;</tspan><tspan dy="-4.2" font-size="5.6" font-weight="bold">+</tspan><tspan dy="3.6" dx="1.0">T</tspan><tspan dy="1.9" font-size="4.6">h</tspan><tspan dy="-1.9">17</tspan></text>
<text transform="translate(176.4 636.5) rotate(-90) scale(1 1.1)" font-size="7.4" font-weight="bold" fill="#111" text-anchor="middle">% of T<tspan dy="1.6" font-size="5">h</tspan><tspan dy="-1.6">17</tspan></text>
<rect x="166.3" y="704.7" width="175" height="121.5" fill="none" stroke="#444" stroke-width="1"/>
<polyline points="166.3,704.7 144.7,751.7 144.7,816.7 166.3,826.2" fill="none" stroke="#444" stroke-width="0.9"/>
<text transform="translate(197.5 720.6) scale(1 1.17)" font-size="7.5" fill="#1a1a1a">IL-10<tspan dy="-3.6" font-size="5.6" font-weight="bold">+</tspan><tspan dy="3.6"> T</tspan><tspan dy="1.9" font-size="4.6">h</tspan><tspan dy="-1.9">17</tspan></text>
<text transform="translate(276.7 720.6) scale(1 1.17)" font-size="7.5" fill="#1a1a1a">IFN<tspan font-size="6" dy="0.6">&#947;</tspan><tspan dy="-4.2" font-size="5.6" font-weight="bold">+</tspan><tspan dy="3.6" dx="1.0">T</tspan><tspan dy="1.9" font-size="4.6">h</tspan><tspan dy="-1.9">17</tspan></text>
<text transform="translate(180.1 774) rotate(-90) scale(1 1.1)" font-size="7.4" font-weight="bold" fill="#111" text-anchor="middle">% of T<tspan dy="1.6" font-size="5">h</tspan><tspan dy="-1.6">17</tspan></text>
<rect x="499.8" y="423.2" width="175.7" height="121.3" fill="none" stroke="#444" stroke-width="1"/>
<polyline points="499.8,423.2 478.4,469.1 478.4,535.9 499.8,544.5" fill="none" stroke="#444" stroke-width="0.9"/>
<text transform="translate(530.8 439.3) scale(1 1.17)" font-size="7.5" fill="#1a1a1a">IL-10<tspan dy="-3.6" font-size="5.6" font-weight="bold">+</tspan><tspan dy="3.6"> T</tspan><tspan dy="1.9" font-size="4.6">h</tspan><tspan dy="-1.9">17</tspan></text>
<text transform="translate(610.8 439.3) scale(1 1.17)" font-size="7.5" fill="#1a1a1a">IFN<tspan font-size="6" dy="0.6">&#947;</tspan><tspan dy="-4.2" font-size="5.6" font-weight="bold">+</tspan><tspan dy="3.6" dx="1.0">T</tspan><tspan dy="1.9" font-size="4.6">h</tspan><tspan dy="-1.9">17</tspan></text>
<text transform="translate(510.1 493.5) rotate(-90) scale(1 1.1)" font-size="7.4" font-weight="bold" fill="#111" text-anchor="middle">% of T<tspan dy="1.6" font-size="5">h</tspan><tspan dy="-1.6">17</tspan></text>
<rect x="499.2" y="567.3" width="175.5" height="121.9" fill="none" stroke="#444" stroke-width="1"/>
<polyline points="499.2,567.3 478,615 478,680.9 499.2,689.2" fill="none" stroke="#444" stroke-width="0.9"/>
<text transform="translate(529.9 583) scale(1 1.17)" font-size="7.5" fill="#1a1a1a">IL-10<tspan dy="-3.6" font-size="5.6" font-weight="bold">+</tspan><tspan dy="3.6"> T</tspan><tspan dy="1.9" font-size="4.6">h</tspan><tspan dy="-1.9">17</tspan></text>
<text transform="translate(609.6 583) scale(1 1.17)" font-size="7.5" fill="#1a1a1a">IFN<tspan font-size="6" dy="0.6">&#947;</tspan><tspan dy="-4.2" font-size="5.6" font-weight="bold">+</tspan><tspan dy="3.6" dx="1.0">T</tspan><tspan dy="1.9" font-size="4.6">h</tspan><tspan dy="-1.9">17</tspan></text>
<text transform="translate(509.9 637) rotate(-90) scale(1 1.1)" font-size="7.4" font-weight="bold" fill="#111" text-anchor="middle">% of T<tspan dy="1.6" font-size="5">h</tspan><tspan dy="-1.6">17</tspan></text>
<rect x="499.7" y="705" width="175" height="121.5" fill="none" stroke="#444" stroke-width="1"/>
<polyline points="499.7,705 477.5,752.5 477.5,818 499.7,826.5" fill="none" stroke="#444" stroke-width="0.9"/>
<text transform="translate(530.5 721.4) scale(1 1.17)" font-size="7.5" fill="#1a1a1a">IL-10<tspan dy="-3.6" font-size="5.6" font-weight="bold">+</tspan><tspan dy="3.6"> T</tspan><tspan dy="1.9" font-size="4.6">h</tspan><tspan dy="-1.9">17</tspan></text>
<text transform="translate(610.8 721.4) scale(1 1.17)" font-size="7.5" fill="#1a1a1a">IFN<tspan font-size="6" dy="0.6">&#947;</tspan><tspan dy="-4.2" font-size="5.6" font-weight="bold">+</tspan><tspan dy="3.6" dx="1.0">T</tspan><tspan dy="1.9" font-size="4.6">h</tspan><tspan dy="-1.9">17</tspan></text>
<text transform="translate(510.1 775) rotate(-90) scale(1 1.1)" font-size="7.4" font-weight="bold" fill="#111" text-anchor="middle">% of T<tspan dy="1.6" font-size="5">h</tspan><tspan dy="-1.6">17</tspan></text>
<rect x="324.4" y="168" width="11.4" height="9.8" fill="#5a5a5a"/>
<rect x="324.4" y="180.9" width="11.4" height="9.8" fill="#3ec364"/>
<text x="338.6" y="176.2" font-size="9" font-weight="bold" fill="#111">Complex<tspan dy="1.8" font-size="5.2">ref</tspan></text>
<text x="338.6" y="189.6" font-size="9" font-weight="bold" fill="#3ec364">Complex<tspan dy="1.8" font-size="5.2">McB</tspan></text>
<g><path d="M16.5 82.5 C12 80 6 78.5 3 80 C1.5 81 3.5 83 6.9 84.7" fill="none" stroke="#c39390" stroke-width="1.1" stroke-linecap="round"/><ellipse cx="15.8" cy="87.8" rx="1.2" ry="0.9" fill="#c39390"/><path d="M22.5 91 L22.8 98.8 L25.6 98.8 L25.8 91 Z" fill="#4c4645"/><path d="M34.3 90 L34.6 96 L37.2 96 L37.2 90 Z" fill="#4c4645"/><ellipse cx="23.6" cy="99.2" rx="2.4" ry="0.9" fill="#c39390"/><ellipse cx="36.6" cy="96.5" rx="2.2" ry="0.9" fill="#c39390"/><path d="M16.5 86 C15.5 79 21 75.5 27 76 L33 74.5 C36 71 40 72.5 41.5 75.5 L44.5 80.2 C43 83 40 85.5 38.5 88 C37.5 92.5 34 94.5 29 94.3 C22 94.5 17 91 16.5 86 Z" fill="#4c4645"/><circle cx="28.3" cy="76.4" r="3.7" fill="#c39390" stroke="#4c4645" stroke-width="0.5"/><path d="M36.3 74.8 L37.4 70.8 L39.8 73.8 Z" fill="#4c4645"/><path d="M37.1 73.8 L37.6 71.9 L38.8 73.5 Z" fill="#c39390"/><circle cx="35.8" cy="78.6" r="0.8" fill="#111"/><circle cx="43.4" cy="80.1" r="1.0" fill="#c39390"/></g>
<line x1="55.6" y1="83.2" x2="101.9" y2="83.2" stroke="#8c8c8c" stroke-width="1.5"/>
<circle cx="55.6" cy="83.2" r="2.5" fill="#8a8a8a"/>
<line x1="101.9" y1="83.2" x2="323" y2="83.2" stroke="#474747" stroke-width="3.2"/>
<circle cx="101.9" cy="83.2" r="7" fill="#474747"/>
<circle cx="176.8" cy="83.2" r="7" fill="#474747"/>
<circle cx="250.8" cy="83.2" r="7" fill="#474747"/>
<circle cx="323.0" cy="83.2" r="7" fill="#474747"/>
<line x1="53.9" y1="67.6" x2="323" y2="67.6" stroke="#8c8c8c" stroke-width="1"/>
<path d="M102 67.6 L102 53.5 Q102 49.5 106 49.5 L323 49.5" fill="none" stroke="#f4b73f" stroke-width="1.1"/>
<circle cx="102" cy="67.6" r="3" fill="#f4b73f"/>
<line x1="52.8" y1="108.4" x2="323" y2="108.4" stroke="#3f7f33" stroke-width="1"/>
<path d="M101.5 108.4 L101.5 122.5 Q101.5 126.5 105.5 126.5 L323 126.5" fill="none" stroke="#f4b73f" stroke-width="1.1"/>
<circle cx="101.5" cy="108.4" r="3" fill="#f4b73f"/>
<circle cx="323" cy="49.5" r="1.2" fill="#f4b73f"/>
<circle cx="323" cy="67.6" r="1.2" fill="#8c8c8c"/>
<circle cx="323" cy="108.4" r="1.2" fill="#3f7f33"/>
<circle cx="323" cy="126.5" r="1.2" fill="#f4b73f"/>
<text x="112.7" y="47.8" font-size="6.4" text-anchor="start" font-weight="bold" fill="#222" textLength="48.5" lengthAdjust="spacingAndGlyphs">Antibiotics (ABX)</text>
<text x="108.7" y="65.6" font-size="6.5" text-anchor="start" font-weight="bold" fill="#222" textLength="16.3" lengthAdjust="spacingAndGlyphs">Water</text>
<text x="108.4" y="117.9" font-size="6.5" text-anchor="start" font-weight="bold" fill="#222" textLength="16.6" lengthAdjust="spacingAndGlyphs">Water</text>
<text x="112.0" y="136.4" font-size="6.4" text-anchor="start" font-weight="bold" fill="#222" textLength="48.3" lengthAdjust="spacingAndGlyphs">Antibiotics (ABX)</text>
<text x="73.7" y="58.4" font-size="6.5" text-anchor="middle" font-weight="bold" fill="#222" textLength="24.6" lengthAdjust="spacingAndGlyphs">Complex</text>
<text x="73.6" y="65.2" font-size="6.5" text-anchor="middle" font-weight="bold" fill="#222" textLength="29.2" lengthAdjust="spacingAndGlyphs">Reference</text>
<text x="59.9" y="133.5" font-size="6.6" font-weight="bold" fill="#222">Complex<tspan font-size="3.6" dy="0.6">McB</tspan></text>
<text x="46.5" y="101.5" font-size="6.8" text-anchor="start" fill="#222" textLength="18.7" lengthAdjust="spacingAndGlyphs">Day -7</text>
<text x="102.2" y="99.0" font-size="7.0" text-anchor="middle" font-weight="bold" fill="#222" textLength="22.7" lengthAdjust="spacingAndGlyphs">Week 0</text>
<text x="177.0" y="99.0" font-size="7.0" text-anchor="middle" font-weight="bold" fill="#222" textLength="22.7" lengthAdjust="spacingAndGlyphs">Week 2</text>
<text x="250.8" y="99.0" font-size="7.0" text-anchor="middle" font-weight="bold" fill="#222" textLength="22.7" lengthAdjust="spacingAndGlyphs">Week 4</text>
<text x="323.0" y="99.0" font-size="7.0" text-anchor="middle" font-weight="bold" fill="#222" textLength="22.7" lengthAdjust="spacingAndGlyphs">Week 6</text>
<text x="177.5" y="21.1" font-size="7.0" text-anchor="middle" font-weight="bold" fill="#222" textLength="37.1" lengthAdjust="spacingAndGlyphs">Termination</text>
<text x="177.5" y="29.4" font-size="6.9" text-anchor="middle" font-weight="bold" fill="#222" textLength="46.6" lengthAdjust="spacingAndGlyphs">Flow cytometry</text>
<text x="251.2" y="21.1" font-size="7.0" text-anchor="middle" font-weight="bold" fill="#222" textLength="37.1" lengthAdjust="spacingAndGlyphs">Termination</text>
<text x="251.2" y="29.4" font-size="6.9" text-anchor="middle" font-weight="bold" fill="#222" textLength="46.6" lengthAdjust="spacingAndGlyphs">Flow cytometry</text>
<text x="322.4" y="21.1" font-size="7.0" text-anchor="middle" font-weight="bold" fill="#222" textLength="37.1" lengthAdjust="spacingAndGlyphs">Termination</text>
<text x="322.4" y="29.4" font-size="6.9" text-anchor="middle" font-weight="bold" fill="#222" textLength="46.6" lengthAdjust="spacingAndGlyphs">Flow cytometry</text>
<line x1="176.8" y1="32.2" x2="176.8" y2="42.5" stroke="#111" stroke-width="0.9"/>
<path d="M176.8 44.4 L175.10000000000002 41.2 L178.5 41.2 Z" fill="#111"/>
<line x1="250.8" y1="32.2" x2="250.8" y2="42.5" stroke="#111" stroke-width="0.9"/>
<path d="M250.8 44.4 L249.10000000000002 41.2 L252.5 41.2 Z" fill="#111"/>
<line x1="322.1" y1="32.2" x2="322.1" y2="42.5" stroke="#111" stroke-width="0.9"/>
<path d="M322.1 44.4 L320.40000000000003 41.2 L323.8 41.2 Z" fill="#111"/>
<g><path d="M59.6 49.5 L59.6 46.6 L61.7 45.8 L63.8 43.8 L65.9 43.5 L68.0 42.0 L70.1 41.7 L72.2 41.9 L74.2 41.0 L76.3 41.9 L78.4 41.6 L80.5 42.7 L82.6 43.4 L84.7 44.1 L86.8 45.3 L88.9 46.8 L88.9 49.5 Z" fill="#b9b9b9"/><circle cx="66.7" cy="44.2" r="1.5" fill="#a4a4a4"/><circle cx="76.4" cy="45.2" r="1.5" fill="#b9b9b9"/><circle cx="61.9" cy="44.9" r="1.1" fill="#b9b9b9"/><circle cx="64.5" cy="47.8" r="1.1" fill="#a4a4a4"/><circle cx="82.9" cy="47.3" r="1.2" fill="#b9b9b9"/><circle cx="78.0" cy="45.5" r="1.2" fill="#b9b9b9"/><circle cx="62.3" cy="48.2" r="1.0" fill="#a4a4a4"/><circle cx="79.2" cy="45.2" r="1.1" fill="#b9b9b9"/><circle cx="76.6" cy="44.8" r="1.1" fill="#b9b9b9"/><circle cx="82.3" cy="43.8" r="1.0" fill="#a4a4a4"/><circle cx="76.3" cy="44.2" r="1.4" fill="#b9b9b9"/><circle cx="80.5" cy="46.4" r="1.5" fill="#b9b9b9"/><circle cx="63.8" cy="46.2" r="1.4" fill="#a4a4a4"/><circle cx="64.7" cy="45.6" r="0.9" fill="#b9b9b9"/><circle cx="78.8" cy="42.5" r="1.2" fill="#b9b9b9"/><circle cx="84.5" cy="46.7" r="1.3" fill="#a4a4a4"/><circle cx="76.8" cy="43.7" r="1.2" fill="#b9b9b9"/><circle cx="83.5" cy="42.7" r="1.2" fill="#b9b9b9"/><circle cx="78.7" cy="48.0" r="1.3" fill="#a4a4a4"/><circle cx="78.3" cy="40.6" r="1.4" fill="#b9b9b9"/><circle cx="68.4" cy="45.6" r="1.3" fill="#b9b9b9"/><circle cx="61.2" cy="46.8" r="1.0" fill="#a4a4a4"/><circle cx="63.8" cy="48.2" r="1.4" fill="#b9b9b9"/><circle cx="64.1" cy="47.1" r="1.1" fill="#b9b9b9"/><circle cx="84.4" cy="48.0" r="1.2" fill="#a4a4a4"/><circle cx="75.6" cy="41.1" r="1.4" fill="#b9b9b9"/><circle cx="84.2" cy="46.9" r="1.1" fill="#b9b9b9"/><circle cx="70.4" cy="41.4" r="1.5" fill="#a4a4a4"/><circle cx="64.7" cy="47.4" r="1.0" fill="#b9b9b9"/><circle cx="67.0" cy="45.1" r="1.3" fill="#b9b9b9"/><circle cx="67.8" cy="48.5" r="1.2" fill="#a4a4a4"/><circle cx="70.7" cy="43.9" r="1.5" fill="#b9b9b9"/><circle cx="79.5" cy="44.5" r="1.3" fill="#b9b9b9"/><circle cx="79.1" cy="48.1" r="1.4" fill="#a4a4a4"/><circle cx="81.9" cy="42.5" r="1.4" fill="#b9b9b9"/><circle cx="71.3" cy="45.2" r="1.0" fill="#b9b9b9"/><circle cx="77.9" cy="48.0" r="0.9" fill="#a4a4a4"/><circle cx="66.3" cy="47.4" r="1.1" fill="#b9b9b9"/></g>
<g><path d="M61.0 123.8 L61.0 120.8 L63.1 119.9 L65.3 117.8 L67.4 117.4 L69.5 115.9 L71.7 115.5 L73.8 115.7 L76.0 114.8 L78.1 115.7 L80.2 115.4 L82.4 116.6 L84.5 117.4 L86.6 118.0 L88.8 119.3 L90.9 120.9 L90.9 123.8 Z" fill="#5db44a"/><circle cx="68.2" cy="118.2" r="1.5" fill="#4a9a3a"/><circle cx="78.1" cy="119.3" r="1.5" fill="#5db44a"/><circle cx="63.3" cy="118.9" r="1.1" fill="#5db44a"/><circle cx="66.0" cy="122.1" r="1.1" fill="#4a9a3a"/><circle cx="84.8" cy="121.6" r="1.2" fill="#5db44a"/><circle cx="79.8" cy="119.6" r="1.2" fill="#5db44a"/><circle cx="63.8" cy="122.5" r="1.0" fill="#4a9a3a"/><circle cx="81.0" cy="119.3" r="1.1" fill="#5db44a"/><circle cx="78.3" cy="118.8" r="1.1" fill="#5db44a"/><circle cx="84.2" cy="117.8" r="1.0" fill="#4a9a3a"/><circle cx="78.0" cy="118.2" r="1.4" fill="#5db44a"/><circle cx="82.4" cy="120.5" r="1.5" fill="#5db44a"/><circle cx="65.3" cy="120.3" r="1.4" fill="#4a9a3a"/><circle cx="66.2" cy="119.7" r="0.9" fill="#5db44a"/><circle cx="80.6" cy="116.4" r="1.2" fill="#5db44a"/><circle cx="86.4" cy="120.9" r="1.3" fill="#4a9a3a"/><circle cx="78.6" cy="117.7" r="1.2" fill="#5db44a"/><circle cx="85.4" cy="116.6" r="1.2" fill="#5db44a"/><circle cx="80.5" cy="122.3" r="1.3" fill="#4a9a3a"/><circle cx="80.1" cy="114.4" r="1.4" fill="#5db44a"/><circle cx="69.9" cy="119.7" r="1.3" fill="#5db44a"/><circle cx="62.6" cy="121.0" r="1.0" fill="#4a9a3a"/><circle cx="65.3" cy="122.5" r="1.4" fill="#5db44a"/><circle cx="65.6" cy="121.3" r="1.1" fill="#5db44a"/><circle cx="86.3" cy="122.3" r="1.2" fill="#4a9a3a"/><circle cx="77.3" cy="115.0" r="1.4" fill="#5db44a"/><circle cx="86.1" cy="121.1" r="1.1" fill="#5db44a"/><circle cx="72.0" cy="115.3" r="1.5" fill="#4a9a3a"/><circle cx="66.2" cy="121.7" r="1.0" fill="#5db44a"/><circle cx="68.5" cy="119.2" r="1.3" fill="#5db44a"/><circle cx="69.3" cy="122.8" r="1.2" fill="#4a9a3a"/><circle cx="72.3" cy="118.0" r="1.5" fill="#5db44a"/><circle cx="81.3" cy="118.6" r="1.3" fill="#5db44a"/><circle cx="80.9" cy="122.4" r="1.4" fill="#4a9a3a"/><circle cx="83.8" cy="116.4" r="1.4" fill="#5db44a"/><circle cx="72.9" cy="119.3" r="1.0" fill="#5db44a"/><circle cx="79.7" cy="122.3" r="0.9" fill="#4a9a3a"/><circle cx="67.8" cy="121.6" r="1.1" fill="#5db44a"/></g>
<g transform="translate(96.5 55.5) rotate(-12)"><rect x="-2.8" y="-9" width="5.6" height="14" rx="1" fill="#eeeeee" stroke="#c8c8c8" stroke-width="0.4"/><rect x="-2.8" y="-3" width="5.6" height="8" fill="#f3d36a"/><ellipse cx="0" cy="1" rx="1.6" ry="2.6" fill="#8a4aa0"/><rect x="-1.2" y="5" width="2.4" height="2.5" fill="#4a7ad0"/><line x1="0" y1="7.5" x2="0" y2="11" stroke="#bbb" stroke-width="0.6"/></g>
<g transform="translate(99.5 121.5) rotate(-12)"><rect x="-2.8" y="-9" width="5.6" height="14" rx="1" fill="#eeeeee" stroke="#c8c8c8" stroke-width="0.4"/><rect x="-2.8" y="-3" width="5.6" height="8" fill="#f3d36a"/><ellipse cx="0" cy="1" rx="1.6" ry="2.6" fill="#8a4aa0"/><rect x="-1.2" y="5" width="2.4" height="2.5" fill="#4a7ad0"/><line x1="0" y1="7.5" x2="0" y2="11" stroke="#bbb" stroke-width="0.6"/></g>
<g transform="translate(171.1 152.5) scale(1.0 0.985)"><path d="M6 10 C14 12 22 18 30 19 C38 19 44 11 48.5 7 L49.5 44 C49.5 51 44 55 36 54 C30 53 20 53 14 51.5 C9 50 6 46 6 40 Z" fill="#f5c2ad"/><path d="M10 24 c2 -4 7 -4 8 0 c1 3 -3 5 -5 3" fill="none" stroke="#e5a48e" stroke-width="0.9" stroke-linecap="round"/><path d="M19 25 c2 -4 8 -3 8 1 c0 4 -5 5 -6 2" fill="none" stroke="#e5a48e" stroke-width="0.9" stroke-linecap="round"/><path d="M29 25 c3 -3 8 -2 7 2 c-1 4 -6 4 -6 1" fill="none" stroke="#e5a48e" stroke-width="0.9" stroke-linecap="round"/><path d="M38 21 c3 -2 7 0 6 4 c-1 3 -5 3 -5 0" fill="none" stroke="#e5a48e" stroke-width="0.9" stroke-linecap="round"/><path d="M9 33 c2 -4 7 -3 7 1 c0 4 -5 5 -6 1" fill="none" stroke="#e5a48e" stroke-width="0.9" stroke-linecap="round"/><path d="M18 33 c3 -3 8 -2 8 2 c0 4 -6 4 -6 0" fill="none" stroke="#e5a48e" stroke-width="0.9" stroke-linecap="round"/><path d="M28 33 c3 -4 8 -2 7 2 c-1 4 -6 4 -5 0" fill="none" stroke="#e5a48e" stroke-width="0.9" stroke-linecap="round"/><path d="M37 31 c3 -3 8 -1 7 3 c-1 4 -6 3 -5 0" fill="none" stroke="#e5a48e" stroke-width="0.9" stroke-linecap="round"/><path d="M11 42 c2 -3 7 -2 7 1 c0 3 -4 4 -5 1" fill="none" stroke="#e5a48e" stroke-width="0.9" stroke-linecap="round"/><path d="M20 43 c3 -3 8 -2 7 2 c-1 3 -5 3 -5 0" fill="none" stroke="#e5a48e" stroke-width="0.9" stroke-linecap="round"/><path d="M30 42 c3 -3 8 -2 7 2 c-1 3 -5 3 -5 0" fill="none" stroke="#e5a48e" stroke-width="0.9" stroke-linecap="round"/><path d="M39 40 c2 -2 6 -1 6 2 c0 3 -4 3 -4 0" fill="none" stroke="#e5a48e" stroke-width="0.9" stroke-linecap="round"/><path d="M3.6 46 L3.4 11" fill="none" stroke="#d9d1cf" stroke-width="6.8" stroke-linecap="round" stroke-linejoin="round"/><path d="M3.6 9 C10 5.5 18 10 24 13 C30 16 36 14.5 42 9.5 C46 6 49 4 51.5 5" fill="none" stroke="#d9d1cf" stroke-width="9.0" stroke-linecap="round" stroke-linejoin="round"/><path d="M51.4 6 L51.4 44" fill="none" stroke="#d9d1cf" stroke-width="7.6" stroke-linecap="round" stroke-linejoin="round"/><path d="M51.4 44 C51 51 46 55.5 40 55.5 C36 55.5 33 54.5 31 53.5" fill="none" stroke="#d9d1cf" stroke-width="7.0" stroke-linecap="round" stroke-linejoin="round"/><path d="M30.5 53 L30.5 62" fill="none" stroke="#d9d1cf" stroke-width="5.6" stroke-linecap="round" stroke-linejoin="round"/><circle cx="2.2" cy="14" r="2.8" fill="#d9d1cf"/><circle cx="1.8" cy="21" r="2.9" fill="#d9d1cf"/><circle cx="1.8" cy="28" r="2.9" fill="#d9d1cf"/><circle cx="1.9" cy="35" r="2.9" fill="#d9d1cf"/><circle cx="5.5" cy="46" r="5.4" fill="#d9d1cf"/><circle cx="3.0" cy="7.0" r="3.2" fill="#d9d1cf"/><circle cx="9.5" cy="6.5" r="3.3" fill="#d9d1cf"/><circle cx="16" cy="9" r="3.4" fill="#d9d1cf"/><circle cx="22.5" cy="12.3" r="3.4" fill="#d9d1cf"/><circle cx="29" cy="14.3" r="3.3" fill="#d9d1cf"/><circle cx="36" cy="12.8" r="3.3" fill="#d9d1cf"/><circle cx="42" cy="8.5" r="3.5" fill="#d9d1cf"/><circle cx="48" cy="4.8" r="3.6" fill="#d9d1cf"/><circle cx="53" cy="5.5" r="3.3" fill="#d9d1cf"/><circle cx="53.4" cy="13" r="3.0" fill="#d9d1cf"/><circle cx="53.7" cy="20" r="3.0" fill="#d9d1cf"/><circle cx="53.7" cy="27" r="3.0" fill="#d9d1cf"/><circle cx="53.6" cy="34" r="3.0" fill="#d9d1cf"/><circle cx="53.2" cy="41" r="3.1" fill="#d9d1cf"/><circle cx="51.5" cy="48.5" r="3.6" fill="#d9d1cf"/><circle cx="46.5" cy="53.5" r="3.8" fill="#d9d1cf"/><circle cx="40" cy="56" r="3.4" fill="#d9d1cf"/><circle cx="34.5" cy="55" r="3.0" fill="#d9d1cf"/><path d="M14.5 0.8 L13.2 7" stroke="#f5c2ad" stroke-width="3.4" stroke-linecap="round"/><path d="M17 52 L17.6 56" stroke="#cdc3c1" stroke-width="1" stroke-linecap="round"/></g>
<g transform="translate(511.8 155.1) scale(0.993 1.04)"><path d="M6 10 C14 12 22 18 30 19 C38 19 44 11 48.5 7 L49.5 44 C49.5 51 44 55 36 54 C30 53 20 53 14 51.5 C9 50 6 46 6 40 Z" fill="#e5dedb"/><path d="M10 24 c2 -4 7 -4 8 0 c1 3 -3 5 -5 3" fill="none" stroke="#d3c9c6" stroke-width="0.9" stroke-linecap="round"/><path d="M19 25 c2 -4 8 -3 8 1 c0 4 -5 5 -6 2" fill="none" stroke="#d3c9c6" stroke-width="0.9" stroke-linecap="round"/><path d="M29 25 c3 -3 8 -2 7 2 c-1 4 -6 4 -6 1" fill="none" stroke="#d3c9c6" stroke-width="0.9" stroke-linecap="round"/><path d="M38 21 c3 -2 7 0 6 4 c-1 3 -5 3 -5 0" fill="none" stroke="#d3c9c6" stroke-width="0.9" stroke-linecap="round"/><path d="M9 33 c2 -4 7 -3 7 1 c0 4 -5 5 -6 1" fill="none" stroke="#d3c9c6" stroke-width="0.9" stroke-linecap="round"/><path d="M18 33 c3 -3 8 -2 8 2 c0 4 -6 4 -6 0" fill="none" stroke="#d3c9c6" stroke-width="0.9" stroke-linecap="round"/><path d="M28 33 c3 -4 8 -2 7 2 c-1 4 -6 4 -5 0" fill="none" stroke="#d3c9c6" stroke-width="0.9" stroke-linecap="round"/><path d="M37 31 c3 -3 8 -1 7 3 c-1 4 -6 3 -5 0" fill="none" stroke="#d3c9c6" stroke-width="0.9" stroke-linecap="round"/><path d="M11 42 c2 -3 7 -2 7 1 c0 3 -4 4 -5 1" fill="none" stroke="#d3c9c6" stroke-width="0.9" stroke-linecap="round"/><path d="M20 43 c3 -3 8 -2 7 2 c-1 3 -5 3 -5 0" fill="none" stroke="#d3c9c6" stroke-width="0.9" stroke-linecap="round"/><path d="M30 42 c3 -3 8 -2 7 2 c-1 3 -5 3 -5 0" fill="none" stroke="#d3c9c6" stroke-width="0.9" stroke-linecap="round"/><path d="M39 40 c2 -2 6 -1 6 2 c0 3 -4 3 -4 0" fill="none" stroke="#d3c9c6" stroke-width="0.9" stroke-linecap="round"/><path d="M3.6 46 L3.4 11" fill="none" stroke="#efa6a9" stroke-width="6.8" stroke-linecap="round" stroke-linejoin="round"/><path d="M3.6 9 C10 5.5 18 10 24 13 C30 16 36 14.5 42 9.5 C46 6 49 4 51.5 5" fill="none" stroke="#efa6a9" stroke-width="9.0" stroke-linecap="round" stroke-linejoin="round"/><path d="M51.4 6 L51.4 44" fill="none" stroke="#efa6a9" stroke-width="7.6" stroke-linecap="round" stroke-linejoin="round"/><path d="M51.4 44 C51 51 46 55.5 40 55.5 C36 55.5 33 54.5 31 53.5" fill="none" stroke="#efa6a9" stroke-width="7.0" stroke-linecap="round" stroke-linejoin="round"/><path d="M30.5 53 L30.5 62" fill="none" stroke="#efa6a9" stroke-width="5.6" stroke-linecap="round" stroke-linejoin="round"/><circle cx="2.2" cy="14" r="2.8" fill="#efa6a9"/><circle cx="1.8" cy="21" r="2.9" fill="#efa6a9"/><circle cx="1.8" cy="28" r="2.9" fill="#efa6a9"/><circle cx="1.9" cy="35" r="2.9" fill="#efa6a9"/><circle cx="5.5" cy="46" r="5.4" fill="#efa6a9"/><circle cx="3.0" cy="7.0" r="3.2" fill="#efa6a9"/><circle cx="9.5" cy="6.5" r="3.3" fill="#efa6a9"/><circle cx="16" cy="9" r="3.4" fill="#efa6a9"/><circle cx="22.5" cy="12.3" r="3.4" fill="#efa6a9"/><circle cx="29" cy="14.3" r="3.3" fill="#efa6a9"/><circle cx="36" cy="12.8" r="3.3" fill="#efa6a9"/><circle cx="42" cy="8.5" r="3.5" fill="#efa6a9"/><circle cx="48" cy="4.8" r="3.6" fill="#efa6a9"/><circle cx="53" cy="5.5" r="3.3" fill="#efa6a9"/><circle cx="53.4" cy="13" r="3.0" fill="#efa6a9"/><circle cx="53.7" cy="20" r="3.0" fill="#efa6a9"/><circle cx="53.7" cy="27" r="3.0" fill="#efa6a9"/><circle cx="53.6" cy="34" r="3.0" fill="#efa6a9"/><circle cx="53.2" cy="41" r="3.1" fill="#efa6a9"/><circle cx="51.5" cy="48.5" r="3.6" fill="#efa6a9"/><circle cx="46.5" cy="53.5" r="3.8" fill="#efa6a9"/><circle cx="40" cy="56" r="3.4" fill="#efa6a9"/><circle cx="34.5" cy="55" r="3.0" fill="#efa6a9"/><path d="M14.5 0.8 L13.2 7" stroke="#e5dedb" stroke-width="3.4" stroke-linecap="round"/><path d="M17 52 L17.6 56" stroke="#e08e92" stroke-width="1" stroke-linecap="round"/></g>
</svg></body></html>
